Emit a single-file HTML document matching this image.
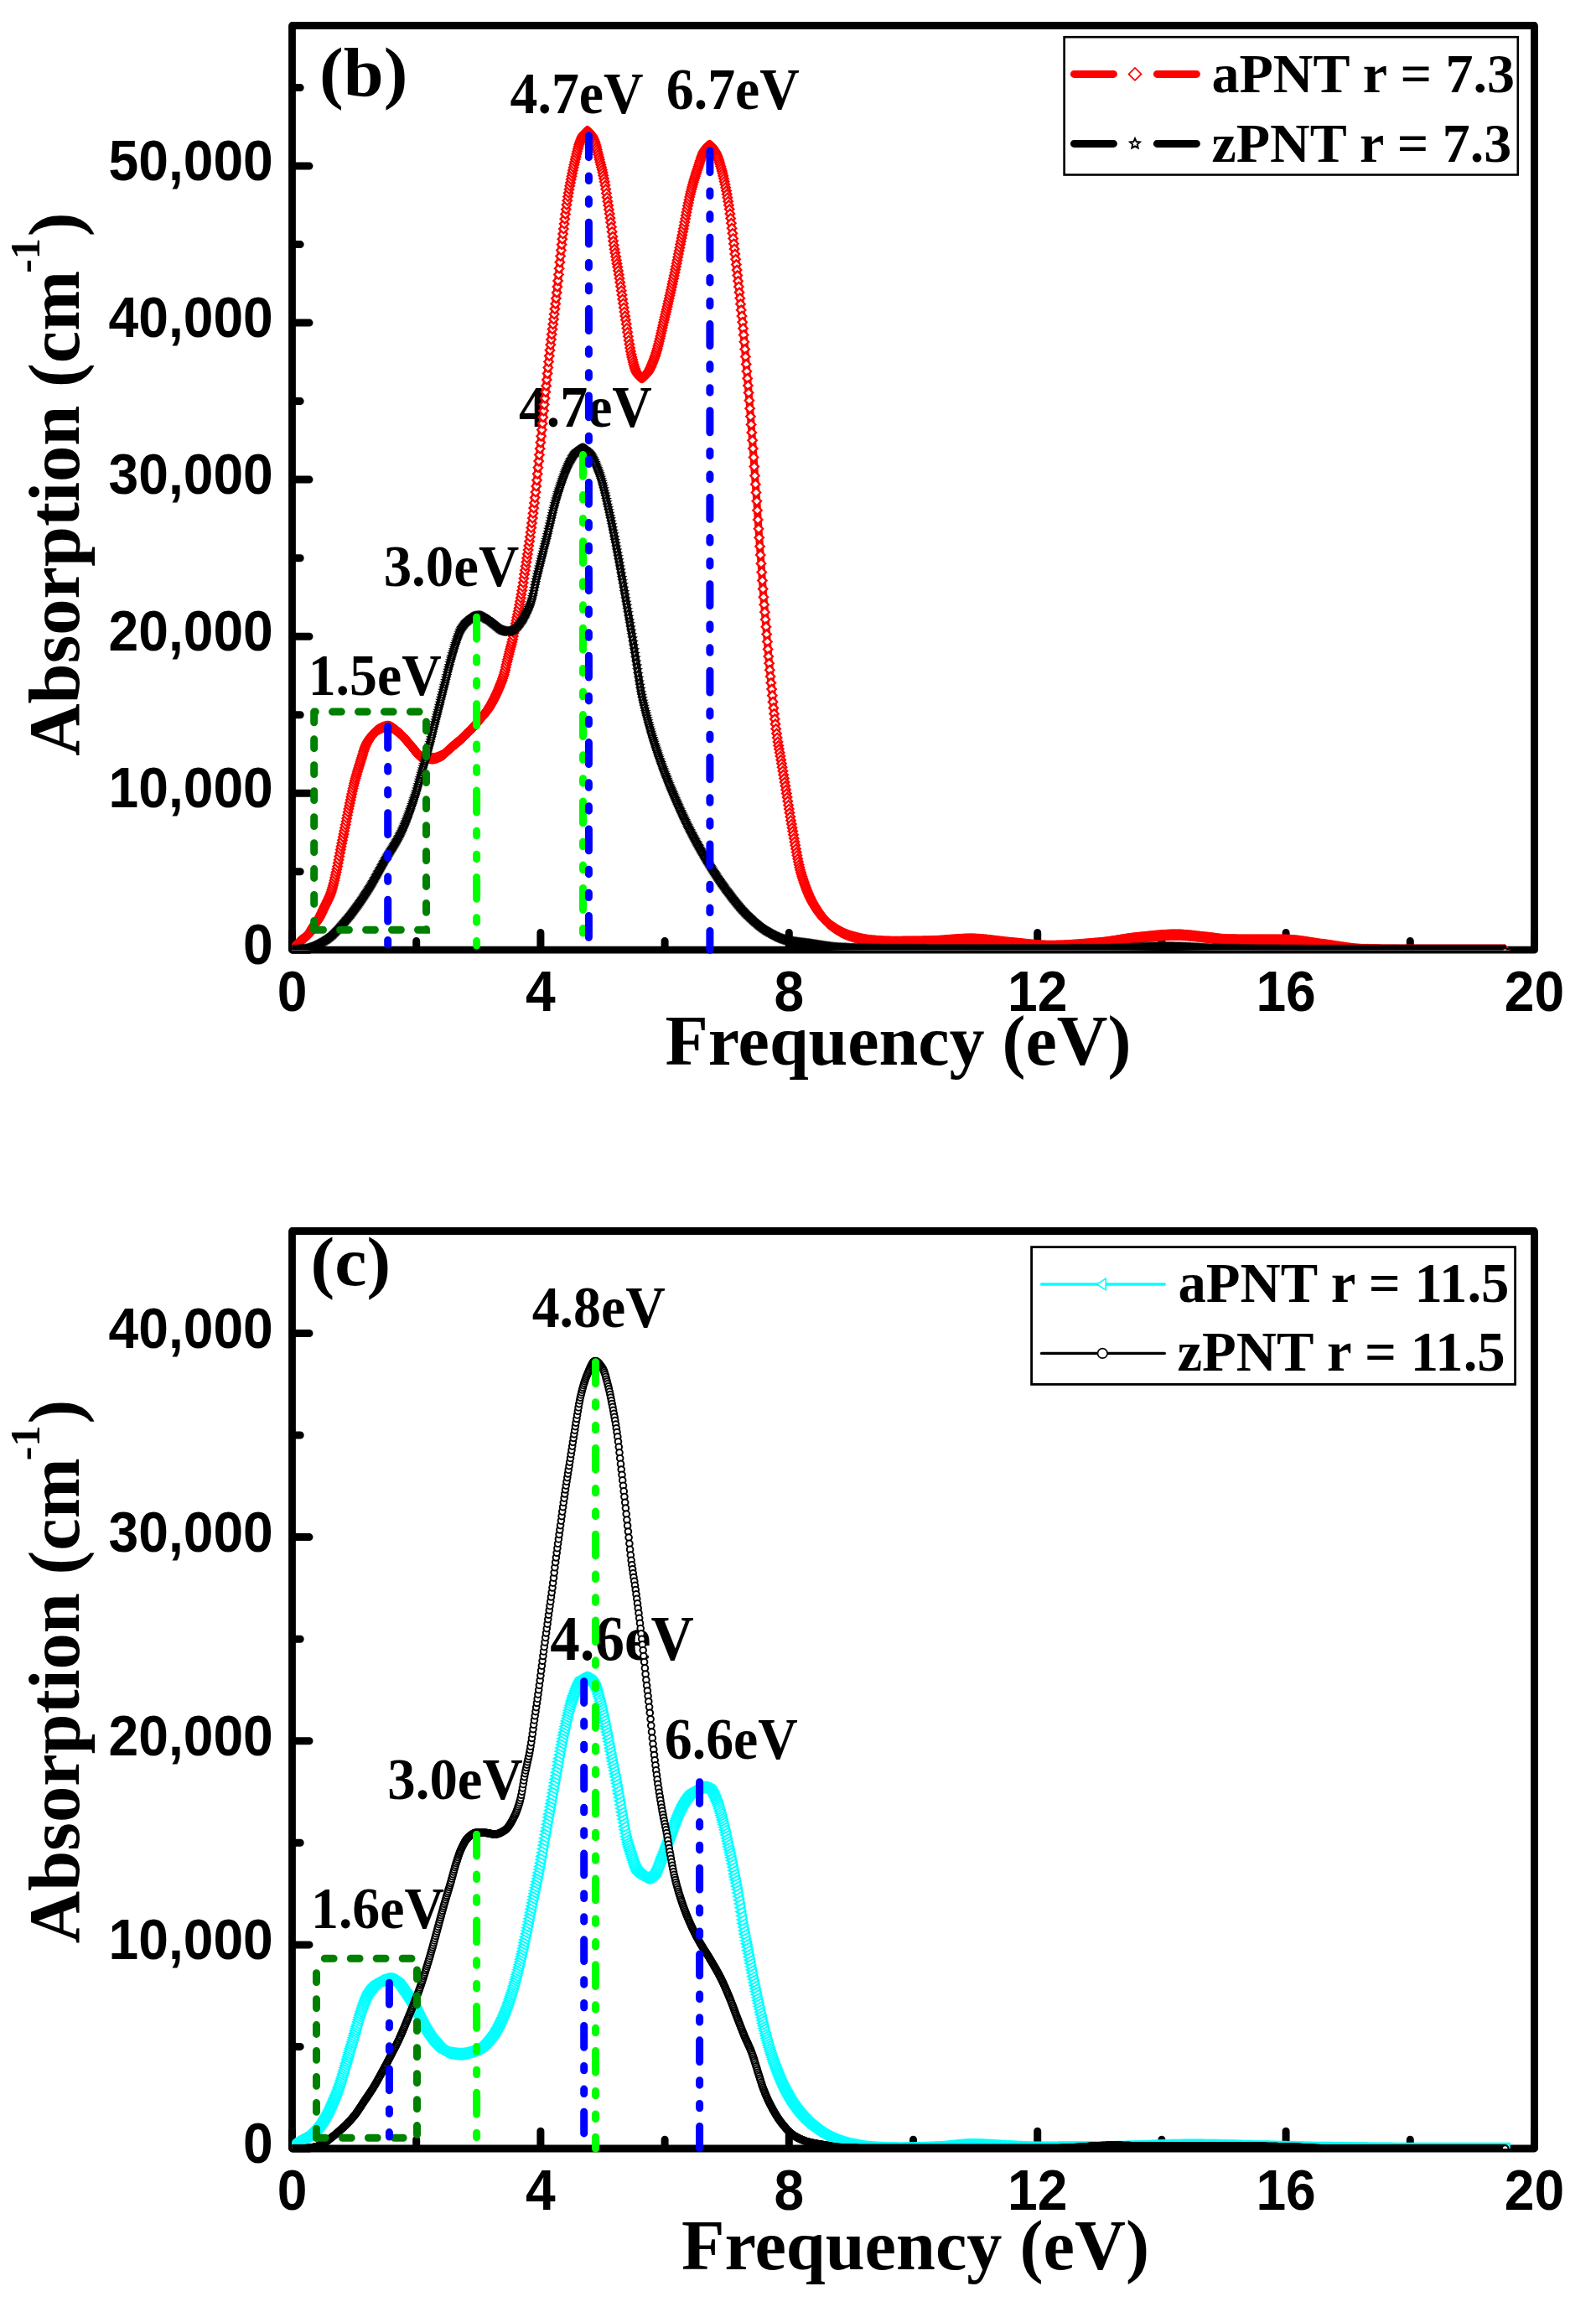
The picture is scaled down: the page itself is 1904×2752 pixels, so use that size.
<!DOCTYPE html><html><head><meta charset="utf-8"><title>Absorption</title><style>html,body{margin:0;padding:0;background:#fff}svg{display:block}text{fill:#000}</style></head><body>
<svg width="1904" height="2752" viewBox="0 0 1904 2752">
<defs>
<marker id="md" markerUnits="userSpaceOnUse" markerWidth="16" markerHeight="16" refX="8" refY="8" orient="0"><path d="M8 2.8L13.2 8L8 13.2L2.8 8Z" fill="#fff" stroke="#f00" stroke-width="2.3"/></marker>
<marker id="ms" markerUnits="userSpaceOnUse" markerWidth="16" markerHeight="16" refX="8" refY="8" orient="0"><path d="M8.00 3.70L9.12 6.66L12.28 6.81L9.81 8.79L10.65 11.84L8.00 10.10L5.35 11.84L6.19 8.79L3.72 6.81L6.88 6.66Z" fill="#fff" stroke="#000" stroke-width="1.7"/></marker>
<marker id="mt" markerUnits="userSpaceOnUse" markerWidth="16" markerHeight="16" refX="8" refY="8" orient="0"><path d="M2.7 8L13.1 2.2V13.8Z" fill="#fff" stroke="#0ff" stroke-width="2.1"/></marker>
<marker id="mc" markerUnits="userSpaceOnUse" markerWidth="14" markerHeight="14" refX="7" refY="7" orient="0"><circle cx="7" cy="7" r="3.8" fill="#fff" stroke="#000" stroke-width="2"/></marker>
<clipPath id="cb"><rect x="348.5" y="30.5" width="1482.0" height="1102.7"/></clipPath>
<clipPath id="cc"><rect x="348.5" y="1468.5" width="1482.0" height="1094.5"/></clipPath>
</defs>
<rect width="1904" height="2752" fill="#fff"/>
<rect x="348.5" y="30.5" width="1482.0" height="1102.7" fill="none" stroke="#000" stroke-width="8.8" stroke-linejoin="round"/>
<path d="M349.5 1133.2H369M349.5 946.2H369M349.5 759.2H369M349.5 572.1H369M349.5 385.1H369M349.5 198.1H369M349.5 1039.7H358.2M349.5 852.7H358.2M349.5 665.7H358.2M349.5 478.6H358.2M349.5 291.6H358.2M349.5 104.6H358.2M348.5 1132.2V1112.5M644.9 1132.2V1112.5M941.3 1132.2V1112.5M1237.7 1132.2V1112.5M1534.1 1132.2V1112.5M1830.5 1132.2V1112.5M496.7 1132.2V1122.5M793.1 1132.2V1122.5M1089.5 1132.2V1122.5M1385.9 1132.2V1122.5M1682.3 1132.2V1122.5" stroke="#000" stroke-width="9" stroke-linecap="round" fill="none"/>
<text transform="translate(325.8,1150.2) scale(0.925,1)" text-anchor="end" font-family="Liberation Sans, sans-serif" font-weight="bold" font-size="69.4">0</text>
<text transform="translate(325.8,963.2) scale(0.925,1)" text-anchor="end" font-family="Liberation Sans, sans-serif" font-weight="bold" font-size="69.4">10,000</text>
<text transform="translate(325.8,776.2) scale(0.925,1)" text-anchor="end" font-family="Liberation Sans, sans-serif" font-weight="bold" font-size="69.4">20,000</text>
<text transform="translate(325.8,589.1) scale(0.925,1)" text-anchor="end" font-family="Liberation Sans, sans-serif" font-weight="bold" font-size="69.4">30,000</text>
<text transform="translate(325.8,402.1) scale(0.925,1)" text-anchor="end" font-family="Liberation Sans, sans-serif" font-weight="bold" font-size="69.4">40,000</text>
<text transform="translate(325.8,215.1) scale(0.925,1)" text-anchor="end" font-family="Liberation Sans, sans-serif" font-weight="bold" font-size="69.4">50,000</text>
<text transform="translate(348.5,1206.0) scale(0.925,1)" text-anchor="middle" font-family="Liberation Sans, sans-serif" font-weight="bold" font-size="69.4">0</text>
<text transform="translate(644.9,1206.0) scale(0.925,1)" text-anchor="middle" font-family="Liberation Sans, sans-serif" font-weight="bold" font-size="69.4">4</text>
<text transform="translate(941.3,1206.0) scale(0.925,1)" text-anchor="middle" font-family="Liberation Sans, sans-serif" font-weight="bold" font-size="69.4">8</text>
<text transform="translate(1237.7,1206.0) scale(0.925,1)" text-anchor="middle" font-family="Liberation Sans, sans-serif" font-weight="bold" font-size="69.4">12</text>
<text transform="translate(1534.1,1206.0) scale(0.925,1)" text-anchor="middle" font-family="Liberation Sans, sans-serif" font-weight="bold" font-size="69.4">16</text>
<text transform="translate(1830.5,1206.0) scale(0.925,1)" text-anchor="middle" font-family="Liberation Sans, sans-serif" font-weight="bold" font-size="69.4">20</text>
<text transform="translate(608.6,134.7) scale(0.94,1)" font-family="Liberation Serif, serif" font-weight="bold" font-size="70" text-anchor="start" >4.7eV</text>
<text transform="translate(794.8,130.2) scale(0.94,1)" font-family="Liberation Serif, serif" font-weight="bold" font-size="70" text-anchor="start" >6.7eV</text>
<text transform="translate(618.9,508.6) scale(0.94,1)" font-family="Liberation Serif, serif" font-weight="bold" font-size="70" text-anchor="start" >4.7eV</text>
<text transform="translate(457.7,699) scale(0.955,1)" font-family="Liberation Serif, serif" font-weight="bold" font-size="70" text-anchor="start" >3.0eV</text>
<text transform="translate(367.7,829.2) scale(0.94,1)" font-family="Liberation Serif, serif" font-weight="bold" font-size="70" text-anchor="start" >1.5eV</text>
<text transform="translate(381.1,114.3) scale(1.05,1)" font-family="Liberation Serif, serif" font-weight="bold" font-size="82" text-anchor="start" >(b)</text>
<g clip-path="url(#cb)">
<path d="M348.5 1133.2L349.2 1132.3L350.0 1131.4L350.7 1130.5L351.5 1129.6L352.2 1128.7L352.9 1127.9L353.7 1127.1L354.4 1126.3L355.2 1125.5L355.9 1124.7L356.7 1124.0L357.4 1123.3L358.1 1122.6L358.9 1122.0L359.6 1121.4L360.4 1120.8L361.1 1120.3L361.8 1119.8L362.6 1119.3L363.3 1118.7L364.1 1118.2L364.8 1117.6L365.5 1117.0L366.3 1116.4L367.0 1115.7L367.8 1114.9L368.5 1114.0L369.2 1112.9L370.0 1111.7L370.7 1110.5L371.5 1109.2L372.2 1107.9L373.0 1106.6L373.7 1105.4L374.4 1104.2L375.2 1103.2L375.9 1102.2L376.7 1101.2L377.4 1100.2L378.1 1099.2L378.9 1098.1L379.6 1097.0L380.4 1095.8L381.1 1094.5L381.8 1093.1L382.6 1091.6L383.3 1090.0L384.1 1088.4L384.8 1086.8L385.6 1085.1L386.3 1083.5L387.0 1081.9L387.8 1080.4L388.5 1078.9L389.3 1077.4L390.0 1076.0L390.7 1074.5L391.5 1072.9L392.2 1071.3L393.0 1069.7L393.7 1067.9L394.4 1065.9L395.2 1063.9L395.9 1061.6L396.7 1059.1L397.4 1056.3L398.1 1053.4L398.9 1050.3L399.6 1047.1L400.4 1043.8L401.1 1040.5L401.9 1037.1L402.6 1033.5L403.3 1029.6L404.1 1025.7L404.8 1021.6L405.6 1017.6L406.3 1013.6L407.0 1009.8L407.8 1006.1L408.5 1002.3L409.3 998.6L410.0 994.9L410.7 991.2L411.5 987.5L412.2 983.8L413.0 980.0L413.7 976.2L414.4 972.5L415.2 968.7L415.9 965.0L416.7 961.4L417.4 957.9L418.2 954.3L418.9 950.8L419.6 947.3L420.4 943.8L421.1 940.5L421.9 937.3L422.6 934.3L423.3 931.4L424.1 928.6L424.8 926.0L425.6 923.4L426.3 920.8L427.0 918.3L427.8 915.9L428.5 913.5L429.3 911.1L430.0 908.7L430.8 906.3L431.5 903.9L432.2 901.4L433.0 898.9L433.7 896.5L434.5 894.2L435.2 892.1L435.9 890.2L436.7 888.5L437.4 887.0L438.2 885.6L438.9 884.3L439.6 883.1L440.4 881.9L441.1 880.8L441.9 879.8L442.6 878.8L443.3 877.9L444.1 877.0L444.8 876.1L445.6 875.3L446.3 874.4L447.1 873.6L447.8 872.9L448.5 872.2L449.3 871.6L450.0 871.0L450.8 870.6L451.5 870.2L452.2 869.8L453.0 869.4L453.7 869.0L454.5 868.7L455.2 868.3L455.9 868.0L456.7 867.7L457.4 867.4L458.2 867.2L458.9 867.0L459.6 866.8L460.4 866.6L461.1 866.5L461.9 866.4L462.6 866.4L463.4 866.4L464.1 866.5L464.8 866.7L465.6 866.9L466.3 867.2L467.1 867.6L467.8 868.0L468.5 868.4L469.3 868.9L470.0 869.4L470.8 869.9L471.5 870.5L472.2 871.1L473.0 871.7L473.7 872.3L474.5 872.9L475.2 873.5L476.0 874.1L476.7 874.7L477.4 875.3L478.2 875.9L478.9 876.6L479.7 877.3L480.4 878.1L481.1 878.9L481.9 879.7L482.6 880.5L483.4 881.4L484.1 882.3L484.8 883.2L485.6 884.0L486.3 884.9L487.1 885.8L487.8 886.7L488.5 887.6L489.3 888.4L490.0 889.2L490.8 890.0L491.5 890.9L492.3 891.8L493.0 892.8L493.7 893.7L494.5 894.7L495.2 895.6L496.0 896.6L496.7 897.5L497.4 898.4L498.2 899.3L498.9 900.0L499.7 900.7L500.4 901.4L501.1 901.9L501.9 902.4L502.6 902.7L503.4 902.9L504.1 903.1L504.9 903.3L505.6 903.4L506.3 903.6L507.1 903.8L507.8 903.9L508.6 904.1L509.3 904.2L510.0 904.3L510.8 904.4L511.5 904.5L512.3 904.6L513.0 904.7L513.7 904.7L514.5 904.8L515.2 904.8L516.0 904.8L516.7 904.8L517.4 904.7L518.2 904.6L518.9 904.5L519.7 904.3L520.4 904.1L521.2 903.9L521.9 903.6L522.6 903.3L523.4 903.0L524.1 902.7L524.9 902.4L525.6 902.0L526.3 901.7L527.1 901.3L527.8 901.0L528.6 900.5L529.3 900.0L530.0 899.3L530.8 898.7L531.5 898.0L532.3 897.2L533.0 896.5L533.8 895.8L534.5 895.1L535.2 894.4L536.0 893.8L536.7 893.1L537.5 892.5L538.2 891.8L538.9 891.2L539.7 890.6L540.4 889.9L541.2 889.3L541.9 888.7L542.6 888.0L543.4 887.4L544.1 886.8L544.9 886.2L545.6 885.6L546.3 885.0L547.1 884.4L547.8 883.8L548.6 883.2L549.3 882.5L550.1 881.9L550.8 881.2L551.5 880.5L552.3 879.8L553.0 879.0L553.8 878.3L554.5 877.6L555.2 876.8L556.0 876.0L556.7 875.3L557.5 874.5L558.2 873.8L558.9 873.1L559.7 872.4L560.4 871.6L561.2 870.9L561.9 870.2L562.6 869.5L563.4 868.7L564.1 867.9L564.9 867.1L565.6 866.3L566.4 865.5L567.1 864.6L567.8 863.8L568.6 862.9L569.3 862.0L570.1 861.1L570.8 860.1L571.5 859.2L572.3 858.3L573.0 857.5L573.8 856.6L574.5 855.8L575.2 854.9L576.0 854.1L576.7 853.2L577.5 852.4L578.2 851.5L579.0 850.6L579.7 849.6L580.4 848.6L581.2 847.5L581.9 846.5L582.7 845.3L583.4 844.2L584.1 843.0L584.9 841.7L585.6 840.5L586.4 839.2L587.1 837.9L587.8 836.5L588.6 835.1L589.3 833.7L590.1 832.2L590.8 830.7L591.5 829.1L592.3 827.5L593.0 825.9L593.8 824.2L594.5 822.4L595.3 820.7L596.0 818.9L596.7 817.1L597.5 815.3L598.2 813.4L599.0 811.4L599.7 809.3L600.4 807.1L601.2 804.7L601.9 802.1L602.7 799.2L603.4 796.0L604.1 792.8L604.9 789.5L605.6 786.5L606.4 783.5L607.1 780.5L607.8 777.6L608.6 774.6L609.3 771.7L610.1 768.9L610.8 765.9L611.6 762.7L612.3 759.1L613.0 755.2L613.8 751.2L614.5 747.5L615.3 743.8L616.0 740.2L616.7 736.5L617.5 732.9L618.2 729.2L619.0 725.5L619.7 721.6L620.4 717.5L621.2 713.3L621.9 709.1L622.7 704.6L623.4 700.0L624.2 695.1L624.9 690.1L625.6 685.1L626.4 680.3L627.1 675.4L627.9 670.6L628.6 665.8L629.3 660.9L630.1 656.0L630.8 651.0L631.6 645.8L632.3 640.5L633.0 635.0L633.8 629.5L634.5 623.9L635.3 618.1L636.0 612.2L636.7 606.1L637.5 599.9L638.2 593.6L639.0 587.0L639.7 580.0L640.5 572.8L641.2 565.3L641.9 557.7L642.7 550.1L643.4 542.6L644.2 535.2L644.9 527.8L645.6 520.3L646.4 512.8L647.1 505.2L647.9 497.7L648.6 490.1L649.3 482.6L650.1 475.1L650.8 467.6L651.6 460.2L652.3 452.9L653.1 445.6L653.8 438.5L654.5 431.5L655.3 424.6L656.0 417.8L656.8 411.3L657.5 405.0L658.2 398.8L659.0 392.7L659.7 386.8L660.5 380.8L661.2 374.8L661.9 368.6L662.7 362.4L663.4 355.9L664.2 349.1L664.9 342.1L665.6 334.9L666.4 327.5L667.1 320.2L667.9 312.8L668.6 305.6L669.4 298.5L670.1 291.7L670.8 285.2L671.6 279.0L672.3 273.0L673.1 267.0L673.8 261.2L674.5 255.4L675.3 249.7L676.0 244.3L676.8 239.3L677.5 234.6L678.2 230.2L679.0 225.9L679.7 221.8L680.5 217.9L681.2 214.1L682.0 210.3L682.7 206.7L683.4 203.2L684.2 199.8L684.9 196.5L685.7 193.2L686.4 190.1L687.1 187.0L687.9 183.8L688.6 180.8L689.4 177.8L690.1 175.0L690.8 172.5L691.6 170.3L692.3 168.3L693.1 166.4L693.8 164.6L694.5 163.1L695.3 161.8L696.0 160.7L696.8 159.8L697.5 158.9L698.3 158.1L699.0 157.4L699.7 156.9L700.5 156.6L701.2 156.7L702.0 157.0L702.7 157.6L703.4 158.4L704.2 159.3L704.9 160.2L705.7 161.2L706.4 162.3L707.1 163.6L707.9 165.1L708.6 166.8L709.4 168.5L710.1 170.6L710.8 173.0L711.6 175.6L712.3 178.4L713.1 181.4L713.8 184.4L714.6 187.4L715.3 190.4L716.0 193.4L716.8 196.4L717.5 199.4L718.3 202.6L719.0 205.8L719.7 209.3L720.5 212.9L721.2 216.8L722.0 221.1L722.7 225.7L723.4 230.5L724.2 235.4L724.9 240.3L725.7 245.1L726.4 250.0L727.2 255.0L727.9 260.1L728.6 265.3L729.4 270.8L730.1 276.5L730.9 282.2L731.6 287.6L732.3 292.5L733.1 297.2L733.8 301.6L734.6 306.0L735.3 310.2L736.0 314.4L736.8 318.6L737.5 322.9L738.3 327.4L739.0 332.0L739.7 336.8L740.5 341.7L741.2 346.7L742.0 351.8L742.7 356.9L743.5 362.0L744.2 367.0L744.9 372.0L745.7 376.9L746.4 381.6L747.2 386.5L747.9 391.4L748.6 396.3L749.4 401.2L750.1 406.0L750.9 410.6L751.6 415.0L752.3 419.0L753.1 422.7L753.8 425.9L754.6 429.0L755.3 432.0L756.0 434.8L756.8 437.4L757.5 439.8L758.3 441.9L759.0 443.6L759.8 445.0L760.5 446.1L761.2 447.1L762.0 448.1L762.7 448.9L763.5 449.6L764.2 450.2L764.9 450.5L765.7 450.6L766.4 450.5L767.2 450.2L767.9 449.7L768.6 449.1L769.4 448.3L770.1 447.6L770.9 446.7L771.6 445.9L772.4 445.0L773.1 444.0L773.8 442.8L774.6 441.5L775.3 440.0L776.1 438.5L776.8 436.9L777.5 435.1L778.3 433.3L779.0 431.5L779.8 429.5L780.5 427.5L781.2 425.5L782.0 423.4L782.7 421.1L783.5 418.6L784.2 415.9L784.9 413.1L785.7 410.2L786.4 407.2L787.2 404.1L787.9 400.9L788.7 397.6L789.4 394.4L790.1 391.1L790.9 387.9L791.6 384.6L792.4 381.5L793.1 378.3L793.8 375.2L794.6 372.1L795.3 368.9L796.1 365.7L796.8 362.4L797.5 359.2L798.3 355.9L799.0 352.6L799.8 349.3L800.5 345.9L801.3 342.5L802.0 339.1L802.7 335.7L803.5 332.2L804.2 328.7L805.0 325.2L805.7 321.6L806.4 317.9L807.2 314.2L807.9 310.5L808.7 306.7L809.4 303.0L810.1 299.2L810.9 295.4L811.6 291.6L812.4 287.9L813.1 284.1L813.8 280.4L814.6 276.6L815.3 272.8L816.1 268.9L816.8 265.0L817.6 261.0L818.3 257.1L819.0 253.2L819.8 249.3L820.5 245.6L821.3 241.9L822.0 238.4L822.7 235.0L823.5 231.7L824.2 228.7L825.0 225.8L825.7 223.0L826.4 220.3L827.2 217.6L827.9 215.1L828.7 212.6L829.4 210.2L830.1 207.8L830.9 205.5L831.6 203.2L832.4 200.9L833.1 198.7L833.9 196.4L834.6 194.1L835.3 191.7L836.1 189.5L836.8 187.3L837.6 185.3L838.3 183.4L839.0 181.8L839.8 180.4L840.5 179.3L841.3 178.2L842.0 177.2L842.7 176.2L843.5 175.3L844.2 174.6L845.0 174.0L845.7 173.6L846.5 173.5L847.2 173.6L847.9 173.9L848.7 174.5L849.4 175.2L850.2 176.1L850.9 177.2L851.6 178.3L852.4 179.5L853.1 180.7L853.9 182.0L854.6 183.3L855.3 184.9L856.1 186.7L856.8 188.7L857.6 191.0L858.3 193.4L859.0 195.9L859.8 198.5L860.5 201.2L861.3 204.0L862.0 206.8L862.8 209.8L863.5 213.0L864.2 216.4L865.0 219.9L865.7 223.7L866.5 227.6L867.2 231.6L867.9 235.8L868.7 240.2L869.4 244.7L870.2 249.6L870.9 254.9L871.6 260.4L872.4 266.2L873.1 272.2L873.9 278.3L874.6 284.5L875.4 290.8L876.1 296.9L876.8 303.1L877.6 309.3L878.3 315.6L879.1 322.1L879.8 328.6L880.5 335.3L881.3 342.0L882.0 348.8L882.8 355.7L883.5 362.7L884.2 369.8L885.0 377.0L885.7 384.3L886.5 391.7L887.2 399.5L887.9 407.8L888.7 416.6L889.4 425.6L890.2 434.4L890.9 443.0L891.7 451.4L892.4 459.9L893.1 468.6L893.9 477.7L894.6 487.2L895.4 496.8L896.1 506.4L896.8 515.9L897.6 525.3L898.3 535.1L899.1 545.5L899.8 556.6L900.5 567.5L901.3 577.7L902.0 587.5L902.8 597.8L903.5 608.7L904.2 619.9L905.0 630.8L905.7 641.3L906.5 651.7L907.2 662.0L908.0 672.2L908.7 682.5L909.4 692.6L910.2 702.6L910.9 712.2L911.7 721.3L912.4 730.2L913.1 739.0L913.9 747.7L914.6 756.6L915.4 765.5L916.1 774.4L916.8 783.0L917.6 791.3L918.3 799.2L919.1 807.0L919.8 814.6L920.6 822.1L921.3 829.7L922.0 837.3L922.8 844.6L923.5 851.4L924.3 857.7L925.0 863.7L925.7 869.4L926.5 874.9L927.2 880.0L928.0 884.9L928.7 889.4L929.4 893.6L930.2 897.7L930.9 902.0L931.7 906.4L932.4 910.8L933.1 915.2L933.9 919.7L934.6 924.2L935.4 928.6L936.1 933.1L936.9 937.6L937.6 942.1L938.3 946.6L939.1 951.1L939.8 955.7L940.6 960.4L941.3 965.0L942.0 969.6L942.8 974.2L943.5 978.7L944.3 983.1L945.0 987.4L945.7 991.6L946.5 995.7L947.2 999.9L948.0 1004.2L948.7 1008.3L949.5 1012.5L950.2 1016.6L950.9 1020.5L951.7 1024.4L952.4 1028.0L953.2 1031.5L953.9 1034.7L954.6 1037.7L955.4 1040.4L956.1 1043.0L956.9 1045.4L957.6 1047.8L958.3 1050.1L959.1 1052.3L959.8 1054.5L960.6 1056.6L961.3 1058.6L962.0 1060.6L962.8 1062.5L963.5 1064.3L964.3 1066.1L965.0 1067.8L965.8 1069.4L966.5 1071.0L967.2 1072.5L968.0 1074.0L968.7 1075.4L969.5 1076.7L970.2 1078.0L970.9 1079.3L971.7 1080.5L972.4 1081.7L973.2 1082.9L973.9 1084.1L974.6 1085.2L975.4 1086.3L976.1 1087.4L976.9 1088.4L977.6 1089.5L978.3 1090.5L979.1 1091.5L979.8 1092.4L980.6 1093.4L981.3 1094.3L982.1 1095.2L982.8 1096.0L983.5 1096.8L984.3 1097.6L985.0 1098.4L985.8 1099.2L986.5 1099.9L987.2 1100.6L988.0 1101.3L988.7 1101.9L989.5 1102.5L990.2 1103.1L990.9 1103.7L991.7 1104.2L992.4 1104.8L993.2 1105.3L993.9 1105.8L994.7 1106.3L995.4 1106.8L996.1 1107.3L996.9 1107.8L997.6 1108.3L998.4 1108.8L999.1 1109.2L999.8 1109.7L1000.6 1110.1L1001.3 1110.6L1002.1 1111.0L1002.8 1111.4L1003.5 1111.8L1004.3 1112.2L1005.0 1112.6L1005.8 1112.9L1006.5 1113.3L1007.2 1113.6L1008.0 1114.0L1008.7 1114.3L1009.5 1114.6L1010.2 1114.9L1011.0 1115.2L1011.7 1115.5L1012.4 1115.8L1013.2 1116.0L1013.9 1116.3L1014.7 1116.5L1015.4 1116.7L1016.1 1117.0L1016.9 1117.2L1017.6 1117.4L1018.4 1117.6L1019.1 1117.8L1019.8 1118.0L1020.6 1118.2L1021.3 1118.4L1022.1 1118.6L1022.8 1118.8L1023.6 1119.0L1024.3 1119.2L1025.0 1119.4L1025.8 1119.5L1026.5 1119.7L1027.3 1119.9L1028.0 1120.0L1028.7 1120.2L1029.5 1120.4L1030.2 1120.5L1031.0 1120.6L1031.7 1120.8L1032.4 1120.9L1033.2 1121.0L1033.9 1121.2L1034.7 1121.3L1035.4 1121.4L1036.1 1121.5L1036.9 1121.6L1037.6 1121.7L1038.4 1121.8L1039.1 1121.8L1039.9 1121.9L1040.6 1122.0L1041.3 1122.0L1042.1 1122.1L1042.8 1122.2L1043.6 1122.2L1044.3 1122.3L1045.0 1122.3L1045.8 1122.4L1046.5 1122.5L1047.3 1122.5L1048.0 1122.6L1048.7 1122.6L1049.5 1122.7L1050.2 1122.7L1051.0 1122.8L1051.7 1122.8L1052.4 1122.9L1053.2 1122.9L1053.9 1122.9L1054.7 1123.0L1055.4 1123.0L1056.2 1123.0L1056.9 1123.1L1057.6 1123.1L1058.4 1123.1L1059.1 1123.2L1059.9 1123.2L1060.6 1123.2L1061.3 1123.2L1062.1 1123.2L1062.8 1123.3L1063.6 1123.3L1064.3 1123.3L1065.0 1123.3L1065.8 1123.3L1066.5 1123.3L1067.3 1123.3L1068.0 1123.3L1068.8 1123.3L1069.5 1123.3L1070.2 1123.3L1071.0 1123.3L1071.7 1123.3L1072.5 1123.3L1073.2 1123.3L1073.9 1123.3L1074.7 1123.3L1075.4 1123.3L1076.2 1123.3L1076.9 1123.2L1077.6 1123.2L1078.4 1123.2L1079.1 1123.2L1079.9 1123.2L1080.6 1123.2L1081.3 1123.2L1082.1 1123.2L1082.8 1123.2L1083.6 1123.2L1084.3 1123.2L1085.1 1123.2L1085.8 1123.2L1086.5 1123.2L1087.3 1123.1L1088.0 1123.1L1088.8 1123.1L1089.5 1123.1L1090.2 1123.1L1091.0 1123.1L1091.7 1123.1L1092.5 1123.1L1093.2 1123.1L1093.9 1123.0L1094.7 1123.0L1095.4 1123.0L1096.2 1123.0L1096.9 1123.0L1097.7 1123.0L1098.4 1123.0L1099.1 1123.0L1099.9 1123.0L1100.6 1122.9L1101.4 1122.9L1102.1 1122.9L1102.8 1122.9L1103.6 1122.9L1104.3 1122.9L1105.1 1122.9L1105.8 1122.8L1106.5 1122.8L1107.3 1122.8L1108.0 1122.8L1108.8 1122.8L1109.5 1122.8L1110.2 1122.8L1111.0 1122.7L1111.7 1122.7L1112.5 1122.7L1113.2 1122.7L1114.0 1122.7L1114.7 1122.6L1115.4 1122.6L1116.2 1122.6L1116.9 1122.6L1117.7 1122.5L1118.4 1122.5L1119.1 1122.4L1119.9 1122.4L1120.6 1122.4L1121.4 1122.3L1122.1 1122.3L1122.8 1122.2L1123.6 1122.2L1124.3 1122.1L1125.1 1122.1L1125.8 1122.0L1126.5 1121.9L1127.3 1121.9L1128.0 1121.8L1128.8 1121.8L1129.5 1121.7L1130.3 1121.7L1131.0 1121.6L1131.7 1121.5L1132.5 1121.5L1133.2 1121.4L1134.0 1121.4L1134.7 1121.3L1135.4 1121.2L1136.2 1121.2L1136.9 1121.1L1137.7 1121.1L1138.4 1121.0L1139.1 1121.0L1139.9 1120.9L1140.6 1120.8L1141.4 1120.8L1142.1 1120.7L1142.9 1120.7L1143.6 1120.6L1144.3 1120.6L1145.1 1120.5L1145.8 1120.5L1146.6 1120.5L1147.3 1120.4L1148.0 1120.4L1148.8 1120.3L1149.5 1120.3L1150.3 1120.3L1151.0 1120.2L1151.7 1120.2L1152.5 1120.2L1153.2 1120.2L1154.0 1120.2L1154.7 1120.1L1155.4 1120.1L1156.2 1120.1L1156.9 1120.1L1157.7 1120.1L1158.4 1120.1L1159.2 1120.1L1159.9 1120.1L1160.6 1120.1L1161.4 1120.2L1162.1 1120.2L1162.9 1120.2L1163.6 1120.2L1164.3 1120.3L1165.1 1120.3L1165.8 1120.3L1166.6 1120.4L1167.3 1120.4L1168.0 1120.5L1168.8 1120.5L1169.5 1120.6L1170.3 1120.6L1171.0 1120.7L1171.8 1120.8L1172.5 1120.8L1173.2 1120.9L1174.0 1121.0L1174.7 1121.0L1175.5 1121.1L1176.2 1121.2L1176.9 1121.2L1177.7 1121.3L1178.4 1121.4L1179.2 1121.5L1179.9 1121.6L1180.6 1121.6L1181.4 1121.7L1182.1 1121.8L1182.9 1121.9L1183.6 1122.0L1184.3 1122.1L1185.1 1122.2L1185.8 1122.3L1186.6 1122.4L1187.3 1122.4L1188.1 1122.5L1188.8 1122.6L1189.5 1122.7L1190.3 1122.8L1191.0 1122.9L1191.8 1123.0L1192.5 1123.1L1193.2 1123.2L1194.0 1123.3L1194.7 1123.4L1195.5 1123.4L1196.2 1123.5L1196.9 1123.6L1197.7 1123.7L1198.4 1123.8L1199.2 1123.9L1199.9 1124.0L1200.7 1124.0L1201.4 1124.1L1202.1 1124.2L1202.9 1124.3L1203.6 1124.4L1204.4 1124.4L1205.1 1124.5L1205.8 1124.6L1206.6 1124.7L1207.3 1124.7L1208.1 1124.8L1208.8 1124.8L1209.5 1124.9L1210.3 1125.0L1211.0 1125.1L1211.8 1125.1L1212.5 1125.2L1213.2 1125.3L1214.0 1125.3L1214.7 1125.4L1215.5 1125.5L1216.2 1125.6L1217.0 1125.6L1217.7 1125.7L1218.4 1125.8L1219.2 1125.9L1219.9 1126.0L1220.7 1126.0L1221.4 1126.1L1222.1 1126.2L1222.9 1126.3L1223.6 1126.3L1224.4 1126.4L1225.1 1126.5L1225.8 1126.6L1226.6 1126.7L1227.3 1126.7L1228.1 1126.8L1228.8 1126.9L1229.5 1127.0L1230.3 1127.0L1231.0 1127.1L1231.8 1127.2L1232.5 1127.3L1233.3 1127.3L1234.0 1127.4L1234.7 1127.5L1235.5 1127.5L1236.2 1127.6L1237.0 1127.6L1237.7 1127.7L1238.4 1127.8L1239.2 1127.8L1239.9 1127.9L1240.7 1127.9L1241.4 1128.0L1242.1 1128.0L1242.9 1128.0L1243.6 1128.1L1244.4 1128.1L1245.1 1128.2L1245.9 1128.2L1246.6 1128.2L1247.3 1128.2L1248.1 1128.3L1248.8 1128.3L1249.6 1128.3L1250.3 1128.3L1251.0 1128.3L1251.8 1128.3L1252.5 1128.3L1253.3 1128.3L1254.0 1128.3L1254.7 1128.3L1255.5 1128.3L1256.2 1128.3L1257.0 1128.3L1257.7 1128.3L1258.4 1128.3L1259.2 1128.3L1259.9 1128.3L1260.7 1128.2L1261.4 1128.2L1262.2 1128.2L1262.9 1128.2L1263.6 1128.2L1264.4 1128.1L1265.1 1128.1L1265.9 1128.1L1266.6 1128.0L1267.3 1128.0L1268.1 1128.0L1268.8 1128.0L1269.6 1127.9L1270.3 1127.9L1271.0 1127.9L1271.8 1127.8L1272.5 1127.8L1273.3 1127.7L1274.0 1127.7L1274.8 1127.7L1275.5 1127.6L1276.2 1127.6L1277.0 1127.5L1277.7 1127.5L1278.5 1127.4L1279.2 1127.4L1279.9 1127.3L1280.7 1127.3L1281.4 1127.2L1282.2 1127.2L1282.9 1127.1L1283.6 1127.1L1284.4 1127.0L1285.1 1127.0L1285.9 1126.9L1286.6 1126.9L1287.3 1126.8L1288.1 1126.8L1288.8 1126.7L1289.6 1126.6L1290.3 1126.6L1291.1 1126.5L1291.8 1126.5L1292.5 1126.4L1293.3 1126.4L1294.0 1126.3L1294.8 1126.2L1295.5 1126.2L1296.2 1126.1L1297.0 1126.1L1297.7 1126.0L1298.5 1125.9L1299.2 1125.9L1299.9 1125.8L1300.7 1125.7L1301.4 1125.7L1302.2 1125.6L1302.9 1125.5L1303.6 1125.5L1304.4 1125.4L1305.1 1125.4L1305.9 1125.3L1306.6 1125.2L1307.4 1125.2L1308.1 1125.1L1308.8 1125.0L1309.6 1125.0L1310.3 1124.9L1311.1 1124.8L1311.8 1124.8L1312.5 1124.7L1313.3 1124.7L1314.0 1124.6L1314.8 1124.5L1315.5 1124.4L1316.2 1124.3L1317.0 1124.3L1317.7 1124.2L1318.5 1124.1L1319.2 1124.0L1320.0 1123.9L1320.7 1123.8L1321.4 1123.7L1322.2 1123.6L1322.9 1123.5L1323.7 1123.4L1324.4 1123.3L1325.1 1123.2L1325.9 1123.1L1326.6 1122.9L1327.4 1122.8L1328.1 1122.7L1328.8 1122.6L1329.6 1122.5L1330.3 1122.4L1331.1 1122.3L1331.8 1122.1L1332.5 1122.0L1333.3 1121.9L1334.0 1121.8L1334.8 1121.7L1335.5 1121.5L1336.3 1121.4L1337.0 1121.3L1337.7 1121.2L1338.5 1121.1L1339.2 1120.9L1340.0 1120.8L1340.7 1120.7L1341.4 1120.6L1342.2 1120.5L1342.9 1120.4L1343.7 1120.2L1344.4 1120.1L1345.1 1120.0L1345.9 1119.9L1346.6 1119.8L1347.4 1119.7L1348.1 1119.6L1348.8 1119.5L1349.6 1119.4L1350.3 1119.3L1351.1 1119.2L1351.8 1119.1L1352.6 1119.0L1353.3 1118.9L1354.0 1118.8L1354.8 1118.8L1355.5 1118.7L1356.3 1118.6L1357.0 1118.5L1357.7 1118.5L1358.5 1118.4L1359.2 1118.3L1360.0 1118.2L1360.7 1118.2L1361.4 1118.1L1362.2 1118.0L1362.9 1117.9L1363.7 1117.9L1364.4 1117.8L1365.2 1117.7L1365.9 1117.6L1366.6 1117.5L1367.4 1117.5L1368.1 1117.4L1368.9 1117.3L1369.6 1117.2L1370.3 1117.2L1371.1 1117.1L1371.8 1117.0L1372.6 1116.9L1373.3 1116.9L1374.0 1116.8L1374.8 1116.7L1375.5 1116.6L1376.3 1116.6L1377.0 1116.5L1377.7 1116.4L1378.5 1116.4L1379.2 1116.3L1380.0 1116.2L1380.7 1116.2L1381.5 1116.1L1382.2 1116.0L1382.9 1116.0L1383.7 1115.9L1384.4 1115.9L1385.2 1115.8L1385.9 1115.7L1386.6 1115.7L1387.4 1115.6L1388.1 1115.6L1388.9 1115.5L1389.6 1115.5L1390.3 1115.5L1391.1 1115.4L1391.8 1115.4L1392.6 1115.3L1393.3 1115.3L1394.1 1115.3L1394.8 1115.2L1395.5 1115.2L1396.3 1115.2L1397.0 1115.2L1397.8 1115.1L1398.5 1115.1L1399.2 1115.1L1400.0 1115.1L1400.7 1115.1L1401.5 1115.1L1402.2 1115.1L1402.9 1115.1L1403.7 1115.1L1404.4 1115.1L1405.2 1115.1L1405.9 1115.1L1406.6 1115.1L1407.4 1115.1L1408.1 1115.2L1408.9 1115.2L1409.6 1115.2L1410.4 1115.3L1411.1 1115.3L1411.8 1115.4L1412.6 1115.4L1413.3 1115.5L1414.1 1115.5L1414.8 1115.6L1415.5 1115.6L1416.3 1115.7L1417.0 1115.8L1417.8 1115.8L1418.5 1115.9L1419.2 1116.0L1420.0 1116.1L1420.7 1116.1L1421.5 1116.2L1422.2 1116.3L1422.9 1116.4L1423.7 1116.4L1424.4 1116.5L1425.2 1116.6L1425.9 1116.7L1426.7 1116.8L1427.4 1116.9L1428.1 1117.0L1428.9 1117.0L1429.6 1117.1L1430.4 1117.2L1431.1 1117.3L1431.8 1117.4L1432.6 1117.5L1433.3 1117.5L1434.1 1117.6L1434.8 1117.7L1435.5 1117.8L1436.3 1117.9L1437.0 1117.9L1437.8 1118.0L1438.5 1118.1L1439.3 1118.2L1440.0 1118.2L1440.7 1118.3L1441.5 1118.4L1442.2 1118.5L1443.0 1118.6L1443.7 1118.6L1444.4 1118.7L1445.2 1118.8L1445.9 1118.9L1446.7 1119.0L1447.4 1119.1L1448.1 1119.2L1448.9 1119.3L1449.6 1119.4L1450.4 1119.5L1451.1 1119.6L1451.8 1119.7L1452.6 1119.8L1453.3 1119.9L1454.1 1120.0L1454.8 1120.1L1455.6 1120.2L1456.3 1120.3L1457.0 1120.3L1457.8 1120.4L1458.5 1120.5L1459.3 1120.5L1460.0 1120.6L1460.7 1120.7L1461.5 1120.7L1462.2 1120.8L1463.0 1120.8L1463.7 1120.8L1464.4 1120.8L1465.2 1120.9L1465.9 1120.9L1466.7 1120.9L1467.4 1120.9L1468.2 1120.9L1468.9 1120.9L1469.6 1120.9L1470.4 1120.9L1471.1 1120.9L1471.9 1120.9L1472.6 1120.9L1473.3 1120.9L1474.1 1120.9L1474.8 1120.9L1475.6 1121.0L1476.3 1121.0L1477.0 1121.0L1477.8 1121.0L1478.5 1121.0L1479.3 1121.0L1480.0 1121.0L1480.7 1121.0L1481.5 1121.0L1482.2 1121.0L1483.0 1121.0L1483.7 1121.0L1484.5 1121.0L1485.2 1121.0L1485.9 1121.0L1486.7 1121.0L1487.4 1121.0L1488.2 1121.0L1488.9 1121.0L1489.6 1121.0L1490.4 1121.0L1491.1 1121.0L1491.9 1121.0L1492.6 1121.0L1493.3 1121.0L1494.1 1121.0L1494.8 1121.0L1495.6 1121.0L1496.3 1121.0L1497.0 1121.0L1497.8 1121.0L1498.5 1121.0L1499.3 1121.1L1500.0 1121.1L1500.8 1121.1L1501.5 1121.1L1502.2 1121.1L1503.0 1121.1L1503.7 1121.1L1504.5 1121.1L1505.2 1121.1L1505.9 1121.1L1506.7 1121.1L1507.4 1121.1L1508.2 1121.1L1508.9 1121.1L1509.6 1121.1L1510.4 1121.1L1511.1 1121.1L1511.9 1121.1L1512.6 1121.1L1513.4 1121.1L1514.1 1121.1L1514.8 1121.1L1515.6 1121.1L1516.3 1121.1L1517.1 1121.1L1517.8 1121.1L1518.5 1121.1L1519.3 1121.1L1520.0 1121.1L1520.8 1121.1L1521.5 1121.1L1522.2 1121.1L1523.0 1121.1L1523.7 1121.1L1524.5 1121.1L1525.2 1121.2L1525.9 1121.2L1526.7 1121.2L1527.4 1121.2L1528.2 1121.2L1528.9 1121.2L1529.7 1121.2L1530.4 1121.2L1531.1 1121.2L1531.9 1121.2L1532.6 1121.2L1533.4 1121.2L1534.1 1121.2L1534.8 1121.2L1535.6 1121.3L1536.3 1121.3L1537.1 1121.3L1537.8 1121.3L1538.5 1121.4L1539.3 1121.4L1540.0 1121.5L1540.8 1121.5L1541.5 1121.6L1542.3 1121.6L1543.0 1121.7L1543.7 1121.8L1544.5 1121.8L1545.2 1121.9L1546.0 1122.0L1546.7 1122.1L1547.4 1122.1L1548.2 1122.2L1548.9 1122.3L1549.7 1122.4L1550.4 1122.5L1551.1 1122.6L1551.9 1122.7L1552.6 1122.8L1553.4 1122.9L1554.1 1123.0L1554.8 1123.1L1555.6 1123.2L1556.3 1123.3L1557.1 1123.4L1557.8 1123.6L1558.6 1123.7L1559.3 1123.8L1560.0 1123.9L1560.8 1124.0L1561.5 1124.1L1562.3 1124.3L1563.0 1124.4L1563.7 1124.5L1564.5 1124.6L1565.2 1124.7L1566.0 1124.8L1566.7 1125.0L1567.4 1125.1L1568.2 1125.2L1568.9 1125.3L1569.7 1125.4L1570.4 1125.5L1571.1 1125.6L1571.9 1125.7L1572.6 1125.9L1573.4 1126.0L1574.1 1126.1L1574.9 1126.2L1575.6 1126.3L1576.3 1126.4L1577.1 1126.5L1577.8 1126.6L1578.6 1126.7L1579.3 1126.7L1580.0 1126.8L1580.8 1126.9L1581.5 1127.0L1582.3 1127.1L1583.0 1127.2L1583.7 1127.3L1584.5 1127.4L1585.2 1127.5L1586.0 1127.6L1586.7 1127.8L1587.5 1127.9L1588.2 1128.0L1588.9 1128.1L1589.7 1128.2L1590.4 1128.3L1591.2 1128.4L1591.9 1128.5L1592.6 1128.6L1593.4 1128.8L1594.1 1128.9L1594.9 1129.0L1595.6 1129.1L1596.3 1129.2L1597.1 1129.3L1597.8 1129.4L1598.6 1129.6L1599.3 1129.7L1600.0 1129.8L1600.8 1129.9L1601.5 1130.0L1602.3 1130.1L1603.0 1130.2L1603.8 1130.3L1604.5 1130.4L1605.2 1130.5L1606.0 1130.6L1606.7 1130.8L1607.5 1130.9L1608.2 1131.0L1608.9 1131.1L1609.7 1131.1L1610.4 1131.2L1611.2 1131.3L1611.9 1131.4L1612.6 1131.5L1613.4 1131.6L1614.1 1131.7L1614.9 1131.8L1615.6 1131.8L1616.4 1131.9L1617.1 1132.0L1617.8 1132.0L1618.6 1132.1L1619.3 1132.2L1620.1 1132.2L1620.8 1132.3L1621.5 1132.3L1622.3 1132.4L1623.0 1132.4L1623.8 1132.5L1624.5 1132.5L1625.2 1132.5L1626.0 1132.6L1626.7 1132.6L1627.5 1132.6L1628.2 1132.6L1628.9 1132.7L1629.7 1132.7L1630.4 1132.7L1631.2 1132.7L1631.9 1132.7L1632.7 1132.7L1633.4 1132.7L1634.1 1132.7L1634.9 1132.8L1635.6 1132.8L1636.4 1132.8L1637.1 1132.8L1637.8 1132.8L1638.6 1132.8L1639.3 1132.8L1640.1 1132.8L1640.8 1132.9L1641.5 1132.9L1642.3 1132.9L1643.0 1132.9L1643.8 1132.9L1644.5 1132.9L1645.2 1132.9L1646.0 1132.9L1646.7 1132.9L1647.5 1133.0L1648.2 1133.0L1649.0 1133.0L1649.7 1133.0L1650.4 1133.0L1651.2 1133.0L1651.9 1133.0L1652.7 1133.0L1653.4 1133.0L1654.1 1133.0L1654.9 1133.0L1655.6 1133.1L1656.4 1133.1L1657.1 1133.1L1657.8 1133.1L1658.6 1133.1L1659.3 1133.1L1660.1 1133.1L1660.8 1133.1L1661.6 1133.1L1662.3 1133.1L1663.0 1133.1L1663.8 1133.1L1664.5 1133.1L1665.3 1133.1L1666.0 1133.1L1666.7 1133.1L1667.5 1133.2L1668.2 1133.2L1669.0 1133.2L1669.7 1133.2L1670.4 1133.2L1671.2 1133.2L1671.9 1133.2L1672.7 1133.2L1673.4 1133.2L1674.1 1133.2L1674.9 1133.2L1675.6 1133.2L1676.4 1133.2L1677.1 1133.2L1677.9 1133.2L1678.6 1133.2L1679.3 1133.2L1680.1 1133.2L1680.8 1133.2L1681.6 1133.2L1682.3 1133.2L1683.0 1133.2L1683.8 1133.2L1684.5 1133.2L1685.3 1133.2L1686.0 1133.2L1686.7 1133.2L1687.5 1133.2L1688.2 1133.2L1689.0 1133.2L1689.7 1133.2L1690.5 1133.2L1691.2 1133.2L1691.9 1133.2L1692.7 1133.2L1693.4 1133.2L1694.2 1133.2L1694.9 1133.2L1695.6 1133.2L1696.4 1133.2L1697.1 1133.2L1697.9 1133.2L1698.6 1133.2L1699.3 1133.2L1700.1 1133.2L1700.8 1133.2L1701.6 1133.2L1702.3 1133.2L1703.0 1133.2L1703.8 1133.2L1704.5 1133.2L1705.3 1133.2L1706.0 1133.2L1706.8 1133.2L1707.5 1133.2L1708.2 1133.2L1709.0 1133.2L1709.7 1133.2L1710.5 1133.2L1711.2 1133.2L1711.9 1133.2L1712.7 1133.2L1713.4 1133.2L1714.2 1133.2L1714.9 1133.2L1715.6 1133.2L1716.4 1133.2L1717.1 1133.2L1717.9 1133.2L1718.6 1133.2L1719.3 1133.2L1720.1 1133.2L1720.8 1133.2L1721.6 1133.2L1722.3 1133.2L1723.1 1133.2L1723.8 1133.2L1724.5 1133.2L1725.3 1133.2L1726.0 1133.2L1726.8 1133.2L1727.5 1133.2L1728.2 1133.2L1729.0 1133.2L1729.7 1133.2L1730.5 1133.2L1731.2 1133.2L1731.9 1133.2L1732.7 1133.2L1733.4 1133.2L1734.2 1133.2L1734.9 1133.2L1735.7 1133.2L1736.4 1133.2L1737.1 1133.2L1737.9 1133.2L1738.6 1133.2L1739.4 1133.2L1740.1 1133.2L1740.8 1133.2L1741.6 1133.2L1742.3 1133.2L1743.1 1133.2L1743.8 1133.2L1744.5 1133.2L1745.3 1133.2L1746.0 1133.2L1746.8 1133.2L1747.5 1133.2L1748.2 1133.2L1749.0 1133.2L1749.7 1133.2L1750.5 1133.2L1751.2 1133.2L1752.0 1133.2L1752.7 1133.2L1753.4 1133.2L1754.2 1133.2L1754.9 1133.2L1755.7 1133.2L1756.4 1133.2L1757.1 1133.2L1757.9 1133.2L1758.6 1133.2L1759.4 1133.2L1760.1 1133.2L1760.8 1133.2L1761.6 1133.2L1762.3 1133.2L1763.1 1133.2L1763.8 1133.2L1764.6 1133.2L1765.3 1133.2L1766.0 1133.2L1766.8 1133.2L1767.5 1133.2L1768.3 1133.2L1769.0 1133.2L1769.7 1133.2L1770.5 1133.2L1771.2 1133.2L1772.0 1133.2L1772.7 1133.2L1773.4 1133.2L1774.2 1133.2L1774.9 1133.2L1775.7 1133.2L1776.4 1133.2L1777.1 1133.2L1777.9 1133.2L1778.6 1133.2L1779.4 1133.2L1780.1 1133.2L1780.9 1133.2L1781.6 1133.2L1782.3 1133.2L1783.1 1133.2L1783.8 1133.2L1784.6 1133.2L1785.3 1133.2L1786.0 1133.2L1786.8 1133.2L1787.5 1133.2L1788.3 1133.2L1789.0 1133.2L1789.7 1133.2L1790.5 1133.2L1791.2 1133.2L1792.0 1133.2L1792.7 1133.2L1793.4 1133.2L1794.2 1133.2L1794.9 1133.2L1795.7 1133.2" fill="none" stroke="#f00" stroke-width="9" stroke-linejoin="round" marker-start="url(#md)" marker-mid="url(#md)" marker-end="url(#md)"/>
<path d="M348.5 1133.2L349.2 1133.2L350.0 1133.2L350.7 1133.2L351.5 1133.1L352.2 1133.1L352.9 1133.1L353.7 1133.0L354.4 1133.0L355.2 1132.9L355.9 1132.9L356.7 1132.8L357.4 1132.7L358.1 1132.7L358.9 1132.6L359.6 1132.5L360.4 1132.4L361.1 1132.3L361.8 1132.3L362.6 1132.2L363.3 1132.1L364.1 1132.0L364.8 1131.9L365.5 1131.7L366.3 1131.6L367.0 1131.4L367.8 1131.2L368.5 1131.0L369.2 1130.8L370.0 1130.5L370.7 1130.3L371.5 1130.0L372.2 1129.7L373.0 1129.4L373.7 1129.1L374.4 1128.8L375.2 1128.4L375.9 1128.1L376.7 1127.7L377.4 1127.4L378.1 1127.0L378.9 1126.6L379.6 1126.2L380.4 1125.8L381.1 1125.4L381.8 1125.0L382.6 1124.6L383.3 1124.1L384.1 1123.7L384.8 1123.3L385.6 1122.8L386.3 1122.4L387.0 1121.9L387.8 1121.5L388.5 1121.0L389.3 1120.5L390.0 1120.1L390.7 1119.6L391.5 1119.1L392.2 1118.5L393.0 1118.0L393.7 1117.4L394.4 1116.8L395.2 1116.2L395.9 1115.5L396.7 1114.9L397.4 1114.2L398.1 1113.5L398.9 1112.8L399.6 1112.0L400.4 1111.3L401.1 1110.5L401.9 1109.8L402.6 1109.0L403.3 1108.2L404.1 1107.4L404.8 1106.6L405.6 1105.7L406.3 1104.9L407.0 1104.1L407.8 1103.2L408.5 1102.4L409.3 1101.5L410.0 1100.7L410.7 1099.8L411.5 1098.9L412.2 1098.1L413.0 1097.2L413.7 1096.3L414.4 1095.5L415.2 1094.6L415.9 1093.7L416.7 1092.8L417.4 1091.9L418.2 1091.0L418.9 1090.1L419.6 1089.1L420.4 1088.2L421.1 1087.2L421.9 1086.3L422.6 1085.3L423.3 1084.3L424.1 1083.3L424.8 1082.3L425.6 1081.3L426.3 1080.2L427.0 1079.2L427.8 1078.2L428.5 1077.1L429.3 1076.0L430.0 1075.0L430.8 1073.9L431.5 1072.8L432.2 1071.7L433.0 1070.6L433.7 1069.5L434.5 1068.4L435.2 1067.3L435.9 1066.1L436.7 1065.0L437.4 1063.9L438.2 1062.7L438.9 1061.6L439.6 1060.4L440.4 1059.3L441.1 1058.1L441.9 1056.9L442.6 1055.6L443.3 1054.4L444.1 1053.1L444.8 1051.9L445.6 1050.6L446.3 1049.3L447.1 1048.0L447.8 1046.7L448.5 1045.3L449.3 1044.0L450.0 1042.7L450.8 1041.3L451.5 1040.0L452.2 1038.6L453.0 1037.3L453.7 1035.9L454.5 1034.6L455.2 1033.2L455.9 1031.9L456.7 1030.6L457.4 1029.2L458.2 1027.9L458.9 1026.6L459.6 1025.3L460.4 1024.0L461.1 1022.7L461.9 1021.5L462.6 1020.3L463.4 1019.0L464.1 1017.8L464.8 1016.6L465.6 1015.4L466.3 1014.2L467.1 1013.0L467.8 1011.8L468.5 1010.6L469.3 1009.4L470.0 1008.2L470.8 1007.0L471.5 1005.7L472.2 1004.5L473.0 1003.2L473.7 1001.9L474.5 1000.6L475.2 999.3L476.0 997.9L476.7 996.5L477.4 995.0L478.2 993.6L478.9 992.1L479.7 990.5L480.4 988.9L481.1 987.3L481.9 985.6L482.6 983.8L483.4 982.0L484.1 980.2L484.8 978.3L485.6 976.4L486.3 974.5L487.1 972.5L487.8 970.5L488.5 968.4L489.3 966.3L490.0 964.2L490.8 962.1L491.5 959.9L492.3 957.7L493.0 955.5L493.7 953.3L494.5 951.0L495.2 948.7L496.0 946.4L496.7 943.9L497.4 941.4L498.2 938.8L498.9 936.2L499.7 933.5L500.4 930.8L501.1 928.1L501.9 925.4L502.6 922.7L503.4 920.0L504.1 917.4L504.9 914.8L505.6 912.2L506.3 909.6L507.1 907.1L507.8 904.5L508.6 902.0L509.3 899.4L510.0 896.8L510.8 894.2L511.5 891.5L512.3 888.8L513.0 886.0L513.7 883.2L514.5 880.3L515.2 877.3L516.0 874.3L516.7 871.3L517.4 868.3L518.2 865.3L518.9 862.3L519.7 859.4L520.4 856.4L521.2 853.5L521.9 850.5L522.6 847.6L523.4 844.6L524.1 841.7L524.9 838.7L525.6 835.7L526.3 832.8L527.1 829.8L527.8 826.8L528.6 823.8L529.3 820.8L530.0 817.8L530.8 814.9L531.5 811.9L532.3 808.9L533.0 805.9L533.8 802.8L534.5 799.8L535.2 796.8L536.0 793.9L536.7 791.0L537.5 788.2L538.2 785.5L538.9 782.9L539.7 780.2L540.4 777.6L541.2 775.1L541.9 772.6L542.6 770.3L543.4 768.0L544.1 765.7L544.9 763.5L545.6 761.3L546.3 759.2L547.1 757.1L547.8 755.1L548.6 753.3L549.3 751.7L550.1 750.2L550.8 749.0L551.5 747.8L552.3 746.6L553.0 745.6L553.8 744.6L554.5 743.7L555.2 742.8L556.0 742.0L556.7 741.3L557.5 740.6L558.2 739.9L558.9 739.3L559.7 738.7L560.4 738.1L561.2 737.5L561.9 737.0L562.6 736.5L563.4 736.1L564.1 735.8L564.9 735.5L565.6 735.3L566.4 735.2L567.1 735.0L567.8 734.9L568.6 734.8L569.3 734.7L570.1 734.6L570.8 734.5L571.5 734.5L572.3 734.5L573.0 734.6L573.8 734.7L574.5 734.9L575.2 735.2L576.0 735.5L576.7 735.9L577.5 736.3L578.2 736.7L579.0 737.1L579.7 737.6L580.4 738.0L581.2 738.4L581.9 738.8L582.7 739.3L583.4 739.8L584.1 740.3L584.9 740.9L585.6 741.5L586.4 742.1L587.1 742.7L587.8 743.3L588.6 743.8L589.3 744.4L590.1 745.0L590.8 745.5L591.5 746.1L592.3 746.7L593.0 747.4L593.8 748.0L594.5 748.6L595.3 749.2L596.0 749.7L596.7 750.2L597.5 750.7L598.2 751.1L599.0 751.4L599.7 751.7L600.4 751.9L601.2 752.2L601.9 752.4L602.7 752.7L603.4 752.9L604.1 753.0L604.9 753.2L605.6 753.2L606.4 753.3L607.1 753.3L607.8 753.1L608.6 752.9L609.3 752.6L610.1 752.3L610.8 751.9L611.6 751.5L612.3 751.0L613.0 750.5L613.8 750.0L614.5 749.4L615.3 748.9L616.0 748.3L616.7 747.7L617.5 746.9L618.2 746.1L619.0 745.3L619.7 744.3L620.4 743.4L621.2 742.4L621.9 741.3L622.7 740.3L623.4 739.2L624.2 738.1L624.9 736.9L625.6 735.6L626.4 734.2L627.1 732.8L627.9 731.4L628.6 729.9L629.3 728.3L630.1 726.7L630.8 725.0L631.6 723.3L632.3 721.4L633.0 719.4L633.8 717.2L634.5 714.8L635.3 712.0L636.0 708.9L636.7 705.6L637.5 702.1L638.2 698.6L639.0 695.1L639.7 691.7L640.5 688.6L641.2 685.5L641.9 682.4L642.7 679.4L643.4 676.4L644.2 673.4L644.9 670.4L645.6 667.5L646.4 664.5L647.1 661.6L647.9 658.6L648.6 655.7L649.3 652.7L650.1 649.8L650.8 646.8L651.6 643.9L652.3 640.9L653.1 637.9L653.8 634.9L654.5 631.8L655.3 628.7L656.0 625.5L656.8 622.4L657.5 619.2L658.2 616.0L659.0 612.9L659.7 609.8L660.5 606.8L661.2 603.9L661.9 601.0L662.7 598.2L663.4 595.4L664.2 592.9L664.9 590.4L665.6 588.0L666.4 585.7L667.1 583.4L667.9 581.1L668.6 578.8L669.4 576.6L670.1 574.4L670.8 572.3L671.6 570.2L672.3 568.1L673.1 566.1L673.8 564.2L674.5 562.3L675.3 560.4L676.0 558.7L676.8 556.9L677.5 555.3L678.2 553.7L679.0 552.2L679.7 550.7L680.5 549.3L681.2 548.0L682.0 546.6L682.7 545.3L683.4 544.1L684.2 542.9L684.9 541.8L685.7 540.8L686.4 539.9L687.1 539.1L687.9 538.5L688.6 537.9L689.4 537.4L690.1 536.9L690.8 536.4L691.6 535.9L692.3 535.5L693.1 535.2L693.8 534.9L694.5 534.8L695.3 534.7L696.0 534.8L696.8 535.0L697.5 535.3L698.3 535.7L699.0 536.2L699.7 536.8L700.5 537.4L701.2 538.0L702.0 538.7L702.7 539.4L703.4 540.2L704.2 541.0L704.9 542.1L705.7 543.2L706.4 544.4L707.1 545.8L707.9 547.2L708.6 548.7L709.4 550.3L710.1 552.0L710.8 553.8L711.6 555.6L712.3 557.4L713.1 559.3L713.8 561.3L714.6 563.2L715.3 565.3L716.0 567.4L716.8 569.7L717.5 572.1L718.3 574.8L719.0 577.5L719.7 580.3L720.5 583.3L721.2 586.4L722.0 589.5L722.7 592.7L723.4 596.0L724.2 599.3L724.9 602.6L725.7 606.0L726.4 609.3L727.2 612.6L727.9 616.0L728.6 619.3L729.4 622.8L730.1 626.3L730.9 629.9L731.6 633.6L732.3 637.3L733.1 641.0L733.8 644.9L734.6 648.7L735.3 652.6L736.0 656.5L736.8 660.4L737.5 664.3L738.3 668.3L739.0 672.3L739.7 676.4L740.5 680.5L741.2 684.7L742.0 688.9L742.7 693.1L743.5 697.3L744.2 701.6L744.9 705.9L745.7 710.1L746.4 714.4L747.2 718.6L747.9 722.8L748.6 727.1L749.4 731.3L750.1 735.6L750.9 739.9L751.6 744.1L752.3 748.5L753.1 752.8L753.8 757.1L754.6 761.5L755.3 766.0L756.0 770.5L756.8 775.2L757.5 779.9L758.3 784.7L759.0 789.6L759.8 794.5L760.5 799.3L761.2 804.1L762.0 808.8L762.7 813.4L763.5 817.8L764.2 822.0L764.9 826.1L765.7 829.8L766.4 833.3L767.2 836.6L767.9 839.8L768.6 842.8L769.4 845.9L770.1 848.9L770.9 851.8L771.6 854.7L772.4 857.5L773.1 860.3L773.8 863.0L774.6 865.7L775.3 868.4L776.1 871.0L776.8 873.6L777.5 876.1L778.3 878.6L779.0 881.0L779.8 883.5L780.5 885.8L781.2 888.2L782.0 890.5L782.7 892.8L783.5 895.0L784.2 897.2L784.9 899.4L785.7 901.6L786.4 903.7L787.2 905.9L787.9 908.0L788.7 910.0L789.4 912.1L790.1 914.1L790.9 916.2L791.6 918.2L792.4 920.1L793.1 922.1L793.8 924.0L794.6 925.9L795.3 927.8L796.1 929.7L796.8 931.6L797.5 933.4L798.3 935.3L799.0 937.1L799.8 938.9L800.5 940.7L801.3 942.5L802.0 944.2L802.7 946.0L803.5 947.7L804.2 949.4L805.0 951.2L805.7 952.9L806.4 954.6L807.2 956.3L807.9 958.0L808.7 959.7L809.4 961.3L810.1 963.0L810.9 964.6L811.6 966.3L812.4 967.9L813.1 969.5L813.8 971.1L814.6 972.7L815.3 974.3L816.1 975.9L816.8 977.5L817.6 979.0L818.3 980.6L819.0 982.1L819.8 983.6L820.5 985.1L821.3 986.6L822.0 988.1L822.7 989.5L823.5 991.0L824.2 992.4L825.0 993.9L825.7 995.3L826.4 996.7L827.2 998.1L827.9 999.5L828.7 1000.9L829.4 1002.2L830.1 1003.6L830.9 1005.0L831.6 1006.3L832.4 1007.7L833.1 1009.0L833.9 1010.3L834.6 1011.6L835.3 1012.9L836.1 1014.2L836.8 1015.5L837.6 1016.8L838.3 1018.1L839.0 1019.4L839.8 1020.6L840.5 1021.9L841.3 1023.1L842.0 1024.4L842.7 1025.6L843.5 1026.8L844.2 1028.0L845.0 1029.3L845.7 1030.5L846.5 1031.7L847.2 1032.9L847.9 1034.0L848.7 1035.2L849.4 1036.4L850.2 1037.6L850.9 1038.7L851.6 1039.9L852.4 1041.0L853.1 1042.2L853.9 1043.3L854.6 1044.4L855.3 1045.6L856.1 1046.7L856.8 1047.8L857.6 1048.9L858.3 1050.0L859.0 1051.0L859.8 1052.1L860.5 1053.2L861.3 1054.2L862.0 1055.3L862.8 1056.3L863.5 1057.3L864.2 1058.4L865.0 1059.4L865.7 1060.4L866.5 1061.4L867.2 1062.3L867.9 1063.3L868.7 1064.3L869.4 1065.3L870.2 1066.3L870.9 1067.2L871.6 1068.2L872.4 1069.2L873.1 1070.1L873.9 1071.1L874.6 1072.0L875.4 1073.0L876.1 1073.9L876.8 1074.8L877.6 1075.7L878.3 1076.6L879.1 1077.5L879.8 1078.4L880.5 1079.3L881.3 1080.2L882.0 1081.1L882.8 1081.9L883.5 1082.8L884.2 1083.6L885.0 1084.4L885.7 1085.2L886.5 1086.0L887.2 1086.8L887.9 1087.6L888.7 1088.4L889.4 1089.1L890.2 1089.9L890.9 1090.6L891.7 1091.3L892.4 1092.0L893.1 1092.7L893.9 1093.4L894.6 1094.1L895.4 1094.8L896.1 1095.5L896.8 1096.2L897.6 1096.9L898.3 1097.6L899.1 1098.2L899.8 1098.9L900.5 1099.5L901.3 1100.2L902.0 1100.8L902.8 1101.4L903.5 1102.1L904.2 1102.7L905.0 1103.3L905.7 1103.9L906.5 1104.5L907.2 1105.0L908.0 1105.6L908.7 1106.1L909.4 1106.7L910.2 1107.2L910.9 1107.7L911.7 1108.2L912.4 1108.7L913.1 1109.2L913.9 1109.7L914.6 1110.1L915.4 1110.6L916.1 1111.0L916.8 1111.4L917.6 1111.9L918.3 1112.3L919.1 1112.7L919.8 1113.1L920.6 1113.5L921.3 1114.0L922.0 1114.4L922.8 1114.8L923.5 1115.2L924.3 1115.6L925.0 1115.9L925.7 1116.3L926.5 1116.7L927.2 1117.1L928.0 1117.4L928.7 1117.8L929.4 1118.1L930.2 1118.4L930.9 1118.8L931.7 1119.1L932.4 1119.4L933.1 1119.7L933.9 1120.0L934.6 1120.2L935.4 1120.5L936.1 1120.7L936.9 1121.0L937.6 1121.2L938.3 1121.4L939.1 1121.6L939.8 1121.8L940.6 1122.0L941.3 1122.1L942.0 1122.3L942.8 1122.4L943.5 1122.6L944.3 1122.7L945.0 1122.9L945.7 1123.0L946.5 1123.1L947.2 1123.2L948.0 1123.4L948.7 1123.5L949.5 1123.6L950.2 1123.7L950.9 1123.8L951.7 1123.9L952.4 1124.0L953.2 1124.1L953.9 1124.2L954.6 1124.3L955.4 1124.4L956.1 1124.5L956.9 1124.6L957.6 1124.7L958.3 1124.8L959.1 1124.9L959.8 1124.9L960.6 1125.0L961.3 1125.1L962.0 1125.2L962.8 1125.3L963.5 1125.4L964.3 1125.5L965.0 1125.6L965.8 1125.7L966.5 1125.8L967.2 1125.9L968.0 1126.0L968.7 1126.2L969.5 1126.3L970.2 1126.4L970.9 1126.5L971.7 1126.6L972.4 1126.7L973.2 1126.8L973.9 1127.0L974.6 1127.1L975.4 1127.2L976.1 1127.3L976.9 1127.4L977.6 1127.6L978.3 1127.7L979.1 1127.8L979.8 1127.9L980.6 1128.0L981.3 1128.1L982.1 1128.3L982.8 1128.4L983.5 1128.5L984.3 1128.6L985.0 1128.7L985.8 1128.8L986.5 1128.9L987.2 1129.0L988.0 1129.1L988.7 1129.2L989.5 1129.3L990.2 1129.4L990.9 1129.5L991.7 1129.6L992.4 1129.7L993.2 1129.8L993.9 1129.9L994.7 1129.9L995.4 1130.0L996.1 1130.1L996.9 1130.1L997.6 1130.2L998.4 1130.3L999.1 1130.3L999.8 1130.4L1000.6 1130.4L1001.3 1130.4L1002.1 1130.5L1002.8 1130.5L1003.5 1130.6L1004.3 1130.6L1005.0 1130.6L1005.8 1130.7L1006.5 1130.7L1007.2 1130.7L1008.0 1130.8L1008.7 1130.8L1009.5 1130.8L1010.2 1130.9L1011.0 1130.9L1011.7 1131.0L1012.4 1131.0L1013.2 1131.0L1013.9 1131.1L1014.7 1131.1L1015.4 1131.1L1016.1 1131.2L1016.9 1131.2L1017.6 1131.2L1018.4 1131.2L1019.1 1131.3L1019.8 1131.3L1020.6 1131.3L1021.3 1131.4L1022.1 1131.4L1022.8 1131.4L1023.6 1131.4L1024.3 1131.5L1025.0 1131.5L1025.8 1131.5L1026.5 1131.5L1027.3 1131.6L1028.0 1131.6L1028.7 1131.6L1029.5 1131.6L1030.2 1131.7L1031.0 1131.7L1031.7 1131.7L1032.4 1131.7L1033.2 1131.7L1033.9 1131.8L1034.7 1131.8L1035.4 1131.8L1036.1 1131.8L1036.9 1131.8L1037.6 1131.9L1038.4 1131.9L1039.1 1131.9L1039.9 1131.9L1040.6 1131.9L1041.3 1131.9L1042.1 1131.9L1042.8 1132.0L1043.6 1132.0L1044.3 1132.0L1045.0 1132.0L1045.8 1132.0L1046.5 1132.0L1047.3 1132.0L1048.0 1132.0L1048.7 1132.0L1049.5 1132.1L1050.2 1132.1L1051.0 1132.1L1051.7 1132.1L1052.4 1132.1L1053.2 1132.1L1053.9 1132.1L1054.7 1132.1L1055.4 1132.1L1056.2 1132.1L1056.9 1132.1L1057.6 1132.1L1058.4 1132.1L1059.1 1132.1L1059.9 1132.1L1060.6 1132.1L1061.3 1132.1L1062.1 1132.1L1062.8 1132.1L1063.6 1132.1L1064.3 1132.2L1065.0 1132.2L1065.8 1132.2L1066.5 1132.2L1067.3 1132.2L1068.0 1132.2L1068.8 1132.2L1069.5 1132.2L1070.2 1132.2L1071.0 1132.2L1071.7 1132.2L1072.5 1132.2L1073.2 1132.2L1073.9 1132.2L1074.7 1132.2L1075.4 1132.2L1076.2 1132.2L1076.9 1132.2L1077.6 1132.2L1078.4 1132.2L1079.1 1132.2L1079.9 1132.2L1080.6 1132.2L1081.3 1132.2L1082.1 1132.3L1082.8 1132.3L1083.6 1132.3L1084.3 1132.3L1085.1 1132.3L1085.8 1132.3L1086.5 1132.3L1087.3 1132.3L1088.0 1132.3L1088.8 1132.3L1089.5 1132.3L1090.2 1132.3L1091.0 1132.3L1091.7 1132.3L1092.5 1132.3L1093.2 1132.3L1093.9 1132.3L1094.7 1132.3L1095.4 1132.3L1096.2 1132.3L1096.9 1132.3L1097.7 1132.3L1098.4 1132.3L1099.1 1132.3L1099.9 1132.3L1100.6 1132.3L1101.4 1132.3L1102.1 1132.3L1102.8 1132.3L1103.6 1132.3L1104.3 1132.3L1105.1 1132.3L1105.8 1132.4L1106.5 1132.4L1107.3 1132.4L1108.0 1132.4L1108.8 1132.4L1109.5 1132.4L1110.2 1132.4L1111.0 1132.4L1111.7 1132.4L1112.5 1132.4L1113.2 1132.4L1114.0 1132.4L1114.7 1132.4L1115.4 1132.4L1116.2 1132.4L1116.9 1132.4L1117.7 1132.4L1118.4 1132.4L1119.1 1132.4L1119.9 1132.4L1120.6 1132.4L1121.4 1132.4L1122.1 1132.4L1122.8 1132.4L1123.6 1132.4L1124.3 1132.4L1125.1 1132.4L1125.8 1132.4L1126.5 1132.4L1127.3 1132.4L1128.0 1132.4L1128.8 1132.4L1129.5 1132.4L1130.3 1132.4L1131.0 1132.4L1131.7 1132.4L1132.5 1132.4L1133.2 1132.4L1134.0 1132.4L1134.7 1132.4L1135.4 1132.4L1136.2 1132.4L1136.9 1132.4L1137.7 1132.4L1138.4 1132.4L1139.1 1132.4L1139.9 1132.4L1140.6 1132.4L1141.4 1132.4L1142.1 1132.4L1142.9 1132.4L1143.6 1132.4L1144.3 1132.4L1145.1 1132.4L1145.8 1132.4L1146.6 1132.4L1147.3 1132.4L1148.0 1132.4L1148.8 1132.4L1149.5 1132.4L1150.3 1132.4L1151.0 1132.4L1151.7 1132.4L1152.5 1132.4L1153.2 1132.4L1154.0 1132.4L1154.7 1132.4L1155.4 1132.4L1156.2 1132.5L1156.9 1132.5L1157.7 1132.5L1158.4 1132.5L1159.2 1132.5L1159.9 1132.5L1160.6 1132.5L1161.4 1132.5L1162.1 1132.5L1162.9 1132.5L1163.6 1132.5L1164.3 1132.5L1165.1 1132.5L1165.8 1132.5L1166.6 1132.5L1167.3 1132.5L1168.0 1132.5L1168.8 1132.5L1169.5 1132.5L1170.3 1132.5L1171.0 1132.5L1171.8 1132.5L1172.5 1132.5L1173.2 1132.5L1174.0 1132.5L1174.7 1132.5L1175.5 1132.5L1176.2 1132.5L1176.9 1132.5L1177.7 1132.5L1178.4 1132.5L1179.2 1132.5L1179.9 1132.4L1180.6 1132.4L1181.4 1132.4L1182.1 1132.4L1182.9 1132.4L1183.6 1132.4L1184.3 1132.4L1185.1 1132.4L1185.8 1132.4L1186.6 1132.4L1187.3 1132.4L1188.1 1132.4L1188.8 1132.4L1189.5 1132.4L1190.3 1132.4L1191.0 1132.4L1191.8 1132.4L1192.5 1132.4L1193.2 1132.4L1194.0 1132.4L1194.7 1132.4L1195.5 1132.4L1196.2 1132.4L1196.9 1132.4L1197.7 1132.4L1198.4 1132.4L1199.2 1132.4L1199.9 1132.4L1200.7 1132.4L1201.4 1132.4L1202.1 1132.4L1202.9 1132.4L1203.6 1132.4L1204.4 1132.4L1205.1 1132.4L1205.8 1132.4L1206.6 1132.4L1207.3 1132.4L1208.1 1132.4L1208.8 1132.4L1209.5 1132.4L1210.3 1132.4L1211.0 1132.4L1211.8 1132.4L1212.5 1132.4L1213.2 1132.4L1214.0 1132.4L1214.7 1132.4L1215.5 1132.4L1216.2 1132.4L1217.0 1132.4L1217.7 1132.4L1218.4 1132.4L1219.2 1132.4L1219.9 1132.4L1220.7 1132.4L1221.4 1132.4L1222.1 1132.4L1222.9 1132.4L1223.6 1132.4L1224.4 1132.4L1225.1 1132.4L1225.8 1132.4L1226.6 1132.4L1227.3 1132.4L1228.1 1132.4L1228.8 1132.4L1229.5 1132.4L1230.3 1132.4L1231.0 1132.4L1231.8 1132.4L1232.5 1132.4L1233.3 1132.4L1234.0 1132.4L1234.7 1132.4L1235.5 1132.4L1236.2 1132.4L1237.0 1132.4L1237.7 1132.4L1238.4 1132.4L1239.2 1132.4L1239.9 1132.4L1240.7 1132.4L1241.4 1132.4L1242.1 1132.4L1242.9 1132.4L1243.6 1132.4L1244.4 1132.4L1245.1 1132.4L1245.9 1132.4L1246.6 1132.4L1247.3 1132.4L1248.1 1132.4L1248.8 1132.4L1249.6 1132.4L1250.3 1132.4L1251.0 1132.4L1251.8 1132.4L1252.5 1132.4L1253.3 1132.4L1254.0 1132.4L1254.7 1132.4L1255.5 1132.4L1256.2 1132.4L1257.0 1132.4L1257.7 1132.4L1258.4 1132.4L1259.2 1132.4L1259.9 1132.4L1260.7 1132.4L1261.4 1132.4L1262.2 1132.4L1262.9 1132.4L1263.6 1132.4L1264.4 1132.4L1265.1 1132.4L1265.9 1132.4L1266.6 1132.4L1267.3 1132.4L1268.1 1132.4L1268.8 1132.4L1269.6 1132.4L1270.3 1132.4L1271.0 1132.4L1271.8 1132.4L1272.5 1132.4L1273.3 1132.4L1274.0 1132.4L1274.8 1132.3L1275.5 1132.3L1276.2 1132.3L1277.0 1132.3L1277.7 1132.3L1278.5 1132.3L1279.2 1132.3L1279.9 1132.3L1280.7 1132.3L1281.4 1132.3L1282.2 1132.3L1282.9 1132.3L1283.6 1132.3L1284.4 1132.3L1285.1 1132.3L1285.9 1132.3L1286.6 1132.3L1287.3 1132.3L1288.1 1132.3L1288.8 1132.3L1289.6 1132.3L1290.3 1132.3L1291.1 1132.3L1291.8 1132.3L1292.5 1132.3L1293.3 1132.3L1294.0 1132.3L1294.8 1132.3L1295.5 1132.3L1296.2 1132.3L1297.0 1132.3L1297.7 1132.3L1298.5 1132.3L1299.2 1132.3L1299.9 1132.3L1300.7 1132.3L1301.4 1132.3L1302.2 1132.3L1302.9 1132.3L1303.6 1132.3L1304.4 1132.3L1305.1 1132.3L1305.9 1132.3L1306.6 1132.3L1307.4 1132.3L1308.1 1132.3L1308.8 1132.3L1309.6 1132.3L1310.3 1132.3L1311.1 1132.3L1311.8 1132.3L1312.5 1132.3L1313.3 1132.3L1314.0 1132.3L1314.8 1132.2L1315.5 1132.2L1316.2 1132.2L1317.0 1132.2L1317.7 1132.2L1318.5 1132.2L1319.2 1132.2L1320.0 1132.2L1320.7 1132.2L1321.4 1132.1L1322.2 1132.1L1322.9 1132.1L1323.7 1132.1L1324.4 1132.1L1325.1 1132.0L1325.9 1132.0L1326.6 1132.0L1327.4 1132.0L1328.1 1131.9L1328.8 1131.9L1329.6 1131.9L1330.3 1131.9L1331.1 1131.8L1331.8 1131.8L1332.5 1131.8L1333.3 1131.8L1334.0 1131.7L1334.8 1131.7L1335.5 1131.7L1336.3 1131.6L1337.0 1131.6L1337.7 1131.6L1338.5 1131.5L1339.2 1131.5L1340.0 1131.5L1340.7 1131.4L1341.4 1131.4L1342.2 1131.4L1342.9 1131.3L1343.7 1131.3L1344.4 1131.2L1345.1 1131.2L1345.9 1131.2L1346.6 1131.1L1347.4 1131.1L1348.1 1131.1L1348.8 1131.0L1349.6 1131.0L1350.3 1130.9L1351.1 1130.9L1351.8 1130.9L1352.6 1130.8L1353.3 1130.8L1354.0 1130.8L1354.8 1130.7L1355.5 1130.7L1356.3 1130.6L1357.0 1130.6L1357.7 1130.6L1358.5 1130.5L1359.2 1130.5L1360.0 1130.5L1360.7 1130.4L1361.4 1130.4L1362.2 1130.4L1362.9 1130.3L1363.7 1130.3L1364.4 1130.2L1365.2 1130.2L1365.9 1130.2L1366.6 1130.1L1367.4 1130.1L1368.1 1130.1L1368.9 1130.1L1369.6 1130.0L1370.3 1130.0L1371.1 1130.0L1371.8 1129.9L1372.6 1129.9L1373.3 1129.9L1374.0 1129.8L1374.8 1129.8L1375.5 1129.8L1376.3 1129.8L1377.0 1129.7L1377.7 1129.7L1378.5 1129.7L1379.2 1129.7L1380.0 1129.7L1380.7 1129.6L1381.5 1129.6L1382.2 1129.6L1382.9 1129.6L1383.7 1129.6L1384.4 1129.6L1385.2 1129.5L1385.9 1129.5L1386.6 1129.5L1387.4 1129.5L1388.1 1129.5L1388.9 1129.5L1389.6 1129.5L1390.3 1129.5L1391.1 1129.5L1391.8 1129.5L1392.6 1129.5L1393.3 1129.5L1394.1 1129.5L1394.8 1129.5L1395.5 1129.5L1396.3 1129.5L1397.0 1129.5L1397.8 1129.5L1398.5 1129.5L1399.2 1129.5L1400.0 1129.5L1400.7 1129.5L1401.5 1129.6L1402.2 1129.6L1402.9 1129.6L1403.7 1129.6L1404.4 1129.6L1405.2 1129.7L1405.9 1129.7L1406.6 1129.7L1407.4 1129.7L1408.1 1129.8L1408.9 1129.8L1409.6 1129.8L1410.4 1129.8L1411.1 1129.9L1411.8 1129.9L1412.6 1129.9L1413.3 1130.0L1414.1 1130.0L1414.8 1130.0L1415.5 1130.1L1416.3 1130.1L1417.0 1130.1L1417.8 1130.2L1418.5 1130.2L1419.2 1130.3L1420.0 1130.3L1420.7 1130.3L1421.5 1130.4L1422.2 1130.4L1422.9 1130.4L1423.7 1130.5L1424.4 1130.5L1425.2 1130.6L1425.9 1130.6L1426.7 1130.7L1427.4 1130.7L1428.1 1130.7L1428.9 1130.8L1429.6 1130.8L1430.4 1130.9L1431.1 1130.9L1431.8 1130.9L1432.6 1131.0L1433.3 1131.0L1434.1 1131.1L1434.8 1131.1L1435.5 1131.1L1436.3 1131.2L1437.0 1131.2L1437.8 1131.3L1438.5 1131.3L1439.3 1131.3L1440.0 1131.4L1440.7 1131.4L1441.5 1131.4L1442.2 1131.5L1443.0 1131.5L1443.7 1131.6L1444.4 1131.6L1445.2 1131.6L1445.9 1131.7L1446.7 1131.7L1447.4 1131.7L1448.1 1131.7L1448.9 1131.8L1449.6 1131.8L1450.4 1131.8L1451.1 1131.9L1451.8 1131.9L1452.6 1131.9L1453.3 1131.9L1454.1 1132.0L1454.8 1132.0L1455.6 1132.0L1456.3 1132.0L1457.0 1132.0L1457.8 1132.0L1458.5 1132.1L1459.3 1132.1L1460.0 1132.1L1460.7 1132.1L1461.5 1132.1L1462.2 1132.1L1463.0 1132.1L1463.7 1132.1L1464.4 1132.1L1465.2 1132.1L1465.9 1132.2L1466.7 1132.2L1467.4 1132.2L1468.2 1132.2L1468.9 1132.2L1469.6 1132.2L1470.4 1132.2L1471.1 1132.2L1471.9 1132.2L1472.6 1132.2L1473.3 1132.3L1474.1 1132.3L1474.8 1132.3L1475.6 1132.3L1476.3 1132.3L1477.0 1132.3L1477.8 1132.3L1478.5 1132.3L1479.3 1132.3L1480.0 1132.3L1480.7 1132.4L1481.5 1132.4L1482.2 1132.4L1483.0 1132.4L1483.7 1132.4L1484.5 1132.4L1485.2 1132.4L1485.9 1132.4L1486.7 1132.4L1487.4 1132.4L1488.2 1132.4L1488.9 1132.4L1489.6 1132.5L1490.4 1132.5L1491.1 1132.5L1491.9 1132.5L1492.6 1132.5L1493.3 1132.5L1494.1 1132.5L1494.8 1132.5L1495.6 1132.5L1496.3 1132.5L1497.0 1132.5L1497.8 1132.6L1498.5 1132.6L1499.3 1132.6L1500.0 1132.6L1500.8 1132.6L1501.5 1132.6L1502.2 1132.6L1503.0 1132.6L1503.7 1132.6L1504.5 1132.6L1505.2 1132.6L1505.9 1132.6L1506.7 1132.6L1507.4 1132.7L1508.2 1132.7L1508.9 1132.7L1509.6 1132.7L1510.4 1132.7L1511.1 1132.7L1511.9 1132.7L1512.6 1132.7L1513.4 1132.7L1514.1 1132.7L1514.8 1132.7L1515.6 1132.7L1516.3 1132.7L1517.1 1132.7L1517.8 1132.8L1518.5 1132.8L1519.3 1132.8L1520.0 1132.8L1520.8 1132.8L1521.5 1132.8L1522.2 1132.8L1523.0 1132.8L1523.7 1132.8L1524.5 1132.8L1525.2 1132.8L1525.9 1132.8L1526.7 1132.8L1527.4 1132.8L1528.2 1132.8L1528.9 1132.9L1529.7 1132.9L1530.4 1132.9L1531.1 1132.9L1531.9 1132.9L1532.6 1132.9L1533.4 1132.9L1534.1 1132.9L1534.8 1132.9L1535.6 1132.9L1536.3 1132.9L1537.1 1132.9L1537.8 1132.9L1538.5 1132.9L1539.3 1132.9L1540.0 1132.9L1540.8 1132.9L1541.5 1133.0L1542.3 1133.0L1543.0 1133.0L1543.7 1133.0L1544.5 1133.0L1545.2 1133.0L1546.0 1133.0L1546.7 1133.0L1547.4 1133.0L1548.2 1133.0L1548.9 1133.0L1549.7 1133.0L1550.4 1133.0L1551.1 1133.0L1551.9 1133.0L1552.6 1133.0L1553.4 1133.0L1554.1 1133.0L1554.8 1133.0L1555.6 1133.0L1556.3 1133.0L1557.1 1133.1L1557.8 1133.1L1558.6 1133.1L1559.3 1133.1L1560.0 1133.1L1560.8 1133.1L1561.5 1133.1L1562.3 1133.1L1563.0 1133.1L1563.7 1133.1L1564.5 1133.1L1565.2 1133.1L1566.0 1133.1L1566.7 1133.1L1567.4 1133.1L1568.2 1133.1L1568.9 1133.1L1569.7 1133.1L1570.4 1133.1L1571.1 1133.1L1571.9 1133.1L1572.6 1133.1L1573.4 1133.1L1574.1 1133.1L1574.9 1133.1L1575.6 1133.1L1576.3 1133.1L1577.1 1133.1L1577.8 1133.1L1578.6 1133.1L1579.3 1133.2L1580.0 1133.2L1580.8 1133.2L1581.5 1133.2L1582.3 1133.2L1583.0 1133.2L1583.7 1133.2L1584.5 1133.2L1585.2 1133.2L1586.0 1133.2L1586.7 1133.2L1587.5 1133.2L1588.2 1133.2L1588.9 1133.2L1589.7 1133.2L1590.4 1133.2L1591.2 1133.2L1591.9 1133.2L1592.6 1133.2L1593.4 1133.2L1594.1 1133.2L1594.9 1133.2L1595.6 1133.2L1596.3 1133.2L1597.1 1133.2L1597.8 1133.2L1598.6 1133.2L1599.3 1133.2L1600.0 1133.2L1600.8 1133.2L1601.5 1133.2L1602.3 1133.2L1603.0 1133.2L1603.8 1133.2L1604.5 1133.2L1605.2 1133.2L1606.0 1133.2L1606.7 1133.2L1607.5 1133.2L1608.2 1133.2L1608.9 1133.2L1609.7 1133.2L1610.4 1133.2L1611.2 1133.2L1611.9 1133.2L1612.6 1133.2L1613.4 1133.2L1614.1 1133.2L1614.9 1133.2L1615.6 1133.2L1616.4 1133.2L1617.1 1133.2L1617.8 1133.2L1618.6 1133.2L1619.3 1133.2L1620.1 1133.2L1620.8 1133.2L1621.5 1133.2L1622.3 1133.2L1623.0 1133.2L1623.8 1133.2L1624.5 1133.2L1625.2 1133.2L1626.0 1133.2L1626.7 1133.2L1627.5 1133.2L1628.2 1133.2L1628.9 1133.2L1629.7 1133.2L1630.4 1133.2L1631.2 1133.2L1631.9 1133.2L1632.7 1133.2L1633.4 1133.2L1634.1 1133.2L1634.9 1133.2L1635.6 1133.2L1636.4 1133.2L1637.1 1133.2L1637.8 1133.2L1638.6 1133.2L1639.3 1133.2L1640.1 1133.2L1640.8 1133.2L1641.5 1133.2L1642.3 1133.2L1643.0 1133.2L1643.8 1133.2L1644.5 1133.2L1645.2 1133.2L1646.0 1133.2L1646.7 1133.2L1647.5 1133.2L1648.2 1133.2L1649.0 1133.2L1649.7 1133.2L1650.4 1133.2L1651.2 1133.2L1651.9 1133.2L1652.7 1133.2L1653.4 1133.2L1654.1 1133.2L1654.9 1133.2L1655.6 1133.2L1656.4 1133.2L1657.1 1133.2L1657.8 1133.2L1658.6 1133.2L1659.3 1133.2L1660.1 1133.2L1660.8 1133.2L1661.6 1133.2L1662.3 1133.2L1663.0 1133.2L1663.8 1133.2L1664.5 1133.2L1665.3 1133.2L1666.0 1133.2L1666.7 1133.2L1667.5 1133.2L1668.2 1133.2L1669.0 1133.2L1669.7 1133.2L1670.4 1133.2L1671.2 1133.2L1671.9 1133.2L1672.7 1133.2L1673.4 1133.2L1674.1 1133.2L1674.9 1133.2L1675.6 1133.2L1676.4 1133.2L1677.1 1133.2L1677.9 1133.2L1678.6 1133.2L1679.3 1133.2L1680.1 1133.2L1680.8 1133.2L1681.6 1133.2L1682.3 1133.2L1683.0 1133.2L1683.8 1133.2L1684.5 1133.2L1685.3 1133.2L1686.0 1133.2L1686.7 1133.2L1687.5 1133.2L1688.2 1133.2L1689.0 1133.2L1689.7 1133.2L1690.5 1133.2L1691.2 1133.2L1691.9 1133.2L1692.7 1133.2L1693.4 1133.2L1694.2 1133.2L1694.9 1133.2L1695.6 1133.2L1696.4 1133.2L1697.1 1133.2L1697.9 1133.2L1698.6 1133.2L1699.3 1133.2L1700.1 1133.2L1700.8 1133.2L1701.6 1133.2L1702.3 1133.2L1703.0 1133.2L1703.8 1133.2L1704.5 1133.2L1705.3 1133.2L1706.0 1133.2L1706.8 1133.2L1707.5 1133.2L1708.2 1133.2L1709.0 1133.2L1709.7 1133.2L1710.5 1133.2L1711.2 1133.2L1711.9 1133.2L1712.7 1133.2L1713.4 1133.2L1714.2 1133.2L1714.9 1133.2L1715.6 1133.2L1716.4 1133.2L1717.1 1133.2L1717.9 1133.2L1718.6 1133.2L1719.3 1133.2L1720.1 1133.2L1720.8 1133.2L1721.6 1133.2L1722.3 1133.2L1723.1 1133.2L1723.8 1133.2L1724.5 1133.2L1725.3 1133.2L1726.0 1133.2L1726.8 1133.2L1727.5 1133.2L1728.2 1133.2L1729.0 1133.2L1729.7 1133.2L1730.5 1133.2L1731.2 1133.2L1731.9 1133.2L1732.7 1133.2L1733.4 1133.2L1734.2 1133.2L1734.9 1133.2L1735.7 1133.2L1736.4 1133.2L1737.1 1133.2L1737.9 1133.2L1738.6 1133.2L1739.4 1133.2L1740.1 1133.2L1740.8 1133.2L1741.6 1133.2L1742.3 1133.2L1743.1 1133.2L1743.8 1133.2L1744.5 1133.2L1745.3 1133.2L1746.0 1133.2L1746.8 1133.2L1747.5 1133.2L1748.2 1133.2L1749.0 1133.2L1749.7 1133.2L1750.5 1133.2L1751.2 1133.2L1752.0 1133.2L1752.7 1133.2L1753.4 1133.2L1754.2 1133.2L1754.9 1133.2L1755.7 1133.2L1756.4 1133.2L1757.1 1133.2L1757.9 1133.2L1758.6 1133.2L1759.4 1133.2L1760.1 1133.2L1760.8 1133.2L1761.6 1133.2L1762.3 1133.2L1763.1 1133.2L1763.8 1133.2L1764.6 1133.2L1765.3 1133.2L1766.0 1133.2L1766.8 1133.2L1767.5 1133.2L1768.3 1133.2L1769.0 1133.2L1769.7 1133.2L1770.5 1133.2L1771.2 1133.2L1772.0 1133.2L1772.7 1133.2L1773.4 1133.2L1774.2 1133.2L1774.9 1133.2L1775.7 1133.2L1776.4 1133.2L1777.1 1133.2L1777.9 1133.2L1778.6 1133.2L1779.4 1133.2L1780.1 1133.2L1780.9 1133.2L1781.6 1133.2L1782.3 1133.2L1783.1 1133.2L1783.8 1133.2L1784.6 1133.2L1785.3 1133.2L1786.0 1133.2L1786.8 1133.2L1787.5 1133.2L1788.3 1133.2L1789.0 1133.2L1789.7 1133.2L1790.5 1133.2L1791.2 1133.2L1792.0 1133.2L1792.7 1133.2L1793.4 1133.2L1794.2 1133.2L1794.9 1133.2L1795.7 1133.2" fill="none" stroke="#000" stroke-width="9" stroke-linejoin="round" marker-start="url(#ms)" marker-mid="url(#ms)" marker-end="url(#ms)"/>
</g>
<path d="M374.7 1109.3H508.5V849.1H374.7" stroke="#008000" stroke-width="9" stroke-linecap="round" stroke-dasharray="10.8 20.15" fill="none"/>
<path d="M374.7 1109.3V849.1" stroke="#008000" stroke-width="9" stroke-linecap="round" stroke-dasharray="10.8 20.15" fill="none"/>
<path d="M462.7 866.4V1133.2" stroke="#00f" stroke-width="9" stroke-linecap="round" stroke-dasharray="25.85 22.37 5.47 22.37 5.47 21.87" fill="none"/>
<path d="M568.6 736.3V1133.2" stroke="#0f0" stroke-width="9" stroke-linecap="round" stroke-dasharray="25.85 22.37 5.47 22.37 5.47 21.87" fill="none"/>
<path d="M695.5 542.4V1133.2" stroke="#0f0" stroke-width="9" stroke-linecap="round" stroke-dasharray="25.85 22.37 5.47 22.37 5.47 21.87" fill="none"/>
<path d="M702.4 161.8V1133.2" stroke="#00f" stroke-width="9" stroke-linecap="round" stroke-dasharray="25.85 22.37 5.47 22.37 5.47 21.87" fill="none"/>
<path d="M846.9 179.8V1133.2" stroke="#00f" stroke-width="9" stroke-linecap="round" stroke-dasharray="25.85 22.37 5.47 22.37 5.47 21.87" fill="none"/>
<text x="1071.5" y="1270.1" font-family="Liberation Serif, serif" font-weight="bold" font-size="84" text-anchor="middle" >Frequency (eV)</text>
<text transform="translate(94.1,577.6) rotate(-90)" font-family="Liberation Serif, serif" font-weight="bold" font-size="86.5" text-anchor="middle">Absorption (cm<tspan font-size="50" dy="-47" dx="-3">-1</tspan><tspan dy="47" dx="2">)</tspan></text>
<rect x="1269.6" y="44.2" width="541.2" height="164.3" fill="#fff" stroke="#000" stroke-width="2.6"/>
<path d="M1281.4 88.4H1328.4M1380.4 88.4H1427.4" stroke="#f00" stroke-width="9" stroke-linecap="round"/>
<path d="M1354 80.9L1361.5 88.4L1354 95.9L1346.5 88.4Z" fill="#fff" stroke="#f00" stroke-width="1.7"/>
<path d="M1281.4 171.4H1328.4M1380.4 171.4H1427.4" stroke="#000" stroke-width="9" stroke-linecap="round"/>
<path d="M1354.00 165.20L1355.70 169.05L1359.90 169.48L1356.76 172.30L1357.64 176.42L1354.00 174.30L1350.36 176.42L1351.24 172.30L1348.10 169.48L1352.30 169.05Z" fill="#fff" stroke="#000" stroke-width="2"/>
<text x="1445.5" y="110.3" font-family="Liberation Serif, serif" font-weight="bold" font-size="66" text-anchor="start" >aPNT r = 7.3</text>
<text x="1445.5" y="193" font-family="Liberation Serif, serif" font-weight="bold" font-size="66" text-anchor="start" >zPNT r = 7.3</text>
<rect x="348.5" y="1468.5" width="1482.0" height="1094.5" fill="none" stroke="#000" stroke-width="8.8" stroke-linejoin="round"/>
<path d="M349.5 2563.0H369M349.5 2319.9H369M349.5 2076.7H369M349.5 1833.6H369M349.5 1590.5H369M349.5 2441.4H358.2M349.5 2198.3H358.2M349.5 1955.2H358.2M349.5 1712.0H358.2M348.5 2562.0V2542.3M644.9 2562.0V2542.3M941.3 2562.0V2542.3M1237.7 2562.0V2542.3M1534.1 2562.0V2542.3M1830.5 2562.0V2542.3M496.7 2562.0V2552.3M793.1 2562.0V2552.3M1089.5 2562.0V2552.3M1385.9 2562.0V2552.3M1682.3 2562.0V2552.3" stroke="#000" stroke-width="9" stroke-linecap="round" fill="none"/>
<text transform="translate(325.8,2580.0) scale(0.925,1)" text-anchor="end" font-family="Liberation Sans, sans-serif" font-weight="bold" font-size="69.4">0</text>
<text transform="translate(325.8,2336.9) scale(0.925,1)" text-anchor="end" font-family="Liberation Sans, sans-serif" font-weight="bold" font-size="69.4">10,000</text>
<text transform="translate(325.8,2093.7) scale(0.925,1)" text-anchor="end" font-family="Liberation Sans, sans-serif" font-weight="bold" font-size="69.4">20,000</text>
<text transform="translate(325.8,1850.6) scale(0.925,1)" text-anchor="end" font-family="Liberation Sans, sans-serif" font-weight="bold" font-size="69.4">30,000</text>
<text transform="translate(325.8,1607.5) scale(0.925,1)" text-anchor="end" font-family="Liberation Sans, sans-serif" font-weight="bold" font-size="69.4">40,000</text>
<text transform="translate(348.5,2635.8) scale(0.925,1)" text-anchor="middle" font-family="Liberation Sans, sans-serif" font-weight="bold" font-size="69.4">0</text>
<text transform="translate(644.9,2635.8) scale(0.925,1)" text-anchor="middle" font-family="Liberation Sans, sans-serif" font-weight="bold" font-size="69.4">4</text>
<text transform="translate(941.3,2635.8) scale(0.925,1)" text-anchor="middle" font-family="Liberation Sans, sans-serif" font-weight="bold" font-size="69.4">8</text>
<text transform="translate(1237.7,2635.8) scale(0.925,1)" text-anchor="middle" font-family="Liberation Sans, sans-serif" font-weight="bold" font-size="69.4">12</text>
<text transform="translate(1534.1,2635.8) scale(0.925,1)" text-anchor="middle" font-family="Liberation Sans, sans-serif" font-weight="bold" font-size="69.4">16</text>
<text transform="translate(1830.5,2635.8) scale(0.925,1)" text-anchor="middle" font-family="Liberation Sans, sans-serif" font-weight="bold" font-size="69.4">20</text>
<text transform="translate(634.7,1582.7) scale(0.94,1)" font-family="Liberation Serif, serif" font-weight="bold" font-size="70" text-anchor="start" >4.8eV</text>
<text transform="translate(656.2,1979.6) scale(0.934,1)" font-family="Liberation Serif, serif" font-weight="bold" font-size="76" text-anchor="start" >4.6eV</text>
<text transform="translate(792.8,2098.3) scale(0.94,1)" font-family="Liberation Serif, serif" font-weight="bold" font-size="70" text-anchor="start" >6.6eV</text>
<text transform="translate(462.3,2145.5) scale(0.955,1)" font-family="Liberation Serif, serif" font-weight="bold" font-size="70" text-anchor="start" >3.0eV</text>
<text transform="translate(371,2299.8) scale(0.94,1)" font-family="Liberation Serif, serif" font-weight="bold" font-size="70" text-anchor="start" >1.6eV</text>
<text transform="translate(370.6,1532.5) scale(1.05,1)" font-family="Liberation Serif, serif" font-weight="bold" font-size="82" text-anchor="start" >(c)</text>
<g clip-path="url(#cc)">
<path d="M348.5 2563.0L349.2 2561.9L350.0 2560.8L350.7 2559.7L351.5 2558.6L352.2 2557.6L352.9 2556.7L353.7 2555.7L354.4 2554.9L355.2 2554.1L355.9 2553.4L356.7 2552.7L357.4 2552.1L358.1 2551.6L358.9 2551.1L359.6 2550.7L360.4 2550.3L361.1 2549.9L361.8 2549.5L362.6 2549.2L363.3 2548.8L364.1 2548.5L364.8 2548.2L365.5 2547.8L366.3 2547.5L367.0 2547.1L367.8 2546.7L368.5 2546.2L369.2 2545.7L370.0 2545.2L370.7 2544.7L371.5 2544.1L372.2 2543.5L373.0 2542.9L373.7 2542.3L374.4 2541.6L375.2 2540.9L375.9 2540.2L376.7 2539.5L377.4 2538.7L378.1 2537.9L378.9 2537.1L379.6 2536.3L380.4 2535.5L381.1 2534.6L381.8 2533.6L382.6 2532.7L383.3 2531.6L384.1 2530.6L384.8 2529.5L385.6 2528.4L386.3 2527.2L387.0 2526.0L387.8 2524.8L388.5 2523.5L389.3 2522.2L390.0 2520.9L390.7 2519.5L391.5 2518.1L392.2 2516.6L393.0 2515.1L393.7 2513.5L394.4 2511.9L395.2 2510.2L395.9 2508.6L396.7 2506.9L397.4 2505.2L398.1 2503.5L398.9 2501.7L399.6 2500.0L400.4 2498.2L401.1 2496.3L401.9 2494.4L402.6 2492.5L403.3 2490.5L404.1 2488.4L404.8 2486.2L405.6 2483.9L406.3 2481.5L407.0 2479.1L407.8 2476.6L408.5 2474.1L409.3 2471.7L410.0 2469.1L410.7 2466.6L411.5 2464.0L412.2 2461.4L413.0 2458.8L413.7 2456.2L414.4 2453.7L415.2 2451.1L415.9 2448.6L416.7 2446.1L417.4 2443.5L418.2 2441.0L418.9 2438.4L419.6 2435.8L420.4 2433.2L421.1 2430.6L421.9 2428.0L422.6 2425.4L423.3 2422.8L424.1 2420.2L424.8 2417.5L425.6 2414.8L426.3 2412.0L427.0 2409.3L427.8 2406.7L428.5 2404.1L429.3 2401.7L430.0 2399.4L430.8 2397.1L431.5 2394.9L432.2 2392.8L433.0 2390.7L433.7 2388.8L434.5 2386.9L435.2 2385.0L435.9 2383.2L436.7 2381.4L437.4 2379.7L438.2 2378.2L438.9 2376.7L439.6 2375.4L440.4 2374.3L441.1 2373.1L441.9 2372.1L442.6 2371.1L443.3 2370.2L444.1 2369.3L444.8 2368.5L445.6 2367.7L446.3 2366.9L447.1 2366.2L447.8 2365.4L448.5 2364.8L449.3 2364.1L450.0 2363.6L450.8 2363.2L451.5 2362.8L452.2 2362.6L453.0 2362.3L453.7 2362.0L454.5 2361.8L455.2 2361.5L455.9 2361.3L456.7 2361.1L457.4 2360.9L458.2 2360.8L458.9 2360.7L459.6 2360.6L460.4 2360.5L461.1 2360.5L461.9 2360.5L462.6 2360.6L463.4 2360.7L464.1 2360.9L464.8 2361.1L465.6 2361.4L466.3 2361.7L467.1 2362.1L467.8 2362.5L468.5 2362.9L469.3 2363.3L470.0 2363.8L470.8 2364.3L471.5 2364.8L472.2 2365.3L473.0 2365.8L473.7 2366.3L474.5 2366.9L475.2 2367.4L476.0 2368.1L476.7 2368.8L477.4 2369.7L478.2 2370.6L478.9 2371.6L479.7 2372.6L480.4 2373.7L481.1 2374.7L481.9 2375.8L482.6 2376.9L483.4 2377.9L484.1 2379.0L484.8 2380.1L485.6 2381.1L486.3 2382.2L487.1 2383.3L487.8 2384.4L488.5 2385.6L489.3 2386.7L490.0 2387.9L490.8 2389.1L491.5 2390.3L492.3 2391.5L493.0 2392.7L493.7 2393.9L494.5 2395.2L495.2 2396.5L496.0 2397.8L496.7 2399.1L497.4 2400.5L498.2 2401.9L498.9 2403.4L499.7 2404.9L500.4 2406.4L501.1 2408.0L501.9 2409.5L502.6 2411.1L503.4 2412.6L504.1 2414.1L504.9 2415.6L505.6 2417.1L506.3 2418.5L507.1 2419.9L507.8 2421.2L508.6 2422.5L509.3 2423.7L510.0 2424.9L510.8 2426.1L511.5 2427.2L512.3 2428.4L513.0 2429.5L513.7 2430.6L514.5 2431.7L515.2 2432.8L516.0 2433.8L516.7 2434.8L517.4 2435.8L518.2 2436.7L518.9 2437.6L519.7 2438.4L520.4 2439.2L521.2 2440.0L521.9 2440.9L522.6 2441.7L523.4 2442.5L524.1 2443.3L524.9 2444.1L525.6 2444.9L526.3 2445.6L527.1 2446.2L527.8 2446.8L528.6 2447.4L529.3 2447.8L530.0 2448.2L530.8 2448.4L531.5 2448.6L532.3 2448.8L533.0 2448.9L533.8 2449.0L534.5 2449.2L535.2 2449.3L536.0 2449.4L536.7 2449.5L537.5 2449.6L538.2 2449.7L538.9 2449.8L539.7 2449.9L540.4 2450.0L541.2 2450.0L541.9 2450.1L542.6 2450.1L543.4 2450.2L544.1 2450.2L544.9 2450.2L545.6 2450.2L546.3 2450.2L547.1 2450.1L547.8 2450.0L548.6 2449.9L549.3 2449.8L550.1 2449.7L550.8 2449.6L551.5 2449.4L552.3 2449.2L553.0 2449.0L553.8 2448.9L554.5 2448.7L555.2 2448.4L556.0 2448.2L556.7 2448.0L557.5 2447.8L558.2 2447.6L558.9 2447.4L559.7 2447.2L560.4 2447.0L561.2 2446.8L561.9 2446.5L562.6 2446.3L563.4 2446.0L564.1 2445.7L564.9 2445.5L565.6 2445.2L566.4 2444.9L567.1 2444.6L567.8 2444.2L568.6 2443.9L569.3 2443.5L570.1 2443.1L570.8 2442.8L571.5 2442.4L572.3 2441.9L573.0 2441.5L573.8 2441.0L574.5 2440.5L575.2 2439.9L576.0 2439.3L576.7 2438.7L577.5 2438.1L578.2 2437.4L579.0 2436.7L579.7 2436.0L580.4 2435.2L581.2 2434.4L581.9 2433.6L582.7 2432.8L583.4 2431.9L584.1 2431.1L584.9 2430.2L585.6 2429.2L586.4 2428.3L587.1 2427.4L587.8 2426.4L588.6 2425.4L589.3 2424.4L590.1 2423.3L590.8 2422.1L591.5 2420.9L592.3 2419.7L593.0 2418.4L593.8 2417.0L594.5 2415.6L595.3 2414.2L596.0 2412.7L596.7 2411.2L597.5 2409.6L598.2 2408.0L599.0 2406.4L599.7 2404.8L600.4 2403.1L601.2 2401.4L601.9 2399.7L602.7 2397.9L603.4 2396.0L604.1 2394.1L604.9 2392.1L605.6 2390.0L606.4 2387.9L607.1 2385.7L607.8 2383.5L608.6 2381.2L609.3 2378.9L610.1 2376.5L610.8 2374.1L611.6 2371.6L612.3 2369.2L613.0 2366.6L613.8 2363.9L614.5 2361.2L615.3 2358.4L616.0 2355.5L616.7 2352.6L617.5 2349.6L618.2 2346.6L619.0 2343.6L619.7 2340.5L620.4 2337.3L621.2 2334.2L621.9 2331.0L622.7 2327.7L623.4 2324.3L624.2 2320.9L624.9 2317.4L625.6 2313.9L626.4 2310.4L627.1 2306.8L627.9 2303.3L628.6 2299.7L629.3 2296.1L630.1 2292.4L630.8 2288.7L631.6 2285.0L632.3 2281.2L633.0 2277.5L633.8 2273.7L634.5 2270.0L635.3 2266.2L636.0 2262.5L636.7 2258.9L637.5 2255.3L638.2 2251.8L639.0 2248.2L639.7 2244.7L640.5 2241.1L641.2 2237.5L641.9 2233.9L642.7 2230.1L643.4 2226.3L644.2 2222.4L644.9 2218.3L645.6 2214.2L646.4 2209.9L647.1 2205.6L647.9 2201.3L648.6 2197.1L649.3 2192.8L650.1 2188.6L650.8 2184.5L651.6 2180.3L652.3 2176.2L653.1 2172.1L653.8 2168.0L654.5 2163.9L655.3 2159.7L656.0 2155.6L656.8 2151.4L657.5 2147.3L658.2 2143.1L659.0 2138.9L659.7 2134.8L660.5 2130.6L661.2 2126.5L661.9 2122.4L662.7 2118.3L663.4 2114.2L664.2 2110.1L664.9 2105.9L665.6 2101.7L666.4 2097.5L667.1 2093.3L667.9 2089.1L668.6 2085.1L669.4 2081.2L670.1 2077.4L670.8 2073.7L671.6 2070.0L672.3 2066.4L673.1 2062.9L673.8 2059.5L674.5 2056.1L675.3 2052.9L676.0 2049.6L676.8 2046.4L677.5 2043.3L678.2 2040.2L679.0 2037.2L679.7 2034.3L680.5 2031.6L681.2 2029.0L682.0 2026.7L682.7 2024.5L683.4 2022.6L684.2 2020.6L684.9 2018.7L685.7 2016.7L686.4 2014.7L687.1 2012.8L687.9 2011.0L688.6 2009.3L689.4 2007.8L690.1 2006.4L690.8 2005.1L691.6 2003.8L692.3 2002.5L693.1 2001.6L693.8 2001.1L694.5 2001.0L695.3 2001.1L696.0 2001.2L696.8 2001.4L697.5 2001.7L698.3 2002.0L699.0 2002.3L699.7 2002.7L700.5 2003.1L701.2 2003.5L702.0 2004.0L702.7 2004.5L703.4 2004.9L704.2 2005.4L704.9 2006.0L705.7 2006.7L706.4 2007.5L707.1 2008.3L707.9 2009.3L708.6 2010.3L709.4 2011.5L710.1 2012.8L710.8 2014.3L711.6 2016.2L712.3 2018.5L713.1 2020.9L713.8 2023.6L714.6 2026.3L715.3 2029.2L716.0 2032.1L716.8 2035.0L717.5 2038.0L718.3 2041.1L719.0 2044.4L719.7 2047.8L720.5 2051.4L721.2 2055.0L722.0 2058.7L722.7 2062.4L723.4 2066.0L724.2 2069.7L724.9 2073.5L725.7 2077.4L726.4 2081.3L727.2 2085.2L727.9 2089.2L728.6 2093.1L729.4 2097.0L730.1 2100.8L730.9 2104.6L731.6 2108.3L732.3 2112.1L733.1 2115.8L733.8 2119.6L734.6 2123.4L735.3 2127.3L736.0 2131.3L736.8 2135.5L737.5 2139.7L738.3 2144.0L739.0 2148.4L739.7 2152.7L740.5 2157.1L741.2 2161.5L742.0 2165.7L742.7 2169.9L743.5 2174.1L744.2 2178.4L744.9 2182.7L745.7 2186.8L746.4 2190.7L747.2 2194.2L747.9 2197.3L748.6 2200.2L749.4 2202.9L750.1 2205.4L750.9 2207.7L751.6 2210.0L752.3 2212.3L753.1 2214.6L753.8 2216.9L754.6 2219.2L755.3 2221.5L756.0 2223.7L756.8 2225.9L757.5 2227.8L758.3 2229.6L759.0 2231.2L759.8 2232.6L760.5 2233.6L761.2 2234.5L762.0 2235.3L762.7 2236.1L763.5 2236.8L764.2 2237.6L764.9 2238.2L765.7 2238.8L766.4 2239.3L767.2 2239.7L767.9 2240.0L768.6 2240.2L769.4 2240.3L770.1 2240.3L770.9 2240.2L771.6 2240.0L772.4 2239.8L773.1 2239.5L773.8 2239.1L774.6 2238.7L775.3 2238.2L776.1 2237.7L776.8 2237.2L777.5 2236.6L778.3 2235.9L779.0 2235.3L779.8 2234.6L780.5 2233.8L781.2 2233.1L782.0 2232.2L782.7 2231.1L783.5 2229.6L784.2 2227.9L784.9 2226.1L785.7 2224.1L786.4 2222.1L787.2 2220.1L787.9 2218.1L788.7 2216.2L789.4 2214.4L790.1 2212.5L790.9 2210.6L791.6 2208.7L792.4 2206.8L793.1 2204.8L793.8 2202.9L794.6 2201.0L795.3 2199.1L796.1 2197.2L796.8 2195.3L797.5 2193.4L798.3 2191.5L799.0 2189.6L799.8 2187.7L800.5 2185.8L801.3 2183.8L802.0 2181.8L802.7 2179.7L803.5 2177.5L804.2 2175.4L805.0 2173.3L805.7 2171.3L806.4 2169.4L807.2 2167.5L807.9 2165.7L808.7 2163.9L809.4 2162.1L810.1 2160.4L810.9 2158.7L811.6 2157.1L812.4 2155.6L813.1 2154.1L813.8 2152.7L814.6 2151.3L815.3 2149.9L816.1 2148.6L816.8 2147.3L817.6 2146.1L818.3 2145.0L819.0 2143.9L819.8 2142.9L820.5 2141.9L821.3 2141.0L822.0 2140.0L822.7 2139.1L823.5 2138.3L824.2 2137.5L825.0 2136.8L825.7 2136.2L826.4 2135.7L827.2 2135.3L827.9 2134.9L828.7 2134.5L829.4 2134.1L830.1 2133.7L830.9 2133.3L831.6 2133.0L832.4 2132.7L833.1 2132.5L833.9 2132.3L834.6 2132.1L835.3 2132.0L836.1 2132.0L836.8 2132.0L837.6 2132.1L838.3 2132.2L839.0 2132.3L839.8 2132.5L840.5 2132.8L841.3 2133.0L842.0 2133.3L842.7 2133.7L843.5 2134.0L844.2 2134.4L845.0 2134.8L845.7 2135.3L846.5 2135.7L847.2 2136.2L847.9 2136.8L848.7 2137.6L849.4 2138.6L850.2 2139.8L850.9 2141.1L851.6 2142.5L852.4 2144.1L853.1 2145.8L853.9 2147.5L854.6 2149.2L855.3 2151.0L856.1 2153.0L856.8 2155.2L857.6 2157.6L858.3 2160.2L859.0 2162.8L859.8 2165.5L860.5 2168.2L861.3 2170.9L862.0 2173.7L862.8 2176.6L863.5 2179.6L864.2 2182.7L865.0 2185.9L865.7 2189.1L866.5 2192.6L867.2 2196.1L867.9 2199.5L868.7 2203.0L869.4 2206.3L870.2 2209.5L870.9 2212.7L871.6 2216.0L872.4 2219.5L873.1 2223.2L873.9 2227.2L874.6 2231.2L875.4 2235.2L876.1 2238.9L876.8 2242.5L877.6 2246.1L878.3 2249.9L879.1 2253.8L879.8 2257.9L880.5 2262.1L881.3 2266.4L882.0 2270.9L882.8 2275.6L883.5 2280.5L884.2 2285.3L885.0 2290.0L885.7 2294.5L886.5 2298.8L887.2 2302.9L887.9 2307.0L888.7 2310.9L889.4 2314.8L890.2 2318.7L890.9 2322.5L891.7 2326.4L892.4 2330.3L893.1 2334.2L893.9 2338.1L894.6 2342.0L895.4 2345.9L896.1 2349.8L896.8 2353.6L897.6 2357.4L898.3 2361.1L899.1 2364.8L899.8 2368.5L900.5 2372.1L901.3 2375.7L902.0 2379.2L902.8 2382.8L903.5 2386.3L904.2 2389.7L905.0 2393.2L905.7 2396.6L906.5 2400.1L907.2 2403.5L908.0 2406.8L908.7 2410.1L909.4 2413.4L910.2 2416.5L910.9 2419.6L911.7 2422.6L912.4 2425.6L913.1 2428.5L913.9 2431.4L914.6 2434.2L915.4 2437.0L916.1 2439.7L916.8 2442.3L917.6 2444.8L918.3 2447.3L919.1 2449.7L919.8 2452.0L920.6 2454.3L921.3 2456.6L922.0 2458.8L922.8 2460.9L923.5 2463.0L924.3 2465.1L925.0 2467.1L925.7 2469.0L926.5 2471.0L927.2 2472.8L928.0 2474.7L928.7 2476.6L929.4 2478.4L930.2 2480.2L930.9 2481.9L931.7 2483.7L932.4 2485.4L933.1 2487.1L933.9 2488.7L934.6 2490.3L935.4 2491.9L936.1 2493.4L936.9 2494.9L937.6 2496.3L938.3 2497.7L939.1 2499.1L939.8 2500.4L940.6 2501.7L941.3 2503.0L942.0 2504.3L942.8 2505.5L943.5 2506.8L944.3 2508.0L945.0 2509.2L945.7 2510.3L946.5 2511.5L947.2 2512.6L948.0 2513.7L948.7 2514.7L949.5 2515.8L950.2 2516.8L950.9 2517.8L951.7 2518.8L952.4 2519.7L953.2 2520.7L953.9 2521.6L954.6 2522.5L955.4 2523.3L956.1 2524.2L956.9 2525.1L957.6 2525.9L958.3 2526.8L959.1 2527.6L959.8 2528.4L960.6 2529.2L961.3 2529.9L962.0 2530.7L962.8 2531.4L963.5 2532.2L964.3 2532.9L965.0 2533.6L965.8 2534.3L966.5 2534.9L967.2 2535.6L968.0 2536.2L968.7 2536.9L969.5 2537.5L970.2 2538.1L970.9 2538.7L971.7 2539.2L972.4 2539.8L973.2 2540.4L973.9 2540.9L974.6 2541.5L975.4 2542.0L976.1 2542.6L976.9 2543.1L977.6 2543.6L978.3 2544.1L979.1 2544.6L979.8 2545.1L980.6 2545.6L981.3 2546.1L982.1 2546.5L982.8 2547.0L983.5 2547.4L984.3 2547.9L985.0 2548.3L985.8 2548.7L986.5 2549.1L987.2 2549.4L988.0 2549.8L988.7 2550.1L989.5 2550.5L990.2 2550.8L990.9 2551.1L991.7 2551.5L992.4 2551.8L993.2 2552.1L993.9 2552.4L994.7 2552.7L995.4 2553.0L996.1 2553.3L996.9 2553.5L997.6 2553.8L998.4 2554.1L999.1 2554.4L999.8 2554.6L1000.6 2554.9L1001.3 2555.1L1002.1 2555.4L1002.8 2555.6L1003.5 2555.8L1004.3 2556.0L1005.0 2556.3L1005.8 2556.5L1006.5 2556.7L1007.2 2556.9L1008.0 2557.1L1008.7 2557.3L1009.5 2557.4L1010.2 2557.6L1011.0 2557.8L1011.7 2557.9L1012.4 2558.1L1013.2 2558.2L1013.9 2558.4L1014.7 2558.5L1015.4 2558.7L1016.1 2558.8L1016.9 2559.0L1017.6 2559.1L1018.4 2559.3L1019.1 2559.4L1019.8 2559.6L1020.6 2559.7L1021.3 2559.8L1022.1 2560.0L1022.8 2560.1L1023.6 2560.2L1024.3 2560.3L1025.0 2560.4L1025.8 2560.6L1026.5 2560.7L1027.3 2560.8L1028.0 2560.9L1028.7 2561.0L1029.5 2561.0L1030.2 2561.1L1031.0 2561.2L1031.7 2561.3L1032.4 2561.4L1033.2 2561.4L1033.9 2561.5L1034.7 2561.5L1035.4 2561.6L1036.1 2561.6L1036.9 2561.7L1037.6 2561.7L1038.4 2561.8L1039.1 2561.8L1039.9 2561.8L1040.6 2561.9L1041.3 2561.9L1042.1 2562.0L1042.8 2562.0L1043.6 2562.0L1044.3 2562.1L1045.0 2562.1L1045.8 2562.1L1046.5 2562.2L1047.3 2562.2L1048.0 2562.2L1048.7 2562.3L1049.5 2562.3L1050.2 2562.3L1051.0 2562.4L1051.7 2562.4L1052.4 2562.4L1053.2 2562.4L1053.9 2562.5L1054.7 2562.5L1055.4 2562.5L1056.2 2562.5L1056.9 2562.6L1057.6 2562.6L1058.4 2562.6L1059.1 2562.6L1059.9 2562.6L1060.6 2562.7L1061.3 2562.7L1062.1 2562.7L1062.8 2562.7L1063.6 2562.7L1064.3 2562.7L1065.0 2562.7L1065.8 2562.7L1066.5 2562.7L1067.3 2562.8L1068.0 2562.8L1068.8 2562.8L1069.5 2562.8L1070.2 2562.8L1071.0 2562.8L1071.7 2562.8L1072.5 2562.7L1073.2 2562.7L1073.9 2562.7L1074.7 2562.7L1075.4 2562.7L1076.2 2562.7L1076.9 2562.7L1077.6 2562.7L1078.4 2562.7L1079.1 2562.7L1079.9 2562.7L1080.6 2562.7L1081.3 2562.6L1082.1 2562.6L1082.8 2562.6L1083.6 2562.6L1084.3 2562.6L1085.1 2562.6L1085.8 2562.5L1086.5 2562.5L1087.3 2562.5L1088.0 2562.5L1088.8 2562.5L1089.5 2562.4L1090.2 2562.4L1091.0 2562.4L1091.7 2562.4L1092.5 2562.4L1093.2 2562.3L1093.9 2562.3L1094.7 2562.3L1095.4 2562.3L1096.2 2562.2L1096.9 2562.2L1097.7 2562.2L1098.4 2562.2L1099.1 2562.1L1099.9 2562.1L1100.6 2562.1L1101.4 2562.0L1102.1 2562.0L1102.8 2562.0L1103.6 2562.0L1104.3 2561.9L1105.1 2561.9L1105.8 2561.9L1106.5 2561.8L1107.3 2561.8L1108.0 2561.8L1108.8 2561.8L1109.5 2561.7L1110.2 2561.7L1111.0 2561.7L1111.7 2561.6L1112.5 2561.6L1113.2 2561.6L1114.0 2561.5L1114.7 2561.5L1115.4 2561.5L1116.2 2561.4L1116.9 2561.4L1117.7 2561.4L1118.4 2561.3L1119.1 2561.3L1119.9 2561.2L1120.6 2561.1L1121.4 2561.1L1122.1 2561.0L1122.8 2561.0L1123.6 2560.9L1124.3 2560.8L1125.1 2560.8L1125.8 2560.7L1126.5 2560.6L1127.3 2560.5L1128.0 2560.5L1128.8 2560.4L1129.5 2560.3L1130.3 2560.2L1131.0 2560.2L1131.7 2560.1L1132.5 2560.0L1133.2 2559.9L1134.0 2559.8L1134.7 2559.8L1135.4 2559.7L1136.2 2559.6L1136.9 2559.5L1137.7 2559.5L1138.4 2559.4L1139.1 2559.3L1139.9 2559.2L1140.6 2559.2L1141.4 2559.1L1142.1 2559.0L1142.9 2559.0L1143.6 2558.9L1144.3 2558.9L1145.1 2558.8L1145.8 2558.7L1146.6 2558.7L1147.3 2558.6L1148.0 2558.6L1148.8 2558.6L1149.5 2558.5L1150.3 2558.5L1151.0 2558.5L1151.7 2558.4L1152.5 2558.4L1153.2 2558.4L1154.0 2558.4L1154.7 2558.4L1155.4 2558.4L1156.2 2558.4L1156.9 2558.4L1157.7 2558.4L1158.4 2558.4L1159.2 2558.4L1159.9 2558.4L1160.6 2558.4L1161.4 2558.5L1162.1 2558.5L1162.9 2558.5L1163.6 2558.5L1164.3 2558.6L1165.1 2558.6L1165.8 2558.6L1166.6 2558.6L1167.3 2558.7L1168.0 2558.7L1168.8 2558.7L1169.5 2558.8L1170.3 2558.8L1171.0 2558.9L1171.8 2558.9L1172.5 2558.9L1173.2 2559.0L1174.0 2559.0L1174.7 2559.1L1175.5 2559.1L1176.2 2559.2L1176.9 2559.2L1177.7 2559.3L1178.4 2559.3L1179.2 2559.4L1179.9 2559.4L1180.6 2559.5L1181.4 2559.5L1182.1 2559.5L1182.9 2559.6L1183.6 2559.6L1184.3 2559.7L1185.1 2559.7L1185.8 2559.8L1186.6 2559.8L1187.3 2559.9L1188.1 2559.9L1188.8 2560.0L1189.5 2560.0L1190.3 2560.0L1191.0 2560.1L1191.8 2560.1L1192.5 2560.2L1193.2 2560.2L1194.0 2560.2L1194.7 2560.3L1195.5 2560.3L1196.2 2560.3L1196.9 2560.4L1197.7 2560.4L1198.4 2560.5L1199.2 2560.5L1199.9 2560.5L1200.7 2560.6L1201.4 2560.6L1202.1 2560.6L1202.9 2560.7L1203.6 2560.7L1204.4 2560.8L1205.1 2560.8L1205.8 2560.8L1206.6 2560.9L1207.3 2560.9L1208.1 2561.0L1208.8 2561.0L1209.5 2561.1L1210.3 2561.1L1211.0 2561.1L1211.8 2561.2L1212.5 2561.2L1213.2 2561.2L1214.0 2561.3L1214.7 2561.3L1215.5 2561.4L1216.2 2561.4L1217.0 2561.4L1217.7 2561.5L1218.4 2561.5L1219.2 2561.5L1219.9 2561.5L1220.7 2561.6L1221.4 2561.6L1222.1 2561.6L1222.9 2561.7L1223.6 2561.7L1224.4 2561.7L1225.1 2561.7L1225.8 2561.7L1226.6 2561.7L1227.3 2561.8L1228.1 2561.8L1228.8 2561.8L1229.5 2561.8L1230.3 2561.8L1231.0 2561.8L1231.8 2561.8L1232.5 2561.8L1233.3 2561.8L1234.0 2561.8L1234.7 2561.8L1235.5 2561.8L1236.2 2561.8L1237.0 2561.8L1237.7 2561.8L1238.4 2561.8L1239.2 2561.8L1239.9 2561.8L1240.7 2561.8L1241.4 2561.8L1242.1 2561.8L1242.9 2561.8L1243.6 2561.8L1244.4 2561.8L1245.1 2561.8L1245.9 2561.8L1246.6 2561.8L1247.3 2561.8L1248.1 2561.8L1248.8 2561.8L1249.6 2561.8L1250.3 2561.8L1251.0 2561.8L1251.8 2561.8L1252.5 2561.8L1253.3 2561.8L1254.0 2561.8L1254.7 2561.8L1255.5 2561.8L1256.2 2561.8L1257.0 2561.7L1257.7 2561.7L1258.4 2561.7L1259.2 2561.7L1259.9 2561.7L1260.7 2561.7L1261.4 2561.7L1262.2 2561.7L1262.9 2561.7L1263.6 2561.7L1264.4 2561.7L1265.1 2561.7L1265.9 2561.7L1266.6 2561.7L1267.3 2561.7L1268.1 2561.7L1268.8 2561.7L1269.6 2561.7L1270.3 2561.7L1271.0 2561.7L1271.8 2561.7L1272.5 2561.7L1273.3 2561.7L1274.0 2561.7L1274.8 2561.7L1275.5 2561.7L1276.2 2561.7L1277.0 2561.7L1277.7 2561.7L1278.5 2561.7L1279.2 2561.7L1279.9 2561.7L1280.7 2561.7L1281.4 2561.7L1282.2 2561.7L1282.9 2561.7L1283.6 2561.7L1284.4 2561.7L1285.1 2561.6L1285.9 2561.6L1286.6 2561.6L1287.3 2561.6L1288.1 2561.6L1288.8 2561.6L1289.6 2561.6L1290.3 2561.6L1291.1 2561.6L1291.8 2561.6L1292.5 2561.6L1293.3 2561.6L1294.0 2561.6L1294.8 2561.6L1295.5 2561.6L1296.2 2561.6L1297.0 2561.6L1297.7 2561.6L1298.5 2561.6L1299.2 2561.6L1299.9 2561.6L1300.7 2561.6L1301.4 2561.6L1302.2 2561.6L1302.9 2561.6L1303.6 2561.6L1304.4 2561.6L1305.1 2561.5L1305.9 2561.5L1306.6 2561.5L1307.4 2561.5L1308.1 2561.5L1308.8 2561.5L1309.6 2561.5L1310.3 2561.5L1311.1 2561.5L1311.8 2561.5L1312.5 2561.5L1313.3 2561.5L1314.0 2561.5L1314.8 2561.5L1315.5 2561.5L1316.2 2561.4L1317.0 2561.4L1317.7 2561.4L1318.5 2561.4L1319.2 2561.4L1320.0 2561.4L1320.7 2561.4L1321.4 2561.4L1322.2 2561.3L1322.9 2561.3L1323.7 2561.3L1324.4 2561.3L1325.1 2561.3L1325.9 2561.3L1326.6 2561.2L1327.4 2561.2L1328.1 2561.2L1328.8 2561.2L1329.6 2561.2L1330.3 2561.1L1331.1 2561.1L1331.8 2561.1L1332.5 2561.1L1333.3 2561.1L1334.0 2561.0L1334.8 2561.0L1335.5 2561.0L1336.3 2561.0L1337.0 2561.0L1337.7 2560.9L1338.5 2560.9L1339.2 2560.9L1340.0 2560.9L1340.7 2560.9L1341.4 2560.8L1342.2 2560.8L1342.9 2560.8L1343.7 2560.8L1344.4 2560.7L1345.1 2560.7L1345.9 2560.7L1346.6 2560.7L1347.4 2560.6L1348.1 2560.6L1348.8 2560.6L1349.6 2560.6L1350.3 2560.5L1351.1 2560.5L1351.8 2560.5L1352.6 2560.5L1353.3 2560.4L1354.0 2560.4L1354.8 2560.4L1355.5 2560.4L1356.3 2560.3L1357.0 2560.3L1357.7 2560.3L1358.5 2560.3L1359.2 2560.2L1360.0 2560.2L1360.7 2560.2L1361.4 2560.2L1362.2 2560.1L1362.9 2560.1L1363.7 2560.1L1364.4 2560.1L1365.2 2560.0L1365.9 2560.0L1366.6 2560.0L1367.4 2560.0L1368.1 2559.9L1368.9 2559.9L1369.6 2559.9L1370.3 2559.8L1371.1 2559.8L1371.8 2559.8L1372.6 2559.8L1373.3 2559.8L1374.0 2559.7L1374.8 2559.7L1375.5 2559.7L1376.3 2559.7L1377.0 2559.6L1377.7 2559.6L1378.5 2559.6L1379.2 2559.6L1380.0 2559.5L1380.7 2559.5L1381.5 2559.5L1382.2 2559.5L1382.9 2559.4L1383.7 2559.4L1384.4 2559.4L1385.2 2559.4L1385.9 2559.4L1386.6 2559.3L1387.4 2559.3L1388.1 2559.3L1388.9 2559.3L1389.6 2559.3L1390.3 2559.2L1391.1 2559.2L1391.8 2559.2L1392.6 2559.2L1393.3 2559.2L1394.1 2559.2L1394.8 2559.1L1395.5 2559.1L1396.3 2559.1L1397.0 2559.1L1397.8 2559.1L1398.5 2559.1L1399.2 2559.1L1400.0 2559.0L1400.7 2559.0L1401.5 2559.0L1402.2 2559.0L1402.9 2559.0L1403.7 2559.0L1404.4 2559.0L1405.2 2559.0L1405.9 2558.9L1406.6 2558.9L1407.4 2558.9L1408.1 2558.9L1408.9 2558.9L1409.6 2558.9L1410.4 2558.9L1411.1 2558.9L1411.8 2558.9L1412.6 2558.9L1413.3 2558.9L1414.1 2558.9L1414.8 2558.9L1415.5 2558.9L1416.3 2558.9L1417.0 2558.9L1417.8 2558.9L1418.5 2558.9L1419.2 2558.9L1420.0 2558.9L1420.7 2558.9L1421.5 2558.9L1422.2 2558.9L1422.9 2558.9L1423.7 2558.9L1424.4 2558.9L1425.2 2558.9L1425.9 2558.9L1426.7 2558.9L1427.4 2558.9L1428.1 2558.9L1428.9 2558.9L1429.6 2558.9L1430.4 2558.9L1431.1 2558.9L1431.8 2559.0L1432.6 2559.0L1433.3 2559.0L1434.1 2559.0L1434.8 2559.0L1435.5 2559.0L1436.3 2559.0L1437.0 2559.0L1437.8 2559.0L1438.5 2559.1L1439.3 2559.1L1440.0 2559.1L1440.7 2559.1L1441.5 2559.1L1442.2 2559.1L1443.0 2559.1L1443.7 2559.2L1444.4 2559.2L1445.2 2559.2L1445.9 2559.2L1446.7 2559.2L1447.4 2559.2L1448.1 2559.2L1448.9 2559.3L1449.6 2559.3L1450.4 2559.3L1451.1 2559.3L1451.8 2559.3L1452.6 2559.3L1453.3 2559.4L1454.1 2559.4L1454.8 2559.4L1455.6 2559.4L1456.3 2559.4L1457.0 2559.5L1457.8 2559.5L1458.5 2559.5L1459.3 2559.5L1460.0 2559.5L1460.7 2559.5L1461.5 2559.6L1462.2 2559.6L1463.0 2559.6L1463.7 2559.6L1464.4 2559.6L1465.2 2559.7L1465.9 2559.7L1466.7 2559.7L1467.4 2559.7L1468.2 2559.7L1468.9 2559.8L1469.6 2559.8L1470.4 2559.8L1471.1 2559.8L1471.9 2559.8L1472.6 2559.9L1473.3 2559.9L1474.1 2559.9L1474.8 2559.9L1475.6 2559.9L1476.3 2560.0L1477.0 2560.0L1477.8 2560.0L1478.5 2560.0L1479.3 2560.0L1480.0 2560.0L1480.7 2560.1L1481.5 2560.1L1482.2 2560.1L1483.0 2560.1L1483.7 2560.1L1484.5 2560.2L1485.2 2560.2L1485.9 2560.2L1486.7 2560.2L1487.4 2560.2L1488.2 2560.2L1488.9 2560.3L1489.6 2560.3L1490.4 2560.3L1491.1 2560.3L1491.9 2560.3L1492.6 2560.3L1493.3 2560.4L1494.1 2560.4L1494.8 2560.4L1495.6 2560.4L1496.3 2560.4L1497.0 2560.4L1497.8 2560.5L1498.5 2560.5L1499.3 2560.5L1500.0 2560.5L1500.8 2560.5L1501.5 2560.5L1502.2 2560.6L1503.0 2560.6L1503.7 2560.6L1504.5 2560.6L1505.2 2560.6L1505.9 2560.7L1506.7 2560.7L1507.4 2560.7L1508.2 2560.7L1508.9 2560.7L1509.6 2560.7L1510.4 2560.8L1511.1 2560.8L1511.9 2560.8L1512.6 2560.8L1513.4 2560.8L1514.1 2560.9L1514.8 2560.9L1515.6 2560.9L1516.3 2560.9L1517.1 2560.9L1517.8 2561.0L1518.5 2561.0L1519.3 2561.0L1520.0 2561.0L1520.8 2561.0L1521.5 2561.1L1522.2 2561.1L1523.0 2561.1L1523.7 2561.1L1524.5 2561.1L1525.2 2561.2L1525.9 2561.2L1526.7 2561.2L1527.4 2561.2L1528.2 2561.2L1528.9 2561.2L1529.7 2561.3L1530.4 2561.3L1531.1 2561.3L1531.9 2561.3L1532.6 2561.3L1533.4 2561.4L1534.1 2561.4L1534.8 2561.4L1535.6 2561.4L1536.3 2561.4L1537.1 2561.5L1537.8 2561.5L1538.5 2561.5L1539.3 2561.5L1540.0 2561.5L1540.8 2561.5L1541.5 2561.6L1542.3 2561.6L1543.0 2561.6L1543.7 2561.6L1544.5 2561.6L1545.2 2561.6L1546.0 2561.7L1546.7 2561.7L1547.4 2561.7L1548.2 2561.7L1548.9 2561.7L1549.7 2561.7L1550.4 2561.8L1551.1 2561.8L1551.9 2561.8L1552.6 2561.8L1553.4 2561.8L1554.1 2561.8L1554.8 2561.8L1555.6 2561.9L1556.3 2561.9L1557.1 2561.9L1557.8 2561.9L1558.6 2561.9L1559.3 2561.9L1560.0 2561.9L1560.8 2562.0L1561.5 2562.0L1562.3 2562.0L1563.0 2562.0L1563.7 2562.0L1564.5 2562.0L1565.2 2562.0L1566.0 2562.0L1566.7 2562.0L1567.4 2562.0L1568.2 2562.1L1568.9 2562.1L1569.7 2562.1L1570.4 2562.1L1571.1 2562.1L1571.9 2562.1L1572.6 2562.1L1573.4 2562.1L1574.1 2562.1L1574.9 2562.1L1575.6 2562.2L1576.3 2562.2L1577.1 2562.2L1577.8 2562.2L1578.6 2562.2L1579.3 2562.2L1580.0 2562.2L1580.8 2562.2L1581.5 2562.2L1582.3 2562.2L1583.0 2562.2L1583.7 2562.3L1584.5 2562.3L1585.2 2562.3L1586.0 2562.3L1586.7 2562.3L1587.5 2562.3L1588.2 2562.3L1588.9 2562.3L1589.7 2562.3L1590.4 2562.3L1591.2 2562.4L1591.9 2562.4L1592.6 2562.4L1593.4 2562.4L1594.1 2562.4L1594.9 2562.4L1595.6 2562.4L1596.3 2562.4L1597.1 2562.4L1597.8 2562.4L1598.6 2562.4L1599.3 2562.5L1600.0 2562.5L1600.8 2562.5L1601.5 2562.5L1602.3 2562.5L1603.0 2562.5L1603.8 2562.5L1604.5 2562.5L1605.2 2562.5L1606.0 2562.5L1606.7 2562.5L1607.5 2562.5L1608.2 2562.6L1608.9 2562.6L1609.7 2562.6L1610.4 2562.6L1611.2 2562.6L1611.9 2562.6L1612.6 2562.6L1613.4 2562.6L1614.1 2562.6L1614.9 2562.6L1615.6 2562.6L1616.4 2562.6L1617.1 2562.6L1617.8 2562.7L1618.6 2562.7L1619.3 2562.7L1620.1 2562.7L1620.8 2562.7L1621.5 2562.7L1622.3 2562.7L1623.0 2562.7L1623.8 2562.7L1624.5 2562.7L1625.2 2562.7L1626.0 2562.7L1626.7 2562.7L1627.5 2562.8L1628.2 2562.8L1628.9 2562.8L1629.7 2562.8L1630.4 2562.8L1631.2 2562.8L1631.9 2562.8L1632.7 2562.8L1633.4 2562.8L1634.1 2562.8L1634.9 2562.8L1635.6 2562.8L1636.4 2562.8L1637.1 2562.8L1637.8 2562.8L1638.6 2562.8L1639.3 2562.8L1640.1 2562.9L1640.8 2562.9L1641.5 2562.9L1642.3 2562.9L1643.0 2562.9L1643.8 2562.9L1644.5 2562.9L1645.2 2562.9L1646.0 2562.9L1646.7 2562.9L1647.5 2562.9L1648.2 2562.9L1649.0 2562.9L1649.7 2562.9L1650.4 2562.9L1651.2 2562.9L1651.9 2562.9L1652.7 2562.9L1653.4 2562.9L1654.1 2562.9L1654.9 2562.9L1655.6 2562.9L1656.4 2563.0L1657.1 2563.0L1657.8 2563.0L1658.6 2563.0L1659.3 2563.0L1660.1 2563.0L1660.8 2563.0L1661.6 2563.0L1662.3 2563.0L1663.0 2563.0L1663.8 2563.0L1664.5 2563.0L1665.3 2563.0L1666.0 2563.0L1666.7 2563.0L1667.5 2563.0L1668.2 2563.0L1669.0 2563.0L1669.7 2563.0L1670.4 2563.0L1671.2 2563.0L1671.9 2563.0L1672.7 2563.0L1673.4 2563.0L1674.1 2563.0L1674.9 2563.0L1675.6 2563.0L1676.4 2563.0L1677.1 2563.0L1677.9 2563.0L1678.6 2563.0L1679.3 2563.0L1680.1 2563.0L1680.8 2563.0L1681.6 2563.0L1682.3 2563.0L1683.0 2563.0L1683.8 2563.0L1684.5 2563.0L1685.3 2563.0L1686.0 2563.0L1686.7 2563.0L1687.5 2563.0L1688.2 2563.0L1689.0 2563.0L1689.7 2563.0L1690.5 2563.0L1691.2 2563.0L1691.9 2563.0L1692.7 2563.0L1693.4 2563.0L1694.2 2563.0L1694.9 2563.0L1695.6 2563.0L1696.4 2563.0L1697.1 2563.0L1697.9 2563.0L1698.6 2563.0L1699.3 2563.0L1700.1 2563.0L1700.8 2563.0L1701.6 2563.0L1702.3 2563.0L1703.0 2563.0L1703.8 2563.0L1704.5 2563.0L1705.3 2563.0L1706.0 2563.0L1706.8 2563.0L1707.5 2563.0L1708.2 2563.0L1709.0 2563.0L1709.7 2563.0L1710.5 2563.0L1711.2 2563.0L1711.9 2563.0L1712.7 2563.0L1713.4 2563.0L1714.2 2563.0L1714.9 2563.0L1715.6 2563.0L1716.4 2563.0L1717.1 2563.0L1717.9 2563.0L1718.6 2563.0L1719.3 2563.0L1720.1 2563.0L1720.8 2563.0L1721.6 2563.0L1722.3 2563.0L1723.1 2563.0L1723.8 2563.0L1724.5 2563.0L1725.3 2563.0L1726.0 2563.0L1726.8 2563.0L1727.5 2563.0L1728.2 2563.0L1729.0 2563.0L1729.7 2563.0L1730.5 2563.0L1731.2 2563.0L1731.9 2563.0L1732.7 2563.0L1733.4 2563.0L1734.2 2563.0L1734.9 2563.0L1735.7 2563.0L1736.4 2563.0L1737.1 2563.0L1737.9 2563.0L1738.6 2563.0L1739.4 2563.0L1740.1 2563.0L1740.8 2563.0L1741.6 2563.0L1742.3 2563.0L1743.1 2563.0L1743.8 2563.0L1744.5 2563.0L1745.3 2563.0L1746.0 2563.0L1746.8 2563.0L1747.5 2563.0L1748.2 2563.0L1749.0 2563.0L1749.7 2563.0L1750.5 2563.0L1751.2 2563.0L1752.0 2563.0L1752.7 2563.0L1753.4 2563.0L1754.2 2563.0L1754.9 2563.0L1755.7 2563.0L1756.4 2563.0L1757.1 2563.0L1757.9 2563.0L1758.6 2563.0L1759.4 2563.0L1760.1 2563.0L1760.8 2563.0L1761.6 2563.0L1762.3 2563.0L1763.1 2563.0L1763.8 2563.0L1764.6 2563.0L1765.3 2563.0L1766.0 2563.0L1766.8 2563.0L1767.5 2563.0L1768.3 2563.0L1769.0 2563.0L1769.7 2563.0L1770.5 2563.0L1771.2 2563.0L1772.0 2563.0L1772.7 2563.0L1773.4 2563.0L1774.2 2563.0L1774.9 2563.0L1775.7 2563.0L1776.4 2563.0L1777.1 2563.0L1777.9 2563.0L1778.6 2563.0L1779.4 2563.0L1780.1 2563.0L1780.9 2563.0L1781.6 2563.0L1782.3 2563.0L1783.1 2563.0L1783.8 2563.0L1784.6 2563.0L1785.3 2563.0L1786.0 2563.0L1786.8 2563.0L1787.5 2563.0L1788.3 2563.0L1789.0 2563.0L1789.7 2563.0L1790.5 2563.0L1791.2 2563.0L1792.0 2563.0L1792.7 2563.0L1793.4 2563.0L1794.2 2563.0L1794.9 2563.0L1795.7 2563.0" fill="none" stroke="#0ff" stroke-width="3.4" stroke-linejoin="round" marker-start="url(#mt)" marker-mid="url(#mt)" marker-end="url(#mt)"/>
<path d="M348.5 2563.0L349.2 2563.0L350.0 2563.0L350.7 2563.0L351.5 2563.0L352.2 2563.0L352.9 2563.0L353.7 2563.0L354.4 2563.0L355.2 2562.9L355.9 2562.9L356.7 2562.9L357.4 2562.9L358.1 2562.9L358.9 2562.9L359.6 2562.9L360.4 2562.8L361.1 2562.8L361.8 2562.8L362.6 2562.8L363.3 2562.8L364.1 2562.7L364.8 2562.7L365.5 2562.6L366.3 2562.6L367.0 2562.5L367.8 2562.4L368.5 2562.4L369.2 2562.3L370.0 2562.2L370.7 2562.1L371.5 2562.0L372.2 2561.8L373.0 2561.7L373.7 2561.6L374.4 2561.4L375.2 2561.3L375.9 2561.1L376.7 2560.9L377.4 2560.7L378.1 2560.5L378.9 2560.2L379.6 2559.9L380.4 2559.5L381.1 2559.2L381.8 2558.8L382.6 2558.5L383.3 2558.1L384.1 2557.7L384.8 2557.3L385.6 2556.9L386.3 2556.5L387.0 2556.1L387.8 2555.6L388.5 2555.1L389.3 2554.6L390.0 2554.1L390.7 2553.6L391.5 2553.0L392.2 2552.4L393.0 2551.9L393.7 2551.3L394.4 2550.7L395.2 2550.1L395.9 2549.5L396.7 2548.9L397.4 2548.3L398.1 2547.8L398.9 2547.2L399.6 2546.6L400.4 2545.9L401.1 2545.3L401.9 2544.7L402.6 2544.1L403.3 2543.4L404.1 2542.8L404.8 2542.1L405.6 2541.4L406.3 2540.8L407.0 2540.1L407.8 2539.4L408.5 2538.7L409.3 2538.0L410.0 2537.3L410.7 2536.6L411.5 2535.9L412.2 2535.1L413.0 2534.4L413.7 2533.7L414.4 2532.9L415.2 2532.2L415.9 2531.4L416.7 2530.7L417.4 2529.9L418.2 2529.1L418.9 2528.3L419.6 2527.4L420.4 2526.6L421.1 2525.7L421.9 2524.8L422.6 2523.9L423.3 2523.0L424.1 2522.1L424.8 2521.1L425.6 2520.0L426.3 2519.0L427.0 2517.9L427.8 2516.8L428.5 2515.7L429.3 2514.6L430.0 2513.4L430.8 2512.3L431.5 2511.1L432.2 2510.0L433.0 2508.9L433.7 2507.7L434.5 2506.6L435.2 2505.5L435.9 2504.4L436.7 2503.3L437.4 2502.2L438.2 2501.2L438.9 2500.1L439.6 2499.0L440.4 2497.9L441.1 2496.8L441.9 2495.7L442.6 2494.6L443.3 2493.4L444.1 2492.3L444.8 2491.1L445.6 2489.9L446.3 2488.7L447.1 2487.4L447.8 2486.2L448.5 2484.9L449.3 2483.6L450.0 2482.3L450.8 2481.0L451.5 2479.6L452.2 2478.3L453.0 2476.9L453.7 2475.6L454.5 2474.2L455.2 2472.9L455.9 2471.5L456.7 2470.2L457.4 2468.8L458.2 2467.4L458.9 2466.0L459.6 2464.7L460.4 2463.3L461.1 2461.9L461.9 2460.4L462.6 2459.0L463.4 2457.6L464.1 2456.2L464.8 2454.8L465.6 2453.3L466.3 2451.9L467.1 2450.5L467.8 2449.0L468.5 2447.6L469.3 2446.2L470.0 2444.7L470.8 2443.3L471.5 2441.9L472.2 2440.4L473.0 2438.9L473.7 2437.4L474.5 2435.9L475.2 2434.4L476.0 2432.8L476.7 2431.2L477.4 2429.6L478.2 2427.9L478.9 2426.2L479.7 2424.5L480.4 2422.8L481.1 2421.0L481.9 2419.3L482.6 2417.5L483.4 2415.7L484.1 2413.9L484.8 2412.1L485.6 2410.3L486.3 2408.5L487.1 2406.7L487.8 2404.9L488.5 2403.1L489.3 2401.3L490.0 2399.5L490.8 2397.6L491.5 2395.8L492.3 2393.9L493.0 2392.1L493.7 2390.2L494.5 2388.4L495.2 2386.5L496.0 2384.6L496.7 2382.8L497.4 2380.9L498.2 2378.9L498.9 2377.0L499.7 2375.0L500.4 2372.9L501.1 2370.9L501.9 2368.7L502.6 2366.5L503.4 2364.3L504.1 2362.1L504.9 2359.8L505.6 2357.5L506.3 2355.2L507.1 2352.9L507.8 2350.5L508.6 2348.1L509.3 2345.7L510.0 2343.3L510.8 2340.9L511.5 2338.4L512.3 2335.9L513.0 2333.4L513.7 2330.8L514.5 2328.2L515.2 2325.6L516.0 2323.0L516.7 2320.4L517.4 2317.7L518.2 2314.9L518.9 2312.2L519.7 2309.4L520.4 2306.7L521.2 2303.9L521.9 2301.2L522.6 2298.4L523.4 2295.7L524.1 2293.0L524.9 2290.2L525.6 2287.5L526.3 2284.8L527.1 2282.0L527.8 2279.3L528.6 2276.6L529.3 2274.0L530.0 2271.3L530.8 2268.8L531.5 2266.2L532.3 2263.7L533.0 2261.3L533.8 2258.8L534.5 2256.4L535.2 2253.9L536.0 2251.5L536.7 2249.0L537.5 2246.5L538.2 2243.9L538.9 2241.2L539.7 2238.5L540.4 2235.8L541.2 2233.0L541.9 2230.3L542.6 2227.6L543.4 2225.1L544.1 2222.7L544.9 2220.4L545.6 2218.1L546.3 2215.8L547.1 2213.6L547.8 2211.5L548.6 2209.5L549.3 2207.6L550.1 2205.9L550.8 2204.3L551.5 2202.8L552.3 2201.3L553.0 2199.8L553.8 2198.5L554.5 2197.2L555.2 2196.0L556.0 2194.9L556.7 2193.9L557.5 2193.0L558.2 2192.3L558.9 2191.6L559.7 2190.9L560.4 2190.3L561.2 2189.6L561.9 2189.0L562.6 2188.5L563.4 2187.9L564.1 2187.5L564.9 2187.1L565.6 2186.8L566.4 2186.5L567.1 2186.4L567.8 2186.3L568.6 2186.3L569.3 2186.3L570.1 2186.3L570.8 2186.3L571.5 2186.3L572.3 2186.3L573.0 2186.3L573.8 2186.3L574.5 2186.3L575.2 2186.3L576.0 2186.3L576.7 2186.3L577.5 2186.3L578.2 2186.3L579.0 2186.3L579.7 2186.4L580.4 2186.5L581.2 2186.6L581.9 2186.7L582.7 2186.9L583.4 2187.0L584.1 2187.2L584.9 2187.3L585.6 2187.5L586.4 2187.6L587.1 2187.8L587.8 2187.9L588.6 2188.0L589.3 2188.0L590.1 2188.1L590.8 2188.1L591.5 2188.0L592.3 2187.9L593.0 2187.8L593.8 2187.6L594.5 2187.4L595.3 2187.1L596.0 2186.8L596.7 2186.5L597.5 2186.1L598.2 2185.7L599.0 2185.3L599.7 2184.9L600.4 2184.4L601.2 2184.0L601.9 2183.5L602.7 2183.0L603.4 2182.5L604.1 2181.9L604.9 2181.1L605.6 2180.3L606.4 2179.3L607.1 2178.3L607.8 2177.2L608.6 2176.0L609.3 2174.8L610.1 2173.5L610.8 2172.1L611.6 2170.8L612.3 2169.3L613.0 2167.9L613.8 2166.4L614.5 2164.8L615.3 2163.2L616.0 2161.4L616.7 2159.4L617.5 2157.4L618.2 2155.2L619.0 2152.9L619.7 2150.4L620.4 2147.8L621.2 2144.8L621.9 2141.3L622.7 2137.2L623.4 2132.9L624.2 2128.4L624.9 2123.9L625.6 2119.6L626.4 2115.6L627.1 2111.9L627.9 2108.5L628.6 2105.1L629.3 2101.8L630.1 2098.5L630.8 2095.1L631.6 2091.5L632.3 2087.6L633.0 2083.3L633.8 2078.6L634.5 2073.5L635.3 2068.2L636.0 2062.7L636.7 2057.3L637.5 2051.9L638.2 2046.8L639.0 2041.7L639.7 2036.6L640.5 2031.5L641.2 2026.4L641.9 2021.2L642.7 2015.8L643.4 2010.3L644.2 2004.6L644.9 1998.8L645.6 1993.0L646.4 1987.1L647.1 1981.3L647.9 1975.5L648.6 1969.9L649.3 1964.4L650.1 1958.9L650.8 1953.4L651.6 1948.0L652.3 1942.6L653.1 1937.2L653.8 1931.7L654.5 1926.3L655.3 1921.0L656.0 1915.7L656.8 1910.4L657.5 1905.0L658.2 1899.6L659.0 1894.0L659.7 1888.2L660.5 1882.2L661.2 1876.0L661.9 1869.8L662.7 1863.7L663.4 1858.0L664.2 1852.3L664.9 1846.8L665.6 1841.3L666.4 1835.9L667.1 1830.5L667.9 1825.0L668.6 1819.6L669.4 1814.1L670.1 1808.6L670.8 1803.1L671.6 1797.7L672.3 1792.3L673.1 1787.1L673.8 1782.0L674.5 1777.0L675.3 1772.1L676.0 1767.3L676.8 1762.6L677.5 1758.0L678.2 1753.4L679.0 1748.7L679.7 1744.1L680.5 1739.4L681.2 1734.7L682.0 1729.9L682.7 1725.1L683.4 1720.3L684.2 1715.5L684.9 1710.8L685.7 1706.2L686.4 1701.6L687.1 1697.1L687.9 1692.5L688.6 1687.9L689.4 1683.3L690.1 1678.9L690.8 1674.6L691.6 1670.7L692.3 1667.1L693.1 1663.9L693.8 1660.9L694.5 1658.0L695.3 1655.3L696.0 1652.6L696.8 1650.2L697.5 1647.8L698.3 1645.6L699.0 1643.6L699.7 1641.7L700.5 1639.9L701.2 1638.2L702.0 1636.4L702.7 1634.6L703.4 1632.9L704.2 1631.2L704.9 1629.6L705.7 1628.1L706.4 1626.8L707.1 1625.6L707.9 1624.7L708.6 1624.1L709.4 1623.7L710.1 1623.6L710.8 1623.7L711.6 1624.0L712.3 1624.4L713.1 1624.9L713.8 1625.6L714.6 1626.3L715.3 1627.2L716.0 1628.1L716.8 1629.1L717.5 1630.1L718.3 1631.2L719.0 1632.4L719.7 1633.7L720.5 1635.4L721.2 1637.4L722.0 1639.8L722.7 1642.4L723.4 1645.2L724.2 1648.0L724.9 1650.9L725.7 1653.8L726.4 1656.8L727.2 1660.1L727.9 1663.5L728.6 1667.0L729.4 1670.7L730.1 1674.5L730.9 1678.4L731.6 1682.3L732.3 1686.3L733.1 1690.4L733.8 1694.6L734.6 1699.1L735.3 1703.7L736.0 1708.6L736.8 1713.9L737.5 1719.7L738.3 1726.1L739.0 1732.8L739.7 1739.6L740.5 1746.4L741.2 1753.0L742.0 1759.4L742.7 1765.9L743.5 1772.3L744.2 1778.9L744.9 1785.5L745.7 1792.3L746.4 1799.1L747.2 1806.1L747.9 1813.1L748.6 1820.0L749.4 1827.0L750.1 1834.1L750.9 1841.3L751.6 1848.4L752.3 1855.1L753.1 1861.3L753.8 1866.8L754.6 1871.9L755.3 1876.8L756.0 1881.6L756.8 1886.3L757.5 1891.3L758.3 1896.5L759.0 1901.9L759.8 1907.3L760.5 1912.9L761.2 1918.5L762.0 1924.4L762.7 1930.3L763.5 1936.4L764.2 1942.6L764.9 1948.9L765.7 1955.3L766.4 1961.9L767.2 1968.6L767.9 1975.5L768.6 1982.6L769.4 1989.9L770.1 1997.0L770.9 2004.0L771.6 2010.6L772.4 2017.0L773.1 2023.3L773.8 2029.7L774.6 2036.3L775.3 2043.2L776.1 2050.7L776.8 2058.4L777.5 2066.0L778.3 2073.4L779.0 2080.3L779.8 2087.0L780.5 2093.5L781.2 2099.8L782.0 2105.9L782.7 2111.8L783.5 2117.4L784.2 2122.9L784.9 2128.2L785.7 2133.3L786.4 2138.2L787.2 2143.0L787.9 2147.5L788.7 2152.0L789.4 2156.3L790.1 2160.4L790.9 2164.5L791.6 2168.4L792.4 2172.1L793.1 2175.6L793.8 2179.2L794.6 2182.8L795.3 2186.6L796.1 2190.7L796.8 2195.3L797.5 2200.0L798.3 2204.6L799.0 2208.8L799.8 2213.0L800.5 2217.2L801.3 2221.3L802.0 2225.3L802.7 2229.1L803.5 2232.8L804.2 2236.3L805.0 2239.6L805.7 2242.6L806.4 2245.5L807.2 2248.4L807.9 2251.1L808.7 2253.7L809.4 2256.2L810.1 2258.7L810.9 2261.1L811.6 2263.4L812.4 2265.7L813.1 2267.9L813.8 2270.1L814.6 2272.2L815.3 2274.3L816.1 2276.4L816.8 2278.4L817.6 2280.4L818.3 2282.3L819.0 2284.2L819.8 2286.0L820.5 2287.8L821.3 2289.6L822.0 2291.3L822.7 2293.0L823.5 2294.6L824.2 2296.3L825.0 2297.9L825.7 2299.5L826.4 2301.0L827.2 2302.6L827.9 2304.1L828.7 2305.6L829.4 2307.0L830.1 2308.5L830.9 2309.9L831.6 2311.3L832.4 2312.7L833.1 2314.0L833.9 2315.4L834.6 2316.7L835.3 2318.0L836.1 2319.3L836.8 2320.5L837.6 2321.7L838.3 2322.9L839.0 2324.1L839.8 2325.3L840.5 2326.4L841.3 2327.6L842.0 2328.7L842.7 2329.9L843.5 2331.0L844.2 2332.2L845.0 2333.4L845.7 2334.6L846.5 2335.8L847.2 2337.0L847.9 2338.3L848.7 2339.6L849.4 2340.8L850.2 2342.1L850.9 2343.3L851.6 2344.6L852.4 2345.9L853.1 2347.2L853.9 2348.5L854.6 2349.8L855.3 2351.1L856.1 2352.4L856.8 2353.8L857.6 2355.2L858.3 2356.6L859.0 2358.0L859.8 2359.5L860.5 2360.9L861.3 2362.5L862.0 2364.0L862.8 2365.6L863.5 2367.2L864.2 2368.8L865.0 2370.5L865.7 2372.2L866.5 2373.9L867.2 2375.6L867.9 2377.3L868.7 2379.1L869.4 2380.9L870.2 2382.7L870.9 2384.5L871.6 2386.3L872.4 2388.2L873.1 2390.1L873.9 2392.1L874.6 2394.0L875.4 2396.0L876.1 2398.0L876.8 2400.0L877.6 2401.9L878.3 2403.9L879.1 2405.8L879.8 2407.7L880.5 2409.6L881.3 2411.6L882.0 2413.5L882.8 2415.4L883.5 2417.3L884.2 2419.2L885.0 2421.1L885.7 2423.0L886.5 2424.8L887.2 2426.6L887.9 2428.4L888.7 2430.2L889.4 2431.9L890.2 2433.5L890.9 2435.1L891.7 2436.7L892.4 2438.3L893.1 2439.9L893.9 2441.6L894.6 2443.3L895.4 2445.0L896.1 2446.9L896.8 2448.8L897.6 2450.8L898.3 2453.0L899.1 2455.2L899.8 2457.5L900.5 2459.9L901.3 2462.3L902.0 2464.7L902.8 2467.1L903.5 2469.6L904.2 2472.0L905.0 2474.3L905.7 2476.6L906.5 2479.0L907.2 2481.4L908.0 2483.8L908.7 2486.1L909.4 2488.4L910.2 2490.4L910.9 2492.4L911.7 2494.2L912.4 2496.1L913.1 2497.9L913.9 2499.7L914.6 2501.4L915.4 2503.1L916.1 2504.7L916.8 2506.3L917.6 2507.8L918.3 2509.3L919.1 2510.8L919.8 2512.2L920.6 2513.6L921.3 2515.0L922.0 2516.4L922.8 2517.7L923.5 2519.0L924.3 2520.3L925.0 2521.5L925.7 2522.8L926.5 2524.0L927.2 2525.2L928.0 2526.3L928.7 2527.4L929.4 2528.5L930.2 2529.6L930.9 2530.6L931.7 2531.6L932.4 2532.5L933.1 2533.4L933.9 2534.4L934.6 2535.3L935.4 2536.2L936.1 2537.0L936.9 2537.9L937.6 2538.8L938.3 2539.6L939.1 2540.4L939.8 2541.2L940.6 2542.0L941.3 2542.7L942.0 2543.4L942.8 2544.1L943.5 2544.8L944.3 2545.4L945.0 2546.0L945.7 2546.6L946.5 2547.1L947.2 2547.6L948.0 2548.1L948.7 2548.5L949.5 2548.9L950.2 2549.4L950.9 2549.8L951.7 2550.1L952.4 2550.5L953.2 2550.9L953.9 2551.3L954.6 2551.6L955.4 2551.9L956.1 2552.3L956.9 2552.6L957.6 2552.9L958.3 2553.2L959.1 2553.4L959.8 2553.7L960.6 2554.0L961.3 2554.2L962.0 2554.5L962.8 2554.7L963.5 2554.9L964.3 2555.1L965.0 2555.3L965.8 2555.5L966.5 2555.7L967.2 2555.9L968.0 2556.1L968.7 2556.2L969.5 2556.4L970.2 2556.5L970.9 2556.7L971.7 2556.8L972.4 2557.0L973.2 2557.1L973.9 2557.2L974.6 2557.4L975.4 2557.5L976.1 2557.6L976.9 2557.8L977.6 2557.9L978.3 2558.0L979.1 2558.1L979.8 2558.2L980.6 2558.3L981.3 2558.5L982.1 2558.6L982.8 2558.7L983.5 2558.8L984.3 2558.9L985.0 2559.1L985.8 2559.2L986.5 2559.3L987.2 2559.5L988.0 2559.6L988.7 2559.7L989.5 2559.9L990.2 2560.0L990.9 2560.2L991.7 2560.3L992.4 2560.5L993.2 2560.6L993.9 2560.7L994.7 2560.8L995.4 2561.0L996.1 2561.1L996.9 2561.2L997.6 2561.3L998.4 2561.4L999.1 2561.4L999.8 2561.5L1000.6 2561.5L1001.3 2561.6L1002.1 2561.6L1002.8 2561.7L1003.5 2561.7L1004.3 2561.7L1005.0 2561.8L1005.8 2561.8L1006.5 2561.9L1007.2 2561.9L1008.0 2561.9L1008.7 2562.0L1009.5 2562.0L1010.2 2562.0L1011.0 2562.1L1011.7 2562.1L1012.4 2562.1L1013.2 2562.2L1013.9 2562.2L1014.7 2562.2L1015.4 2562.2L1016.1 2562.3L1016.9 2562.3L1017.6 2562.3L1018.4 2562.3L1019.1 2562.4L1019.8 2562.4L1020.6 2562.4L1021.3 2562.4L1022.1 2562.4L1022.8 2562.4L1023.6 2562.5L1024.3 2562.5L1025.0 2562.5L1025.8 2562.5L1026.5 2562.5L1027.3 2562.5L1028.0 2562.5L1028.7 2562.5L1029.5 2562.5L1030.2 2562.5L1031.0 2562.5L1031.7 2562.5L1032.4 2562.5L1033.2 2562.5L1033.9 2562.5L1034.7 2562.5L1035.4 2562.5L1036.1 2562.5L1036.9 2562.5L1037.6 2562.5L1038.4 2562.5L1039.1 2562.5L1039.9 2562.5L1040.6 2562.5L1041.3 2562.5L1042.1 2562.5L1042.8 2562.5L1043.6 2562.5L1044.3 2562.5L1045.0 2562.5L1045.8 2562.5L1046.5 2562.5L1047.3 2562.5L1048.0 2562.5L1048.7 2562.5L1049.5 2562.5L1050.2 2562.5L1051.0 2562.5L1051.7 2562.5L1052.4 2562.5L1053.2 2562.5L1053.9 2562.5L1054.7 2562.5L1055.4 2562.5L1056.2 2562.5L1056.9 2562.5L1057.6 2562.5L1058.4 2562.5L1059.1 2562.5L1059.9 2562.5L1060.6 2562.5L1061.3 2562.5L1062.1 2562.5L1062.8 2562.5L1063.6 2562.5L1064.3 2562.5L1065.0 2562.5L1065.8 2562.5L1066.5 2562.5L1067.3 2562.5L1068.0 2562.5L1068.8 2562.5L1069.5 2562.5L1070.2 2562.5L1071.0 2562.5L1071.7 2562.5L1072.5 2562.5L1073.2 2562.5L1073.9 2562.5L1074.7 2562.5L1075.4 2562.5L1076.2 2562.5L1076.9 2562.5L1077.6 2562.5L1078.4 2562.5L1079.1 2562.5L1079.9 2562.5L1080.6 2562.5L1081.3 2562.5L1082.1 2562.5L1082.8 2562.5L1083.6 2562.5L1084.3 2562.5L1085.1 2562.5L1085.8 2562.5L1086.5 2562.5L1087.3 2562.5L1088.0 2562.5L1088.8 2562.5L1089.5 2562.5L1090.2 2562.5L1091.0 2562.5L1091.7 2562.5L1092.5 2562.5L1093.2 2562.5L1093.9 2562.5L1094.7 2562.5L1095.4 2562.5L1096.2 2562.5L1096.9 2562.5L1097.7 2562.5L1098.4 2562.5L1099.1 2562.5L1099.9 2562.5L1100.6 2562.5L1101.4 2562.5L1102.1 2562.5L1102.8 2562.5L1103.6 2562.5L1104.3 2562.5L1105.1 2562.5L1105.8 2562.5L1106.5 2562.5L1107.3 2562.5L1108.0 2562.5L1108.8 2562.5L1109.5 2562.5L1110.2 2562.5L1111.0 2562.5L1111.7 2562.5L1112.5 2562.5L1113.2 2562.5L1114.0 2562.5L1114.7 2562.5L1115.4 2562.5L1116.2 2562.5L1116.9 2562.5L1117.7 2562.5L1118.4 2562.5L1119.1 2562.5L1119.9 2562.5L1120.6 2562.5L1121.4 2562.5L1122.1 2562.5L1122.8 2562.5L1123.6 2562.5L1124.3 2562.5L1125.1 2562.5L1125.8 2562.5L1126.5 2562.5L1127.3 2562.5L1128.0 2562.5L1128.8 2562.5L1129.5 2562.5L1130.3 2562.5L1131.0 2562.5L1131.7 2562.5L1132.5 2562.5L1133.2 2562.5L1134.0 2562.5L1134.7 2562.5L1135.4 2562.5L1136.2 2562.5L1136.9 2562.5L1137.7 2562.5L1138.4 2562.5L1139.1 2562.5L1139.9 2562.5L1140.6 2562.5L1141.4 2562.5L1142.1 2562.5L1142.9 2562.5L1143.6 2562.5L1144.3 2562.5L1145.1 2562.5L1145.8 2562.5L1146.6 2562.5L1147.3 2562.5L1148.0 2562.5L1148.8 2562.5L1149.5 2562.5L1150.3 2562.5L1151.0 2562.5L1151.7 2562.5L1152.5 2562.5L1153.2 2562.5L1154.0 2562.5L1154.7 2562.5L1155.4 2562.5L1156.2 2562.5L1156.9 2562.5L1157.7 2562.5L1158.4 2562.5L1159.2 2562.5L1159.9 2562.5L1160.6 2562.5L1161.4 2562.5L1162.1 2562.5L1162.9 2562.5L1163.6 2562.5L1164.3 2562.5L1165.1 2562.5L1165.8 2562.5L1166.6 2562.5L1167.3 2562.5L1168.0 2562.5L1168.8 2562.5L1169.5 2562.5L1170.3 2562.5L1171.0 2562.5L1171.8 2562.5L1172.5 2562.5L1173.2 2562.5L1174.0 2562.5L1174.7 2562.5L1175.5 2562.5L1176.2 2562.5L1176.9 2562.5L1177.7 2562.5L1178.4 2562.5L1179.2 2562.5L1179.9 2562.5L1180.6 2562.5L1181.4 2562.5L1182.1 2562.5L1182.9 2562.5L1183.6 2562.5L1184.3 2562.5L1185.1 2562.5L1185.8 2562.5L1186.6 2562.5L1187.3 2562.5L1188.1 2562.5L1188.8 2562.5L1189.5 2562.5L1190.3 2562.5L1191.0 2562.5L1191.8 2562.5L1192.5 2562.5L1193.2 2562.5L1194.0 2562.5L1194.7 2562.5L1195.5 2562.5L1196.2 2562.5L1196.9 2562.5L1197.7 2562.5L1198.4 2562.5L1199.2 2562.5L1199.9 2562.5L1200.7 2562.5L1201.4 2562.5L1202.1 2562.5L1202.9 2562.5L1203.6 2562.5L1204.4 2562.5L1205.1 2562.5L1205.8 2562.5L1206.6 2562.5L1207.3 2562.5L1208.1 2562.5L1208.8 2562.5L1209.5 2562.5L1210.3 2562.5L1211.0 2562.5L1211.8 2562.5L1212.5 2562.5L1213.2 2562.5L1214.0 2562.5L1214.7 2562.5L1215.5 2562.5L1216.2 2562.5L1217.0 2562.5L1217.7 2562.5L1218.4 2562.5L1219.2 2562.5L1219.9 2562.5L1220.7 2562.5L1221.4 2562.5L1222.1 2562.5L1222.9 2562.5L1223.6 2562.5L1224.4 2562.5L1225.1 2562.5L1225.8 2562.5L1226.6 2562.5L1227.3 2562.5L1228.1 2562.5L1228.8 2562.5L1229.5 2562.5L1230.3 2562.5L1231.0 2562.5L1231.8 2562.5L1232.5 2562.5L1233.3 2562.5L1234.0 2562.5L1234.7 2562.5L1235.5 2562.5L1236.2 2562.5L1237.0 2562.5L1237.7 2562.5L1238.4 2562.5L1239.2 2562.5L1239.9 2562.5L1240.7 2562.5L1241.4 2562.5L1242.1 2562.5L1242.9 2562.5L1243.6 2562.5L1244.4 2562.5L1245.1 2562.5L1245.9 2562.5L1246.6 2562.5L1247.3 2562.5L1248.1 2562.5L1248.8 2562.5L1249.6 2562.5L1250.3 2562.5L1251.0 2562.5L1251.8 2562.5L1252.5 2562.5L1253.3 2562.5L1254.0 2562.5L1254.7 2562.5L1255.5 2562.5L1256.2 2562.5L1257.0 2562.5L1257.7 2562.5L1258.4 2562.5L1259.2 2562.5L1259.9 2562.5L1260.7 2562.5L1261.4 2562.5L1262.2 2562.5L1262.9 2562.5L1263.6 2562.5L1264.4 2562.5L1265.1 2562.5L1265.9 2562.4L1266.6 2562.4L1267.3 2562.4L1268.1 2562.4L1268.8 2562.4L1269.6 2562.3L1270.3 2562.3L1271.0 2562.3L1271.8 2562.2L1272.5 2562.2L1273.3 2562.2L1274.0 2562.2L1274.8 2562.1L1275.5 2562.1L1276.2 2562.0L1277.0 2562.0L1277.7 2562.0L1278.5 2561.9L1279.2 2561.9L1279.9 2561.8L1280.7 2561.8L1281.4 2561.7L1282.2 2561.7L1282.9 2561.6L1283.6 2561.6L1284.4 2561.6L1285.1 2561.5L1285.9 2561.5L1286.6 2561.4L1287.3 2561.4L1288.1 2561.3L1288.8 2561.2L1289.6 2561.2L1290.3 2561.1L1291.1 2561.1L1291.8 2561.0L1292.5 2561.0L1293.3 2560.9L1294.0 2560.9L1294.8 2560.8L1295.5 2560.8L1296.2 2560.7L1297.0 2560.7L1297.7 2560.6L1298.5 2560.6L1299.2 2560.5L1299.9 2560.5L1300.7 2560.4L1301.4 2560.4L1302.2 2560.3L1302.9 2560.3L1303.6 2560.2L1304.4 2560.2L1305.1 2560.1L1305.9 2560.1L1306.6 2560.0L1307.4 2560.0L1308.1 2559.9L1308.8 2559.9L1309.6 2559.9L1310.3 2559.8L1311.1 2559.8L1311.8 2559.8L1312.5 2559.7L1313.3 2559.7L1314.0 2559.6L1314.8 2559.6L1315.5 2559.6L1316.2 2559.6L1317.0 2559.5L1317.7 2559.5L1318.5 2559.5L1319.2 2559.5L1320.0 2559.4L1320.7 2559.4L1321.4 2559.4L1322.2 2559.4L1322.9 2559.4L1323.7 2559.4L1324.4 2559.4L1325.1 2559.4L1325.9 2559.4L1326.6 2559.4L1327.4 2559.4L1328.1 2559.4L1328.8 2559.4L1329.6 2559.4L1330.3 2559.4L1331.1 2559.4L1331.8 2559.4L1332.5 2559.4L1333.3 2559.4L1334.0 2559.4L1334.8 2559.4L1335.5 2559.4L1336.3 2559.4L1337.0 2559.4L1337.7 2559.4L1338.5 2559.5L1339.2 2559.5L1340.0 2559.5L1340.7 2559.5L1341.4 2559.5L1342.2 2559.5L1342.9 2559.5L1343.7 2559.5L1344.4 2559.6L1345.1 2559.6L1345.9 2559.6L1346.6 2559.6L1347.4 2559.6L1348.1 2559.6L1348.8 2559.7L1349.6 2559.7L1350.3 2559.7L1351.1 2559.7L1351.8 2559.7L1352.6 2559.7L1353.3 2559.8L1354.0 2559.8L1354.8 2559.8L1355.5 2559.8L1356.3 2559.8L1357.0 2559.9L1357.7 2559.9L1358.5 2559.9L1359.2 2559.9L1360.0 2559.9L1360.7 2559.9L1361.4 2560.0L1362.2 2560.0L1362.9 2560.0L1363.7 2560.0L1364.4 2560.0L1365.2 2560.1L1365.9 2560.1L1366.6 2560.1L1367.4 2560.1L1368.1 2560.1L1368.9 2560.1L1369.6 2560.1L1370.3 2560.2L1371.1 2560.2L1371.8 2560.2L1372.6 2560.2L1373.3 2560.2L1374.0 2560.2L1374.8 2560.2L1375.5 2560.2L1376.3 2560.3L1377.0 2560.3L1377.7 2560.3L1378.5 2560.3L1379.2 2560.3L1380.0 2560.3L1380.7 2560.3L1381.5 2560.3L1382.2 2560.3L1382.9 2560.3L1383.7 2560.3L1384.4 2560.3L1385.2 2560.3L1385.9 2560.3L1386.6 2560.3L1387.4 2560.3L1388.1 2560.3L1388.9 2560.3L1389.6 2560.3L1390.3 2560.3L1391.1 2560.3L1391.8 2560.3L1392.6 2560.3L1393.3 2560.3L1394.1 2560.3L1394.8 2560.3L1395.5 2560.3L1396.3 2560.3L1397.0 2560.3L1397.8 2560.3L1398.5 2560.3L1399.2 2560.3L1400.0 2560.3L1400.7 2560.3L1401.5 2560.3L1402.2 2560.3L1402.9 2560.3L1403.7 2560.3L1404.4 2560.3L1405.2 2560.3L1405.9 2560.3L1406.6 2560.3L1407.4 2560.3L1408.1 2560.3L1408.9 2560.3L1409.6 2560.3L1410.4 2560.3L1411.1 2560.3L1411.8 2560.3L1412.6 2560.3L1413.3 2560.3L1414.1 2560.2L1414.8 2560.2L1415.5 2560.2L1416.3 2560.2L1417.0 2560.2L1417.8 2560.2L1418.5 2560.2L1419.2 2560.2L1420.0 2560.2L1420.7 2560.2L1421.5 2560.2L1422.2 2560.2L1422.9 2560.2L1423.7 2560.2L1424.4 2560.2L1425.2 2560.2L1425.9 2560.2L1426.7 2560.2L1427.4 2560.2L1428.1 2560.2L1428.9 2560.2L1429.6 2560.2L1430.4 2560.2L1431.1 2560.2L1431.8 2560.2L1432.6 2560.2L1433.3 2560.2L1434.1 2560.2L1434.8 2560.1L1435.5 2560.1L1436.3 2560.1L1437.0 2560.1L1437.8 2560.1L1438.5 2560.1L1439.3 2560.1L1440.0 2560.1L1440.7 2560.1L1441.5 2560.1L1442.2 2560.1L1443.0 2560.1L1443.7 2560.1L1444.4 2560.1L1445.2 2560.1L1445.9 2560.1L1446.7 2560.1L1447.4 2560.1L1448.1 2560.1L1448.9 2560.1L1449.6 2560.1L1450.4 2560.1L1451.1 2560.1L1451.8 2560.1L1452.6 2560.1L1453.3 2560.1L1454.1 2560.1L1454.8 2560.1L1455.6 2560.1L1456.3 2560.1L1457.0 2560.1L1457.8 2560.1L1458.5 2560.1L1459.3 2560.1L1460.0 2560.1L1460.7 2560.1L1461.5 2560.1L1462.2 2560.1L1463.0 2560.1L1463.7 2560.1L1464.4 2560.1L1465.2 2560.1L1465.9 2560.1L1466.7 2560.1L1467.4 2560.1L1468.2 2560.1L1468.9 2560.1L1469.6 2560.1L1470.4 2560.1L1471.1 2560.1L1471.9 2560.1L1472.6 2560.1L1473.3 2560.1L1474.1 2560.1L1474.8 2560.1L1475.6 2560.1L1476.3 2560.1L1477.0 2560.1L1477.8 2560.1L1478.5 2560.1L1479.3 2560.1L1480.0 2560.1L1480.7 2560.2L1481.5 2560.2L1482.2 2560.2L1483.0 2560.2L1483.7 2560.2L1484.5 2560.2L1485.2 2560.2L1485.9 2560.2L1486.7 2560.2L1487.4 2560.2L1488.2 2560.2L1488.9 2560.2L1489.6 2560.2L1490.4 2560.2L1491.1 2560.2L1491.9 2560.2L1492.6 2560.2L1493.3 2560.3L1494.1 2560.3L1494.8 2560.3L1495.6 2560.3L1496.3 2560.3L1497.0 2560.3L1497.8 2560.3L1498.5 2560.3L1499.3 2560.3L1500.0 2560.3L1500.8 2560.3L1501.5 2560.3L1502.2 2560.3L1503.0 2560.4L1503.7 2560.4L1504.5 2560.4L1505.2 2560.4L1505.9 2560.4L1506.7 2560.4L1507.4 2560.4L1508.2 2560.4L1508.9 2560.4L1509.6 2560.4L1510.4 2560.4L1511.1 2560.5L1511.9 2560.5L1512.6 2560.5L1513.4 2560.5L1514.1 2560.5L1514.8 2560.5L1515.6 2560.5L1516.3 2560.5L1517.1 2560.5L1517.8 2560.6L1518.5 2560.6L1519.3 2560.6L1520.0 2560.6L1520.8 2560.6L1521.5 2560.6L1522.2 2560.6L1523.0 2560.6L1523.7 2560.6L1524.5 2560.7L1525.2 2560.7L1525.9 2560.7L1526.7 2560.7L1527.4 2560.7L1528.2 2560.7L1528.9 2560.7L1529.7 2560.7L1530.4 2560.7L1531.1 2560.8L1531.9 2560.8L1532.6 2560.8L1533.4 2560.8L1534.1 2560.8L1534.8 2560.8L1535.6 2560.8L1536.3 2560.9L1537.1 2560.9L1537.8 2560.9L1538.5 2560.9L1539.3 2560.9L1540.0 2561.0L1540.8 2561.0L1541.5 2561.0L1542.3 2561.1L1543.0 2561.1L1543.7 2561.1L1544.5 2561.2L1545.2 2561.2L1546.0 2561.2L1546.7 2561.3L1547.4 2561.3L1548.2 2561.3L1548.9 2561.4L1549.7 2561.4L1550.4 2561.5L1551.1 2561.5L1551.9 2561.5L1552.6 2561.6L1553.4 2561.6L1554.1 2561.7L1554.8 2561.7L1555.6 2561.8L1556.3 2561.8L1557.1 2561.8L1557.8 2561.9L1558.6 2561.9L1559.3 2562.0L1560.0 2562.0L1560.8 2562.1L1561.5 2562.1L1562.3 2562.1L1563.0 2562.2L1563.7 2562.2L1564.5 2562.3L1565.2 2562.3L1566.0 2562.3L1566.7 2562.4L1567.4 2562.4L1568.2 2562.4L1568.9 2562.5L1569.7 2562.5L1570.4 2562.5L1571.1 2562.6L1571.9 2562.6L1572.6 2562.6L1573.4 2562.6L1574.1 2562.7L1574.9 2562.7L1575.6 2562.7L1576.3 2562.7L1577.1 2562.7L1577.8 2562.7L1578.6 2562.8L1579.3 2562.8L1580.0 2562.8L1580.8 2562.8L1581.5 2562.8L1582.3 2562.8L1583.0 2562.8L1583.7 2562.8L1584.5 2562.8L1585.2 2562.8L1586.0 2562.8L1586.7 2562.9L1587.5 2562.9L1588.2 2562.9L1588.9 2562.9L1589.7 2562.9L1590.4 2562.9L1591.2 2562.9L1591.9 2562.9L1592.6 2562.9L1593.4 2562.9L1594.1 2562.9L1594.9 2562.9L1595.6 2562.9L1596.3 2563.0L1597.1 2563.0L1597.8 2563.0L1598.6 2563.0L1599.3 2563.0L1600.0 2563.0L1600.8 2563.0L1601.5 2563.0L1602.3 2563.0L1603.0 2563.0L1603.8 2563.0L1604.5 2563.0L1605.2 2563.0L1606.0 2563.0L1606.7 2563.0L1607.5 2563.0L1608.2 2563.0L1608.9 2563.0L1609.7 2563.0L1610.4 2563.0L1611.2 2563.0L1611.9 2563.0L1612.6 2563.0L1613.4 2563.0L1614.1 2563.0L1614.9 2563.0L1615.6 2563.0L1616.4 2563.0L1617.1 2563.0L1617.8 2563.0L1618.6 2563.0L1619.3 2563.0L1620.1 2563.0L1620.8 2563.0L1621.5 2563.0L1622.3 2563.0L1623.0 2563.0L1623.8 2563.0L1624.5 2563.0L1625.2 2563.0L1626.0 2563.0L1626.7 2563.0L1627.5 2563.0L1628.2 2563.0L1628.9 2563.0L1629.7 2563.0L1630.4 2563.0L1631.2 2563.0L1631.9 2563.0L1632.7 2563.0L1633.4 2563.0L1634.1 2563.0L1634.9 2563.0L1635.6 2563.0L1636.4 2563.0L1637.1 2563.0L1637.8 2563.0L1638.6 2563.0L1639.3 2563.0L1640.1 2563.0L1640.8 2563.0L1641.5 2563.0L1642.3 2563.0L1643.0 2563.0L1643.8 2563.0L1644.5 2563.0L1645.2 2563.0L1646.0 2563.0L1646.7 2563.0L1647.5 2563.0L1648.2 2563.0L1649.0 2563.0L1649.7 2563.0L1650.4 2563.0L1651.2 2563.0L1651.9 2563.0L1652.7 2563.0L1653.4 2563.0L1654.1 2563.0L1654.9 2563.0L1655.6 2563.0L1656.4 2563.0L1657.1 2563.0L1657.8 2563.0L1658.6 2563.0L1659.3 2563.0L1660.1 2563.0L1660.8 2563.0L1661.6 2563.0L1662.3 2563.0L1663.0 2563.0L1663.8 2563.0L1664.5 2563.0L1665.3 2563.0L1666.0 2563.0L1666.7 2563.0L1667.5 2563.0L1668.2 2563.0L1669.0 2563.0L1669.7 2563.0L1670.4 2563.0L1671.2 2563.0L1671.9 2563.0L1672.7 2563.0L1673.4 2563.0L1674.1 2563.0L1674.9 2563.0L1675.6 2563.0L1676.4 2563.0L1677.1 2563.0L1677.9 2563.0L1678.6 2563.0L1679.3 2563.0L1680.1 2563.0L1680.8 2563.0L1681.6 2563.0L1682.3 2563.0L1683.0 2563.0L1683.8 2563.0L1684.5 2563.0L1685.3 2563.0L1686.0 2563.0L1686.7 2563.0L1687.5 2563.0L1688.2 2563.0L1689.0 2563.0L1689.7 2563.0L1690.5 2563.0L1691.2 2563.0L1691.9 2563.0L1692.7 2563.0L1693.4 2563.0L1694.2 2563.0L1694.9 2563.0L1695.6 2563.0L1696.4 2563.0L1697.1 2563.0L1697.9 2563.0L1698.6 2563.0L1699.3 2563.0L1700.1 2563.0L1700.8 2563.0L1701.6 2563.0L1702.3 2563.0L1703.0 2563.0L1703.8 2563.0L1704.5 2563.0L1705.3 2563.0L1706.0 2563.0L1706.8 2563.0L1707.5 2563.0L1708.2 2563.0L1709.0 2563.0L1709.7 2563.0L1710.5 2563.0L1711.2 2563.0L1711.9 2563.0L1712.7 2563.0L1713.4 2563.0L1714.2 2563.0L1714.9 2563.0L1715.6 2563.0L1716.4 2563.0L1717.1 2563.0L1717.9 2563.0L1718.6 2563.0L1719.3 2563.0L1720.1 2563.0L1720.8 2563.0L1721.6 2563.0L1722.3 2563.0L1723.1 2563.0L1723.8 2563.0L1724.5 2563.0L1725.3 2563.0L1726.0 2563.0L1726.8 2563.0L1727.5 2563.0L1728.2 2563.0L1729.0 2563.0L1729.7 2563.0L1730.5 2563.0L1731.2 2563.0L1731.9 2563.0L1732.7 2563.0L1733.4 2563.0L1734.2 2563.0L1734.9 2563.0L1735.7 2563.0L1736.4 2563.0L1737.1 2563.0L1737.9 2563.0L1738.6 2563.0L1739.4 2563.0L1740.1 2563.0L1740.8 2563.0L1741.6 2563.0L1742.3 2563.0L1743.1 2563.0L1743.8 2563.0L1744.5 2563.0L1745.3 2563.0L1746.0 2563.0L1746.8 2563.0L1747.5 2563.0L1748.2 2563.0L1749.0 2563.0L1749.7 2563.0L1750.5 2563.0L1751.2 2563.0L1752.0 2563.0L1752.7 2563.0L1753.4 2563.0L1754.2 2563.0L1754.9 2563.0L1755.7 2563.0L1756.4 2563.0L1757.1 2563.0L1757.9 2563.0L1758.6 2563.0L1759.4 2563.0L1760.1 2563.0L1760.8 2563.0L1761.6 2563.0L1762.3 2563.0L1763.1 2563.0L1763.8 2563.0L1764.6 2563.0L1765.3 2563.0L1766.0 2563.0L1766.8 2563.0L1767.5 2563.0L1768.3 2563.0L1769.0 2563.0L1769.7 2563.0L1770.5 2563.0L1771.2 2563.0L1772.0 2563.0L1772.7 2563.0L1773.4 2563.0L1774.2 2563.0L1774.9 2563.0L1775.7 2563.0L1776.4 2563.0L1777.1 2563.0L1777.9 2563.0L1778.6 2563.0L1779.4 2563.0L1780.1 2563.0L1780.9 2563.0L1781.6 2563.0L1782.3 2563.0L1783.1 2563.0L1783.8 2563.0L1784.6 2563.0L1785.3 2563.0L1786.0 2563.0L1786.8 2563.0L1787.5 2563.0L1788.3 2563.0L1789.0 2563.0L1789.7 2563.0L1790.5 2563.0L1791.2 2563.0L1792.0 2563.0L1792.7 2563.0L1793.4 2563.0L1794.2 2563.0L1794.9 2563.0L1795.7 2563.0" fill="none" stroke="#000" stroke-width="3.4" stroke-linejoin="round" marker-start="url(#mc)" marker-mid="url(#mc)" marker-end="url(#mc)"/>
</g>
<path d="M377.5 2550.2H497.5V2336.3H377.5" stroke="#008000" stroke-width="9" stroke-linecap="round" stroke-dasharray="10.8 20.15" fill="none"/>
<path d="M377.5 2550.2V2336.3" stroke="#008000" stroke-width="9" stroke-linecap="round" stroke-dasharray="10.8 20.15" fill="none"/>
<path d="M464.4 2365.3V2563.0" stroke="#00f" stroke-width="9" stroke-linecap="round" stroke-dasharray="25.68 22.22 5.43 22.22 5.43 21.73" fill="none"/>
<path d="M568.6 2188.2V2563.0" stroke="#0f0" stroke-width="9" stroke-linecap="round" stroke-dasharray="25.68 22.22 5.43 22.22 5.43 21.73" fill="none"/>
<path d="M696.7 2005.7V2563.0" stroke="#00f" stroke-width="9" stroke-linecap="round" stroke-dasharray="25.68 22.22 5.43 22.22 5.43 21.73" fill="none"/>
<path d="M710.5 1624.8V2563.0" stroke="#0f0" stroke-width="9" stroke-linecap="round" stroke-dasharray="25.68 22.22 5.43 22.22 5.43 21.73" fill="none"/>
<path d="M834.6 2125.7V2563.0" stroke="#00f" stroke-width="9" stroke-linecap="round" stroke-dasharray="25.68 22.22 5.43 22.22 5.43 21.73" fill="none"/>
<text x="1092" y="2706.8" font-family="Liberation Serif, serif" font-weight="bold" font-size="84.3" text-anchor="middle" >Frequency (eV)</text>
<text transform="translate(94.3,1994) rotate(-90)" font-family="Liberation Serif, serif" font-weight="bold" font-size="86.5" text-anchor="middle">Absorption (cm<tspan font-size="50" dy="-47" dx="-3">-1</tspan><tspan dy="47" dx="2">)</tspan></text>
<rect x="1230.6" y="1487.6" width="577" height="163.8" fill="#fff" stroke="#000" stroke-width="2.8"/>
<path d="M1242.5 1532H1389.3" stroke="#0ff" stroke-width="3.4" stroke-linecap="round"/>
<path d="M1308.6 1532L1319.2 1525.2V1538.8Z" fill="#fff" stroke="#0ff" stroke-width="1.6"/>
<path d="M1242.5 1614.4H1389.3" stroke="#000" stroke-width="3.4" stroke-linecap="round"/>
<circle cx="1315.3" cy="1614.4" r="5.8" fill="#fff" stroke="#000" stroke-width="1.7"/>
<text x="1405.5" y="1553.3" font-family="Liberation Serif, serif" font-weight="bold" font-size="66.7" text-anchor="start" >aPNT r = 11.5</text>
<text x="1404.5" y="1635" font-family="Liberation Serif, serif" font-weight="bold" font-size="66.7" text-anchor="start" >zPNT r = 11.5</text>
</svg></body></html>
